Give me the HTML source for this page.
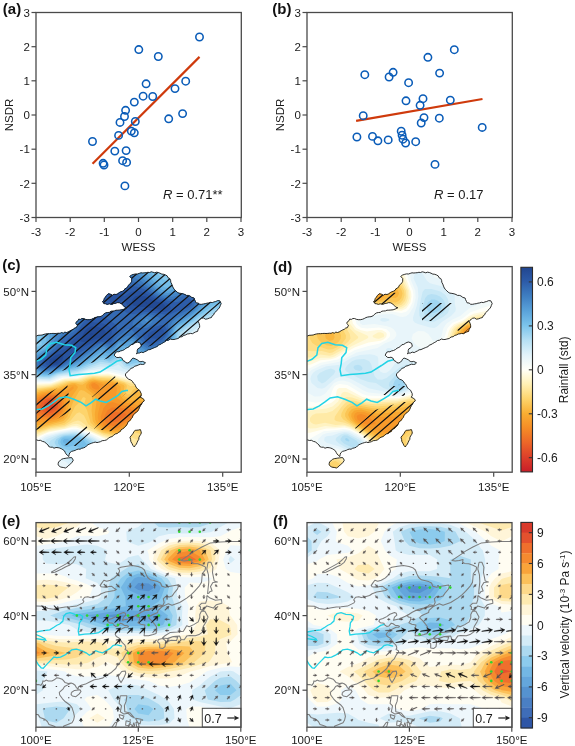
<!DOCTYPE html>
<html><head><meta charset="utf-8"><style>
html,body{margin:0;padding:0;background:#fff;overflow:hidden;width:575px;height:746px;}
svg{display:block;will-change:transform;}
.t{font-family:"Liberation Sans",sans-serif;font-size:11.5px;fill:#1a1a1a;}
.t2{font-family:"Liberation Sans",sans-serif;font-size:13px;fill:#1a1a1a;}
.lab{font-family:"Liberation Sans",sans-serif;font-size:15px;font-weight:bold;fill:#111;}
</style></head>
<body><svg width="575" height="746" viewBox="0 0 575 746">
<line x1="31.5" y1="217.5" x2="36.0" y2="217.5" stroke="#4a4a4a" stroke-width="1.2"/>
<text x="29.8" y="221.7" text-anchor="end" class="t">-3</text>
<line x1="36.0" y1="217.5" x2="36.0" y2="222.0" stroke="#4a4a4a" stroke-width="1.2"/>
<text x="36.0" y="236.0" text-anchor="middle" class="t">-3</text>
<line x1="31.5" y1="183.3" x2="36.0" y2="183.3" stroke="#4a4a4a" stroke-width="1.2"/>
<text x="29.8" y="187.5" text-anchor="end" class="t">-2</text>
<line x1="70.2" y1="217.5" x2="70.2" y2="222.0" stroke="#4a4a4a" stroke-width="1.2"/>
<text x="70.2" y="236.0" text-anchor="middle" class="t">-2</text>
<line x1="31.5" y1="149.2" x2="36.0" y2="149.2" stroke="#4a4a4a" stroke-width="1.2"/>
<text x="29.8" y="153.4" text-anchor="end" class="t">-1</text>
<line x1="104.3" y1="217.5" x2="104.3" y2="222.0" stroke="#4a4a4a" stroke-width="1.2"/>
<text x="104.3" y="236.0" text-anchor="middle" class="t">-1</text>
<line x1="31.5" y1="115.0" x2="36.0" y2="115.0" stroke="#4a4a4a" stroke-width="1.2"/>
<text x="29.8" y="119.2" text-anchor="end" class="t">0</text>
<line x1="138.5" y1="217.5" x2="138.5" y2="222.0" stroke="#4a4a4a" stroke-width="1.2"/>
<text x="138.5" y="236.0" text-anchor="middle" class="t">0</text>
<line x1="31.5" y1="80.8" x2="36.0" y2="80.8" stroke="#4a4a4a" stroke-width="1.2"/>
<text x="29.8" y="85.0" text-anchor="end" class="t">1</text>
<line x1="172.7" y1="217.5" x2="172.7" y2="222.0" stroke="#4a4a4a" stroke-width="1.2"/>
<text x="172.7" y="236.0" text-anchor="middle" class="t">1</text>
<line x1="31.5" y1="46.7" x2="36.0" y2="46.7" stroke="#4a4a4a" stroke-width="1.2"/>
<text x="29.8" y="50.9" text-anchor="end" class="t">2</text>
<line x1="206.8" y1="217.5" x2="206.8" y2="222.0" stroke="#4a4a4a" stroke-width="1.2"/>
<text x="206.8" y="236.0" text-anchor="middle" class="t">2</text>
<line x1="31.5" y1="12.5" x2="36.0" y2="12.5" stroke="#4a4a4a" stroke-width="1.2"/>
<text x="29.8" y="16.7" text-anchor="end" class="t">3</text>
<line x1="241.0" y1="217.5" x2="241.0" y2="222.0" stroke="#4a4a4a" stroke-width="1.2"/>
<text x="241.0" y="236.0" text-anchor="middle" class="t">3</text>
<rect x="36.0" y="12.5" width="205.3" height="205.0" fill="none" stroke="#4a4a4a" stroke-width="1.3"/>
<line x1="92.5" y1="163.8" x2="199.5" y2="56.9" stroke="#cf3a0c" stroke-width="2.2"/>
<circle cx="199.5" cy="37.0" r="3.7" fill="none" stroke="#0a5cb8" stroke-width="1.55"/>
<circle cx="138.8" cy="49.6" r="3.7" fill="none" stroke="#0a5cb8" stroke-width="1.55"/>
<circle cx="158.3" cy="56.5" r="3.7" fill="none" stroke="#0a5cb8" stroke-width="1.55"/>
<circle cx="146.1" cy="83.8" r="3.7" fill="none" stroke="#0a5cb8" stroke-width="1.55"/>
<circle cx="185.7" cy="81.2" r="3.7" fill="none" stroke="#0a5cb8" stroke-width="1.55"/>
<circle cx="175.0" cy="88.6" r="3.7" fill="none" stroke="#0a5cb8" stroke-width="1.55"/>
<circle cx="143.1" cy="96.2" r="3.7" fill="none" stroke="#0a5cb8" stroke-width="1.55"/>
<circle cx="152.7" cy="96.5" r="3.7" fill="none" stroke="#0a5cb8" stroke-width="1.55"/>
<circle cx="134.3" cy="102.1" r="3.7" fill="none" stroke="#0a5cb8" stroke-width="1.55"/>
<circle cx="125.6" cy="110.3" r="3.7" fill="none" stroke="#0a5cb8" stroke-width="1.55"/>
<circle cx="124.5" cy="116.5" r="3.7" fill="none" stroke="#0a5cb8" stroke-width="1.55"/>
<circle cx="182.6" cy="113.6" r="3.7" fill="none" stroke="#0a5cb8" stroke-width="1.55"/>
<circle cx="168.7" cy="118.8" r="3.7" fill="none" stroke="#0a5cb8" stroke-width="1.55"/>
<circle cx="120.0" cy="122.4" r="3.7" fill="none" stroke="#0a5cb8" stroke-width="1.55"/>
<circle cx="135.3" cy="121.5" r="3.7" fill="none" stroke="#0a5cb8" stroke-width="1.55"/>
<circle cx="118.6" cy="135.4" r="3.7" fill="none" stroke="#0a5cb8" stroke-width="1.55"/>
<circle cx="131.3" cy="131.1" r="3.7" fill="none" stroke="#0a5cb8" stroke-width="1.55"/>
<circle cx="134.3" cy="132.8" r="3.7" fill="none" stroke="#0a5cb8" stroke-width="1.55"/>
<circle cx="92.5" cy="141.5" r="3.7" fill="none" stroke="#0a5cb8" stroke-width="1.55"/>
<circle cx="114.8" cy="151.1" r="3.7" fill="none" stroke="#0a5cb8" stroke-width="1.55"/>
<circle cx="126.1" cy="150.6" r="3.7" fill="none" stroke="#0a5cb8" stroke-width="1.55"/>
<circle cx="103.1" cy="163.3" r="3.7" fill="none" stroke="#0a5cb8" stroke-width="1.55"/>
<circle cx="104.0" cy="165.0" r="3.7" fill="none" stroke="#0a5cb8" stroke-width="1.55"/>
<circle cx="122.6" cy="160.7" r="3.7" fill="none" stroke="#0a5cb8" stroke-width="1.55"/>
<circle cx="126.6" cy="162.4" r="3.7" fill="none" stroke="#0a5cb8" stroke-width="1.55"/>
<circle cx="124.9" cy="185.9" r="3.7" fill="none" stroke="#0a5cb8" stroke-width="1.55"/>
<text x="138.5" y="250.5" text-anchor="middle" class="t">WESS</text>
<text transform="translate(13.4,115) rotate(-90)" text-anchor="middle" class="t">NSDR</text>
<text x="2.8" y="14" class="lab">(a)</text>
<text x="163" y="199" class="t2"><tspan font-style="italic">R</tspan> = 0.71**</text>
<line x1="302.5" y1="217.5" x2="307.0" y2="217.5" stroke="#4a4a4a" stroke-width="1.2"/>
<text x="300.8" y="221.7" text-anchor="end" class="t">-3</text>
<line x1="307.0" y1="217.5" x2="307.0" y2="222.0" stroke="#4a4a4a" stroke-width="1.2"/>
<text x="307.0" y="236.0" text-anchor="middle" class="t">-3</text>
<line x1="302.5" y1="183.3" x2="307.0" y2="183.3" stroke="#4a4a4a" stroke-width="1.2"/>
<text x="300.8" y="187.5" text-anchor="end" class="t">-2</text>
<line x1="341.2" y1="217.5" x2="341.2" y2="222.0" stroke="#4a4a4a" stroke-width="1.2"/>
<text x="341.2" y="236.0" text-anchor="middle" class="t">-2</text>
<line x1="302.5" y1="149.2" x2="307.0" y2="149.2" stroke="#4a4a4a" stroke-width="1.2"/>
<text x="300.8" y="153.4" text-anchor="end" class="t">-1</text>
<line x1="375.3" y1="217.5" x2="375.3" y2="222.0" stroke="#4a4a4a" stroke-width="1.2"/>
<text x="375.3" y="236.0" text-anchor="middle" class="t">-1</text>
<line x1="302.5" y1="115.0" x2="307.0" y2="115.0" stroke="#4a4a4a" stroke-width="1.2"/>
<text x="300.8" y="119.2" text-anchor="end" class="t">0</text>
<line x1="409.5" y1="217.5" x2="409.5" y2="222.0" stroke="#4a4a4a" stroke-width="1.2"/>
<text x="409.5" y="236.0" text-anchor="middle" class="t">0</text>
<line x1="302.5" y1="80.8" x2="307.0" y2="80.8" stroke="#4a4a4a" stroke-width="1.2"/>
<text x="300.8" y="85.0" text-anchor="end" class="t">1</text>
<line x1="443.7" y1="217.5" x2="443.7" y2="222.0" stroke="#4a4a4a" stroke-width="1.2"/>
<text x="443.7" y="236.0" text-anchor="middle" class="t">1</text>
<line x1="302.5" y1="46.7" x2="307.0" y2="46.7" stroke="#4a4a4a" stroke-width="1.2"/>
<text x="300.8" y="50.9" text-anchor="end" class="t">2</text>
<line x1="477.8" y1="217.5" x2="477.8" y2="222.0" stroke="#4a4a4a" stroke-width="1.2"/>
<text x="477.8" y="236.0" text-anchor="middle" class="t">2</text>
<line x1="302.5" y1="12.5" x2="307.0" y2="12.5" stroke="#4a4a4a" stroke-width="1.2"/>
<text x="300.8" y="16.7" text-anchor="end" class="t">3</text>
<line x1="512.0" y1="217.5" x2="512.0" y2="222.0" stroke="#4a4a4a" stroke-width="1.2"/>
<text x="512.0" y="236.0" text-anchor="middle" class="t">3</text>
<rect x="307.0" y="12.5" width="205.3" height="205.0" fill="none" stroke="#4a4a4a" stroke-width="1.3"/>
<line x1="356.1" y1="120.8" x2="482.5" y2="99.0" stroke="#cf3a0c" stroke-width="2.2"/>
<circle cx="454.3" cy="49.7" r="3.7" fill="none" stroke="#0a5cb8" stroke-width="1.55"/>
<circle cx="427.9" cy="57.3" r="3.7" fill="none" stroke="#0a5cb8" stroke-width="1.55"/>
<circle cx="364.8" cy="74.7" r="3.7" fill="none" stroke="#0a5cb8" stroke-width="1.55"/>
<circle cx="393.1" cy="72.3" r="3.7" fill="none" stroke="#0a5cb8" stroke-width="1.55"/>
<circle cx="389.1" cy="77.0" r="3.7" fill="none" stroke="#0a5cb8" stroke-width="1.55"/>
<circle cx="439.6" cy="73.1" r="3.7" fill="none" stroke="#0a5cb8" stroke-width="1.55"/>
<circle cx="408.6" cy="82.7" r="3.7" fill="none" stroke="#0a5cb8" stroke-width="1.55"/>
<circle cx="406.0" cy="100.8" r="3.7" fill="none" stroke="#0a5cb8" stroke-width="1.55"/>
<circle cx="423.0" cy="98.7" r="3.7" fill="none" stroke="#0a5cb8" stroke-width="1.55"/>
<circle cx="420.1" cy="105.3" r="3.7" fill="none" stroke="#0a5cb8" stroke-width="1.55"/>
<circle cx="450.3" cy="100.1" r="3.7" fill="none" stroke="#0a5cb8" stroke-width="1.55"/>
<circle cx="363.2" cy="115.7" r="3.7" fill="none" stroke="#0a5cb8" stroke-width="1.55"/>
<circle cx="424.0" cy="117.6" r="3.7" fill="none" stroke="#0a5cb8" stroke-width="1.55"/>
<circle cx="421.2" cy="123.0" r="3.7" fill="none" stroke="#0a5cb8" stroke-width="1.55"/>
<circle cx="439.3" cy="118.2" r="3.7" fill="none" stroke="#0a5cb8" stroke-width="1.55"/>
<circle cx="482.2" cy="127.4" r="3.7" fill="none" stroke="#0a5cb8" stroke-width="1.55"/>
<circle cx="356.9" cy="137.0" r="3.7" fill="none" stroke="#0a5cb8" stroke-width="1.55"/>
<circle cx="372.5" cy="136.4" r="3.7" fill="none" stroke="#0a5cb8" stroke-width="1.55"/>
<circle cx="377.9" cy="140.8" r="3.7" fill="none" stroke="#0a5cb8" stroke-width="1.55"/>
<circle cx="388.2" cy="139.9" r="3.7" fill="none" stroke="#0a5cb8" stroke-width="1.55"/>
<circle cx="401.2" cy="131.2" r="3.7" fill="none" stroke="#0a5cb8" stroke-width="1.55"/>
<circle cx="402.1" cy="135.2" r="3.7" fill="none" stroke="#0a5cb8" stroke-width="1.55"/>
<circle cx="403.0" cy="139.2" r="3.7" fill="none" stroke="#0a5cb8" stroke-width="1.55"/>
<circle cx="405.6" cy="143.0" r="3.7" fill="none" stroke="#0a5cb8" stroke-width="1.55"/>
<circle cx="415.7" cy="141.7" r="3.7" fill="none" stroke="#0a5cb8" stroke-width="1.55"/>
<circle cx="435.0" cy="164.4" r="3.7" fill="none" stroke="#0a5cb8" stroke-width="1.55"/>
<text x="409.5" y="250.5" text-anchor="middle" class="t">WESS</text>
<text transform="translate(284.4,115) rotate(-90)" text-anchor="middle" class="t">NSDR</text>
<text x="272.3" y="14" class="lab">(b)</text>
<text x="434" y="199" class="t2"><tspan font-style="italic">R</tspan> = 0.17</text>
<clipPath id="landc"><path d="M30,336.3 32,336.2 34.1,336.5 36.1,336.2 38,335.3 40.1,335.2 42.2,335 44,334.3 45.8,333.9 47.6,333.7 49.5,333.7 51.3,333.5 53.1,333.4 55,333.5 56.8,333.4 58.4,333.2 60.1,333.3 61.6,332.6 63.3,333.2 64.8,332.1 66.5,332.5 68.4,331.8 70.2,330.7 71.7,329.9 73.3,329.3 74.6,328.1 76.3,327.7 77.5,325.2 75.7,323.4 76.4,321.8 78,320.7 78.7,319.1 80.4,319.4 81.9,318.5 83.6,318.5 85.3,319.3 87.2,319.7 89.3,319.7 91.4,319.3 93.3,318.5 94.9,317.6 96.5,317.1 98.2,316.8 100,316.7 102.2,315.7 103.9,314 105.5,312.9 107.4,312.5 109.3,312.4 110.9,311.2 112.6,311 114.4,310.9 116,310.2 117.8,310.2 119.9,310 122.1,309.8 124.1,309.1 126.9,307.7 124.9,307.2 123.4,305.7 121.8,304.1 119.9,302.9 117.7,302.6 115.7,303.3 114,303.4 112.5,304.2 110.9,304.3 109.2,303.8 107.4,304.4 105.6,303.8 103.9,303.6 102.5,301.5 103.8,300.3 104.2,298.6 105.3,297.3 106.5,295.4 108.1,293.8 110.3,294.1 112.3,295.2 114,294.2 116,294.5 117.8,293.8 119.2,292.6 120.8,291.8 122.5,291.2 124.1,290.3 124.9,288.8 126.5,288.1 127.6,286.9 128.3,285.3 129.7,284.2 130.9,282.8 131.7,281.3 131.7,278.5 129.7,276.4 131.6,275 133.8,274.3 135.6,273.9 137.5,274 139.2,273.4 141,272.8 142.9,273 144.6,272.8 146.2,272.7 147.9,272.3 149.6,272.5 151.2,271.8 152.9,272.2 154.7,272.8 156.5,272.2 158.3,272.5 160,273.2 161.8,274.1 163.8,274.3 165.6,275 167.2,275.9 168,277.7 169.7,278.5 170.6,280.3 170.8,282.3 171.8,284.1 172.5,286.1 173.3,288 174.6,289.7 175.9,290.9 177.2,292.2 178.8,293.1 180.9,293.4 183,293.8 185,294.5 186.5,295.4 188.3,295.4 189.9,295.9 191.8,297.4 194.1,298 194.6,299.7 195.4,301.3 196.2,302.9 198.1,303 199.7,304.3 201.7,304.3 203.4,303.9 205.2,303.7 206.9,303.2 208.7,302.9 210.4,302.3 212.3,302.6 214,301.9 215.7,301.5 217.7,300.6 219.8,300.8 221.2,303.6 220.4,305.3 219.8,307 218.6,308.8 217,310.2 215.7,311.9 214.3,313 213.7,314.8 212.2,315.8 211.5,317.5 209.4,318.1 207.3,318.9 205.4,319.2 203.6,318 201.7,318.2 200.4,319.2 199,320.2 198.3,321.7 199.1,323.4 199.6,325.3 199.7,327.2 198.2,329.1 197.6,331.4 195.7,331.9 194,332.8 192.5,333.7 190.6,333.4 189,333.8 187.2,334 185.7,334.9 183.8,335.4 182.1,336.7 180.1,337 178.2,338.5 175.9,339 174,339.5 172.2,339.5 170.3,339 168.6,340.2 166.5,340.5 164.8,341.8 163.2,342.7 161.6,343.6 160,344.6 158.4,345 157.3,346.5 155.8,347.1 154.3,347.7 152.1,348.6 150,349.6 148.1,349.8 146.5,350.9 144.8,351.7 143.2,352.6 141.2,352.1 139.6,353 137.8,353.1 136.4,353.8 137.2,352.3 137.2,350.5 137.8,348.9 139.8,347.8 141.3,346.1 140.6,343.3 137.8,342 136,342.4 134.3,343.3 132.8,344.4 130.9,344.7 129.5,346.3 127.9,347.4 126,348.2 124.4,349.6 122.5,350.5 120.4,351 118.9,351.8 117.1,351.7 115.6,352.4 114.2,355.2 116.3,357.3 118.1,357.6 120,357.2 121.8,358 123.2,360.7 124.9,361.4 126,362.8 127.9,363 129.5,362.1 130.7,360.8 131.6,359.2 133,358 135.7,359 137.6,360 139.2,361.4 140.9,361.7 142.7,361.4 145.5,362.8 144.1,364.2 142.3,364.5 140.6,364.2 138.8,364.8 137.1,365.6 134.8,366.2 133,367.7 131.1,368.4 129.5,369.8 128.5,371.2 127.2,372.1 126,373.3 125.3,375 126.1,376.6 127.1,378 128.8,379.3 130.8,380 132.4,381.3 133.4,383.1 134.7,384.2 135.5,385.7 136,387.3 137.2,388.3 138.4,389.5 139.7,390.4 140.4,392 141.2,393.6 141.2,395.7 140.2,397.2 142.1,398.1 143.8,399.3 144.3,400.9 142.6,402.1 141.7,404 140.6,405.5 139.7,407.1 138.8,409.3 137.6,411.3 136.3,412.3 135,413.2 133.9,414.4 132.9,415.7 132.4,417.3 131.3,418.6 130.1,420.5 128.2,421.7 127.3,423.9 126.1,425.9 124.8,426.8 123.8,428.2 122.4,429 121,429.9 120.3,431.5 118.8,432.2 117.2,433.5 115.2,434 113.6,435.3 112,436.6 110,437.2 108.3,438.4 106.3,440 104.3,440.5 102.2,440.7 100.4,441.7 98.7,442.2 97,442.6 95.2,442.1 93.5,442.6 91.6,443.2 89.8,443.9 88,444.7 86.4,446 85.1,447.3 83.4,447.9 81.6,448.3 80.1,449.2 78.4,449.1 76.8,449.5 75.4,450.3 73.8,450.8 71.5,451.4 69.7,452.9 69.1,454.7 68.8,456.5 67.3,455.3 66,453.9 65.2,452.4 64.4,450.8 62.9,449.7 61.3,448.7 59.8,448.1 58.2,447.7 56,447.5 54,448.2 52.4,447.2 50.5,447.2 48.8,446.6 48.1,445 46.7,444 44.6,441.9 42.4,441.4 40.4,440.3 38.3,440.5 36.3,439.8 34.2,440.2 32.1,439.8 30,439.8ZM58.7,461.7 60.2,460.6 61.6,459.3 63.4,458.6 65.1,458.4 66.7,458.1 68.4,457.9 70,457.7 71.7,457.6 73.3,460.2 72.2,462.1 70.7,463.8 69.3,464.8 68.2,466 66.9,467.1 65.5,468 63.8,467.6 62,467.3 60.3,467 58.2,464.9 58.2,463.3ZM135.2,430.4 136.9,430.2 138.7,430 140.4,429.6 141,431.3 141.3,433 140.6,434.6 139.6,436 138.9,437.6 138.8,439.4 137.8,440.9 137.1,442.5 136.4,444.1 135.2,445.5 134.3,447 132.9,445.4 132,443.5 130.9,441.7 130.6,439.5 130,437.4 130.9,435.9 132.2,434.7 133.2,433.2 133.9,431.6Z"/></clipPath>
<clipPath id="framec"><rect x="36" y="266.5" width="205.3" height="206"/></clipPath>
<g clip-path="url(#framec)"><g clip-path="url(#landc)">
<rect x="30" y="262" width="215" height="214" fill="#fffff8"/>
<path fill="#f3faf9" fill-rule="evenodd" d="M30,262 244.5,262 244.5,458.4 230.1,440.5 220.5,426.4 206.4,401.5 198.7,382 196.5,378.8 193.5,376.7 189,376 169.5,376.8 145.5,375.6 129,377.1 109.5,372.2 93,372.4 87,373.4 76.5,377.4 63,377.8 51,382.4 30,382.6 30,262ZM67.2,430 73.5,428.7 78,429.1 91.5,434 108,442.1 119.5,449.5 135,464.2 151.3,476.5 30,476.5 30,445.6 40.3,437.5 45,434.8 55.5,431.9 67.2,430Z"/>
<path fill="#e8f5fa" fill-rule="evenodd" d="M30,262 244.5,262 244.5,437 226.7,415 220.2,404.5 216.1,395.5 213.7,386.5 212.8,376 215.8,352 215.8,346 214.9,341.5 213.4,338.5 211.5,336.5 208.5,334.9 202.5,335.1 198.9,337 195.4,340 192.8,344.5 189.9,358 187.1,364 181.5,369.2 174,372.2 163.5,373.5 144,373.5 129,375.2 111,370.9 103.5,370.4 90,371.5 75,376.6 63,376.8 49.5,381.6 30,381.1 30,262ZM72.3,430 78,430.3 90,434.6 109,445 119.4,454 137.6,476.5 62.2,476.5 61.5,472.5 60,471.2 57,472.2 54.9,476.5 30,476.5 30,451.1 36.6,443.5 42.8,437.5 46.5,435.5 58.5,432.4 72.3,430Z"/>
<path fill="#d9eff9" fill-rule="evenodd" d="M30,262 244.5,262 244.5,419.5 233,404.5 226.2,391 224.1,383.5 222.9,374.5 224.1,349 223.2,340 221.5,335.5 219,331.9 216,329.4 211.5,327.7 205.5,327.8 201,329.3 190.5,337 187.7,341.5 185.2,353.5 181.9,361 177,366 169.5,369.4 162,370.8 144,371.3 130.5,373 112.5,369.3 102,368.6 88.5,370.6 75,375.4 61.5,376.1 49.5,380.7 30,379.6 30,262ZM69.4,431.5 76.5,431.1 86.8,434.5 94.5,438 107.3,446.5 112.1,451 117,457 127.4,476.5 74.1,476.5 71.2,469 67.5,463.3 64.5,461 60,460.3 49.5,461.8 40.5,466 33,471.3 31.5,471.6 30.3,470.5 37,449.5 40.1,443.5 43.5,439 45.3,437.5 49.6,436 60,433.1 69.4,431.5Z"/>
<path fill="#c8e8f6" fill-rule="evenodd" d="M30,262 244.5,262 244.5,402.3 236.6,389.5 231.9,376 230.5,364 230.8,344.5 229.1,335.5 227,331 223.2,326.5 219,323.8 214.5,322.5 208.5,322.6 201,324.9 186.1,335.5 184.3,338.5 182,350.5 178.9,358 174,363.3 166.5,367 159,368.5 144,369.1 130.5,370.7 122.8,368.5 118.5,364.5 112.5,367 100.5,366.5 88.5,369.3 76.5,373.8 58.5,375.8 49.5,379.6 30,378.2 30,262ZM65.7,433 75,432.1 81,433.2 93.8,439 101.8,445 108,451 112.9,458.5 116.4,467.5 117.9,476.5 82,476.5 74.1,464.5 69,459.5 64.5,457.4 48,453.4 44.1,451 43,448 43.2,445 44.3,442 46.5,439.3 58.8,434.5 65.7,433Z"/>
<path fill="#b6e0f4" fill-rule="evenodd" d="M30,262 244.5,262 244.5,383.4 240.5,374.5 238,365.5 237.3,359.5 237.5,343 235.1,332.5 231.7,326.5 227.4,322 222,318.9 216,317.7 208.5,318.8 201,321.6 183,333.6 181.5,336.1 179.7,347.5 176.9,355 171.7,361 165,364.6 157.5,366.2 142.5,366.9 130.5,368.6 124.5,366.7 121.1,362.5 118.5,361.1 111,365.1 100.5,364.1 76.5,372.3 58.5,374.8 49.5,378.6 42,378.5 30,376.6 30,262ZM62.5,434.5 73.5,433.2 79.5,433.7 90.9,439 97,443.5 103.9,451 108.3,460 108.9,469 106.4,475 104.9,476.5 93,476.3 87,472 73.4,458.5 69,456 58.5,452.2 50.5,446.5 48.9,443.5 50.6,440.5 58.1,436 62.5,434.5Z"/>
<path fill="#9fd5f1" fill-rule="evenodd" d="M30,262 244.5,262 244.5,341.5 241,329.5 238.4,325 234,319.9 229.5,316.4 225,314.2 220.5,313.2 214.5,313.5 208.5,315.3 201,318.9 180,332.5 177.6,346 174.6,353.5 169.5,359.1 163,362.5 156,364.1 141,364.6 130.5,366.6 126,365.4 121.5,360.2 118.5,359.1 111,363.2 100.5,361.8 78,370.4 57,374.2 49.5,377.5 39,377.1 30,375.1 30,262ZM71.3,434.5 78,434.5 82.5,435.9 90.3,440.5 95.4,445 99.7,451 101.9,457 101.7,461.5 99,465.8 94.5,467 90,465.8 73.5,454.5 62.3,451 57.9,448 54.8,443.5 54.6,442 56.4,439 63,435.4 71.3,434.5Z"/>
<path fill="#88caee" fill-rule="evenodd" d="M30,262 161.1,262 163.5,265.6 166.5,267.1 169.5,266.3 173.1,262 244.5,262 244.5,322.3 238.5,315.8 231,310.8 223.5,308.5 216,308.9 207,312.8 178.5,331 177.4,334 175.8,344.5 173.5,350.5 168.7,356.5 162,360.3 153,362.1 139.5,362.2 129,364.6 126,363.3 121.5,357.5 118.5,357 109.5,361.7 103.5,359.8 99,360.1 78,368.9 57,373.3 49.5,376.3 43.5,376.5 34.5,375 30,373.4 30,345.5 36,341.9 38,337 37.5,334.3 36,331.8 33.1,329.5 30,328.5 30,262ZM65,436 78,435.7 83,437.5 89,442 93,446.5 95.2,452.5 94.5,456.2 91.5,458.3 88.5,458.2 84,456.4 75,450.9 66,449.6 61.5,447.8 58,443.5 58.1,440.5 60.9,437.5 65,436Z"/>
<path fill="#75bee8" fill-rule="evenodd" d="M30,262 150.7,262 154.3,269.5 157.5,274.1 163.5,279.4 168,281.4 171,280.2 174.6,277 185.7,262 244.5,262 244.5,312.6 236.3,307 228,303.8 220.5,303.3 213,305.8 189,322.5 178.5,328.7 176.2,332.5 174.3,343 171,350.4 166.5,355.2 159,358.9 151.5,360 138,359.7 129,362.3 126.8,361 123,355 120,354.2 117,355.1 109.5,359.8 103.5,357.7 99,357.9 79.3,367 57,372.4 49.5,375.2 45,375.6 37.2,374.5 30,371.5 30,350.2 42,344.5 41.2,341.5 41.7,334 40.5,329.6 38.2,326.5 34.5,324.2 30,323 30,262ZM63.7,437.5 80.2,437.5 83.9,440.5 87.3,445 88,448 87.4,449.5 85.5,450.3 82.5,449.8 75,445.3 67.5,447 63,445.9 61.5,444.7 60.3,442 61.4,439 63.7,437.5Z"/>
<path fill="#68b1e1" fill-rule="evenodd" d="M30,262 144,262 153.8,277 162.6,286 165,287.4 168,287.8 171,286.9 174.3,284.5 196.3,262 244.5,262 244.5,304.4 235.5,299.9 228,297.7 220.5,298 214.5,300.5 195.5,316 180,325.4 177,328 175.3,331 173,341.5 170.4,347.5 165,353.5 159,356.5 150,357.8 132,356.5 130.5,355.9 126,350.9 121.5,350 111,356.2 108,356.6 102,355 99,355.6 82.9,364 66,369.5 48,374.4 39,373.7 34.5,372.3 30,369.2 30,354.2 34.5,351.4 44.6,347.5 46.1,346 46.6,343 45.3,329.5 43.5,324.5 38.7,320.5 30,318.3 30,262ZM64.2,439 67.8,439 70.2,440.5 70.2,442 67.5,443.9 64.5,443.6 63,442 63,440.5 64.2,439Z"/>
<path fill="#5aa3da" fill-rule="evenodd" d="M30,262 137.6,262 148.1,275.5 159.2,287.5 162,289.7 166.5,290.9 170.2,290.5 174,288.8 187.5,278.2 203.5,268 210.3,262 244.5,262 244.5,296.2 234,291.7 228,290.1 222,290.4 216,293.3 196.7,313 189,318.6 177,325.6 174.5,329.5 171.8,340 169.1,346 165,350.7 159,354.2 153,355.5 145.1,355 137.6,352 132,345 124.5,346.1 120,345.8 115.5,350.5 111,353.2 108,353.4 103.5,352.1 100.5,352.4 85.5,361 76.5,364.9 49.5,373.1 42,373.2 35.9,371.5 31.8,368.5 30,365.7 30,359 33.4,355 45,349.3 48.1,346 48.9,343 50.2,323.5 48.1,319 45,316.9 39,315 30,313.9 30,262Z"/>
<path fill="#4f95d0" fill-rule="evenodd" d="M30,262 130.3,262 158.8,290.5 162,292.5 168,293.1 172.5,292.3 189,282.4 199.5,279.2 205.5,279.6 208.5,281.2 210,283.8 210,287.5 206,298 198,309.5 190.5,315.7 178.6,322 175.2,325 173.5,328 171,337.9 168.8,343 165,347.9 160.5,351.1 153,353.3 145.5,352.6 139.5,349.1 133.5,341.5 130.5,341 124.5,343.5 118.5,343.4 114.2,349 111,350.7 108,350.6 103.5,349 100.5,349.7 81.7,361 63,368.5 49.5,372 42,372.1 36.1,370 33,367 31.9,364 32.7,359.5 36,355.9 48,348.7 50.6,344.5 52.5,335.4 55.8,328 60,323.9 68,322 68.8,319 66,313.7 60,310.7 30,309.5 30,262ZM230.8,262 244.5,262 244.5,285.1 237.1,280 231.4,274 230,269.5 230.8,262Z"/>
<path fill="#4486c7" fill-rule="evenodd" d="M30,262 121,262 144,279.6 160.5,294 166.5,295.1 172.5,294.6 187.5,287.3 195,285.7 199.5,286.9 201.7,289 202.8,292 202.6,296.5 199.8,304 195.2,310 187.5,315.5 177.3,320.5 174,323.5 172.4,326.5 170.3,335.5 168,341.2 164.1,346 159,349.4 153,351.1 146.7,350.5 141.7,347.5 135,339.9 132,338.5 129,338.6 123,341.3 118.5,341.5 114,346.9 111,348.6 108,348.4 103.5,346.7 100.1,347.5 81,359.4 63,367.5 49.5,370.9 42,371 38.8,370 35.2,367 34.2,362.5 35.4,359.5 49.7,349 52.7,344.5 56.3,335.5 60,330.7 63,329 69,328.1 72.4,326.5 74.3,322 74.7,314.5 73.5,309.2 71.2,305.5 67.5,302.5 63,301 55.5,301.1 39,304.3 30,305.1 30,262ZM147,318.8 145.5,319.3 144.9,320.5 145.5,321.3 147,321.7 148.5,320.5 147,318.8Z"/>
<path fill="#3b78bd" fill-rule="evenodd" d="M30,262 107.5,262 119.1,269.5 141,281 159,295.1 165,296.7 172.5,296.8 177,295.7 187.5,290.9 193.5,290.4 196.5,291.9 198,293.7 198.8,296.5 198.4,301 196.5,305.5 192,310.5 186,314.1 177,318 172.5,321.5 170.8,325 169.5,333.7 167.6,338.5 163.5,343.8 157.6,347.5 151.5,348.9 147,348.2 143.5,346 135,337.3 130.5,335.5 127.5,335.7 117,340.3 112.5,346.2 109.5,346.9 103.5,345.1 99.2,346 79.7,358 61.7,367 49.5,369.9 42,369.7 39,368.5 37.4,367 36.4,364 37.1,361 39.8,358 51.7,349 61.5,335 64.5,332.8 72,329.9 74.4,328 76.2,325 78.7,317.5 80.3,307 78.7,301 75.9,296.5 72,293.2 66,291.1 57,291.7 37.5,298.5 30,299.9 30,262ZM147,315.9 144,316.5 140.6,319 140,322 142.5,324.6 147,325 150,323.9 152.2,322 152.8,319 151.5,317.5 147,315.9Z"/>
<path fill="#346ab3" fill-rule="evenodd" d="M30,262 78.7,262 81,268.4 82.5,270.1 103.5,272.5 123,278.9 135,281.9 145.5,287 155.8,295 160.5,297.3 168,298.9 174,299.1 178.5,298 186,294.7 190.5,294.2 194.5,296.5 195.6,299.5 195.3,302.5 193.5,306.4 190.5,309.2 174,316.6 168.7,320.5 168.1,323.5 168.5,331 167.4,335.5 163.5,341.1 157.5,344.8 151.5,346.4 147,345.7 144,343.4 132,330 130.5,328.9 127.5,328.9 117,337.5 112.5,343.9 111,345 103.5,343.5 99,344.3 60,366.7 51,368.6 43.2,368.5 40.5,367.5 38.9,365.5 38.9,362.5 39.7,361 55.6,347.5 64.7,337 73.5,331.8 76,329.5 87.4,310 88.5,305.5 88.4,301 82.5,278.2 81,274.5 78,272.9 72,273.7 63,276.6 38.9,289 30,291.6 30,262ZM142.5,314.4 136.6,317.5 133.8,320.5 132.5,323.5 132.6,325 133.8,326.5 141,328.3 147,327.7 155.5,323.5 160.2,319 159,317.5 150.9,314.5 147,313.9 142.5,314.4Z"/>
<path fill="#2d5ca9" fill-rule="evenodd" d="M30,262 48.2,262 40.3,271 34.5,274.9 30,276.5 30,262ZM104.9,284.5 112.5,284.1 123,287.1 130.5,286 136.5,286.4 144,289.1 154.9,296.5 160.5,298.9 175.5,302.3 178.5,301.8 186,298.4 189,298.2 192,300.4 192.1,304 190.5,306.3 187.5,308.1 178.5,310.8 168,315.1 147,311.9 141,312.4 133.5,314.3 129,314.1 126,312.5 121.5,308.4 106.5,308.3 103.5,307.3 101.4,305.5 98.5,299.5 98.3,292 100.5,287.4 104.9,284.5ZM89.4,317.5 94.5,316.1 102,316.8 109.5,320.1 115.5,324.6 117.2,328 117.1,331 111,341.8 109.5,342.4 102,341.9 94.5,344.2 76.5,354.5 58.5,366.2 49.5,367.4 45,367 42,365.6 41.7,362.5 43.9,359.5 63,345 68.6,338.5 76.5,332.5 84,321.6 89.4,317.5ZM161,325 163.5,325.2 165,326.2 166.5,329 166.8,332.5 165,336.3 162,339.4 157.5,341.9 150,343.8 147,343 143,337 142.6,334 143.6,332.5 156,326.5 161,325Z"/>
<path fill="#28539f" fill-rule="evenodd" d="M130.6,292 136.5,290.6 144,292.3 154.5,298.4 165.9,302.5 170,305.5 170.7,308.5 168,310.9 163.5,312.1 147,310 133.5,310.3 129,308.4 124.5,299.9 123,299.8 118.5,303 115.5,303.7 111.1,302.5 108.4,299.5 108.5,295 111,292.7 115.5,292.3 124.5,296.2 130.6,292ZM91.5,322 103.3,323.5 109.3,326.5 111,328.5 111.8,331 111.5,334 109.5,337.8 108,338.9 94.5,342 75,351 70.5,354.3 62.5,362.5 57.8,365.5 51,366 48,365.5 45.5,364 45.8,361 51.8,355 57,351.8 65.3,349 67.5,347.6 71.7,341.5 79.5,333.1 84,326.3 87,323.6 91.5,322ZM156.8,329.5 160.5,328.9 163.5,330.1 164.2,332.5 162,335.8 159,337.9 156,338.8 148.5,337.9 147.6,335.5 148.5,333.6 151.5,331.4 156.8,329.5Z"/>
<path fill="#234a94" fill-rule="evenodd" d="M135,296.5 139.5,295.2 145.5,296.4 154.5,300.9 162,303 165,305.5 165.3,307 163.5,309.1 160.5,309.8 151.5,308 135,306.1 133.3,305.5 131.9,302.5 132.4,299.5 135,296.5ZM91.2,326.5 96,326.5 102,328.1 105.4,331 105.6,334 102,336.8 91.5,340.4 84,342 80.8,341.5 80.9,338.5 84.9,331 87.7,328 91.2,326.5ZM55.8,355 60,354.1 62.9,355 63.4,356.5 62.5,359.5 60.1,362.5 57,364.5 54,364.8 50.7,364 49.2,362.5 49.9,359.5 55.8,355Z"/>
<path fill="#21458f" fill-rule="evenodd" d="M144.5,302.5 147,302.2 147.2,304 144.5,302.5ZM90,334 91.5,333 93.5,334 91.5,335.6 90.1,335.5 90,334ZM53.8,359.5 57,358.1 58.6,359.5 57,362.4 55.5,362.9 53.9,362.5 53.1,361 53.8,359.5Z"/>
<path fill="#fff9dd" fill-rule="evenodd" d="M87.2,374.5 91.5,373.6 99,374.1 108,373.5 129,378.6 144,377.7 153,378.3 175,382 181.5,384.1 186,386.5 189.3,389.5 192.4,394 206.4,424 221.6,464.5 223.1,470.5 223.3,476.5 175,476.5 141,461.4 135,457.6 122.9,448 111.8,442 91.5,432.8 76.5,427.4 72,427.6 48,432.6 40.1,436 30,441.9 30,384.1 51,383.3 63,378.8 69,378 76.5,378.3 87.2,374.5Z"/>
<path fill="#fff3c2" fill-rule="evenodd" d="M86,376 91.5,374.7 99,375.3 108,374.8 129,380 150,380.3 166.5,384.2 177.8,389.5 182.8,394 186.8,400 191.5,410.5 195.2,422.5 196.8,431.5 197.1,440.5 196.1,446.5 193.5,452.5 187.5,458.1 180,460.8 168,461.3 154.5,459.2 141,455.1 124.4,445 102,436.6 91.5,431.6 76.5,425.8 72,426.3 64.5,428.7 49.5,431 30,439 30,385.6 51,384.3 64.5,379.5 77.4,379 86,376Z"/>
<path fill="#ffeaa6" fill-rule="evenodd" d="M89.7,376 109.5,376.1 130.5,381.7 148.5,382.5 160.5,386 170.3,391 175.6,395.5 179,400 182.7,407.5 184.9,415 186,422.5 185.8,430 184.4,436 181.5,441.7 175.5,447.2 168,450.3 157.5,451.4 147,450.4 138,447.9 129,442.5 117,440.1 102,435.4 84,427.4 79.5,424.5 76.5,423.8 72,424.6 64.5,427.6 49.5,429.8 30,436.5 30,387.2 51,385.3 64.6,380.5 78,379.8 89.7,376Z"/>
<path fill="#fedf89" fill-rule="evenodd" d="M88,377.5 93,376.6 111,377.4 132,383.8 141,383.7 148.3,385 156,387.8 162.1,391 170.6,398.5 173.6,403 176,409 177.4,416.5 177.4,422.5 176,428.5 173.8,433 169.5,437.8 163.5,441.3 156,443.1 147,443.1 141,441.7 132,437.4 118.5,438.5 103.5,434.7 87.8,427 81,421.6 78,420.6 73.5,421.7 64.5,426.3 51,428.2 40.5,431.8 30,434.2 30,388.9 51,386.3 66,381.2 79.5,380.5 88,377.5Z"/>
<path fill="#fdd46c" fill-rule="evenodd" d="M87,379 93,377.6 112.5,378.7 124.5,382.2 130.5,386.3 138,385.6 142.5,386.2 148.5,388 154.6,391 162.4,397 166,401.5 168.3,406 169.6,410.5 170,416.5 169.4,421 167.7,425.5 165,429.3 162,432 154.5,435.2 145.5,435.5 132,431.5 123,436.1 117,436.6 102,433 94.1,428.5 88,424 84,415.4 79.5,412.3 76.5,413.6 70.2,421 64.5,424.7 51,426.9 40.5,430.5 30,431.9 30,390.7 39,388.7 52.5,387.1 69,381.6 81,381.4 87,379Z"/>
<path fill="#fbc555" fill-rule="evenodd" d="M90.1,379 93,378.6 102,379.7 112.5,379.7 124.5,383.5 126.5,385 126.8,386.5 125.7,392.5 127.5,394.6 130.1,394 133.2,389.5 136.5,388 142.5,389 149.8,392.5 157.1,398.5 161.8,406 163,410.5 163,415 160.5,422.2 156,426.8 151.5,428.9 145.5,429.8 130.5,428.8 123,433.8 120,434.8 115.5,434.8 103.5,432.4 96.6,428.5 90.5,422.5 87,410.2 84,404.5 85.8,398.5 84,397.1 82.5,397.8 80.4,401.5 75,406.6 69.4,418 64.9,422.5 61.5,423.8 49.5,425.9 40.5,429 30,429.5 30,392.6 39,390.1 55.5,387.5 70.5,382.3 82.5,382.5 90.1,379Z"/>
<path fill="#fab63e" fill-rule="evenodd" d="M89.1,380.5 93,379.5 103.5,381.1 112.5,380.8 123.6,385 124.5,386.5 123.2,394 124.5,396.3 127.5,397.8 132.4,397 136.5,391.9 139.5,392 143.7,394 150,398.6 154.6,404.5 156.5,412 155,418 152.8,421 148.5,424 142.5,425.7 130.5,426.8 120,433 115.5,433.3 103.5,431.1 97.2,427 92.8,421 91.5,410.5 92.5,400 91.1,395.5 84,390.7 81,389.9 79.3,391 73.5,401.1 67.4,416.5 63.4,421 40.5,427.2 30,426.9 30,394.7 40.5,391.2 58.5,388.1 72,383.1 75,383 79.5,384.6 82.5,384.7 89.1,380.5Z"/>
<path fill="#f8a730" fill-rule="evenodd" d="M89,382 94.5,380.6 103.5,382.6 112.5,381.9 116.4,383.5 120.5,386.5 120.5,395.5 123,399 127.5,400.6 141,400.8 144,401.8 147,404.1 149.3,407.5 150.1,410.5 148.9,416.5 144,421.2 129,425.5 118.5,431.7 112.5,431.4 102,428.9 97.1,424 95.2,419.5 94.8,413.5 96.4,403 96.1,398.5 93.1,394 86.1,388 86.2,385 89,382ZM69.7,385 75,384.2 77.7,386.5 77.7,388 70.5,398.5 67,412 63.6,418 58.4,421 40.5,425 36,425 30,423.9 30,397.1 41.1,392.5 61.5,389 69.7,385Z"/>
<path fill="#f79a2b" fill-rule="evenodd" d="M91.7,382 96,382 105,385.1 112.5,383.4 114,384.3 117,388 116.2,395.5 117.6,398.5 123,402.3 135,404.3 141,406.5 144,410.5 144.2,413.5 143,416.5 139.5,419.7 127.5,424.3 118.5,430 112.5,429.9 103.5,427.8 99.7,424 97.8,418 98,413.5 100.7,403 101.1,398.5 99.4,395.5 89.2,388 88.7,385 91.7,382ZM72.6,386.5 73.6,386.5 73.5,388.7 66.7,394 65.7,409 63.1,415 60.1,418 54,420.3 40.5,422.4 34.5,421.8 30,420.1 30.1,400 37.4,395.5 45,393 54,391.8 64.5,391.7 72.6,386.5Z"/>
<path fill="#f58c26" fill-rule="evenodd" d="M92.1,383.5 94.5,383.1 98.1,385 99.9,388 99,389.3 96,389.7 92.4,388 91.1,385 92.1,383.5ZM46.6,394 55.5,393.3 58.9,394 61.3,395.5 63,398.6 64.1,403 63.9,407.5 62.4,412 58.5,416.5 52.5,418.9 43.5,419.7 34.3,418 30,414.5 30.1,404.5 36,398.5 41.7,395.5 46.6,394ZM107.8,403 112.5,402 121.5,404.9 134.8,407.5 138.6,410.5 139,415 135,419.1 126,422.9 118.5,427.8 114,428.2 106.5,426.8 104.1,425.5 101.8,422.5 100.8,416.5 103.5,408.1 107.8,403Z"/>
<path fill="#f17d27" fill-rule="evenodd" d="M46.4,395.5 52.5,394.8 56.8,395.5 59.2,397 61.1,400 62.1,404.5 60.9,410.5 58.5,413.8 54,416.5 48,417.6 40.4,416.5 36,414.6 33,410.5 33.2,406 36,401.5 40.5,398.1 46.4,395.5ZM112,407.5 117,407.4 130.5,409.3 134.7,412 134.8,415 132,417.7 126,420.3 117.3,425.5 114,425.9 109.5,425 105.6,422.5 104.4,419.5 104.4,416.5 107.3,410.5 112,407.5Z"/>
<path fill="#ee6e28" fill-rule="evenodd" d="M46.7,397 51,396.3 55.4,397 57.6,398.5 59.5,401.5 60.1,406 58.6,410.5 55.5,413.5 52.5,414.9 48,415.5 42,414.2 38.5,412 36.8,409 36.8,406 38.2,403 41.1,400 46.7,397ZM115.6,412 125.6,413.5 126.5,415 118.5,421.1 115.5,422.2 112.5,421.9 109.6,419.5 109.5,416.5 111.7,413.5 115.6,412Z"/>
<path fill="#e95e28" fill-rule="evenodd" d="M47.5,398.5 51,397.9 54,398.5 56.2,400 57.9,403 58.1,406 57.1,409 52.5,412.7 49.5,413.3 45,412.6 42,410.8 40.6,409 40.1,406 41.4,403 44.4,400 47.5,398.5Z"/>
<path fill="#e24f29" fill-rule="evenodd" d="M48.9,400 51,399.8 54,400.8 56,404.5 55.5,407.2 54.2,409 51,410.7 46.5,410.3 43.7,407.5 43.4,406 44.5,403 48.9,400Z"/>
<path fill="#dc3f2a" fill-rule="evenodd" d="M48.3,403 51,402.1 52.5,402.7 53.4,404.5 52.5,406.8 51,407.8 48,407.1 47.3,404.5 48.3,403Z"/>
<clipPath id="hatchc0"><path d="M28,330 28,380 76,367 113,357 135,351 150,346 165,341 180,337 190,334 200,322 224,310 226,290 180,266 120,266 90,295 60,318Z"/></clipPath>
<path clip-path="url(#hatchc0)" stroke="#111" stroke-width="1.25" d="M26,252.6L228,78.2M26,260.9L228,86.6M26,269.3L228,94.9M26,277.6L228,103.3M26,286L228,111.6M26,294.3L228,120M26,302.7L228,128.3M26,311L228,136.7M26,319.4L228,145M26,327.7L228,153.4M26,336.1L228,161.7M26,344.4L228,170.1M26,352.8L228,178.4M26,361.1L228,186.8M26,369.5L228,195.1M26,377.8L228,203.5M26,386.2L228,211.8M26,394.5L228,220.2M26,402.9L228,228.5M26,411.2L228,236.9M26,419.6L228,245.2M26,427.9L228,253.6M26,436.3L228,261.9M26,444.6L228,270.3M26,453L228,278.6M26,461.3L228,287M26,469.7L228,295.3M26,478L228,303.7M26,486.4L228,312M26,494.7L228,320.4M26,503.1L228,328.7M26,511.4L228,337.1M26,519.8L228,345.4M26,528.1L228,353.8M26,536.5L228,362.1M26,544.8L228,370.5M26,553.2L228,378.8M26,561.5L228,387.2"/>
<clipPath id="hatchc1"><path d="M28,404 67,383 71,411 28,435Z"/></clipPath>
<path clip-path="url(#hatchc1)" stroke="#111" stroke-width="1.25" d="M26,372L73,331.4M26,380.3L73,339.8M26,388.7L73,348.1M26,397L73,356.5M26,405.4L73,364.8M26,413.7L73,373.2M26,422.1L73,381.5M26,430.4L73,389.9M26,438.8L73,398.2M26,447.1L73,406.6M26,455.5L73,414.9M26,463.8L73,423.3M26,472.2L73,431.6M26,480.5L73,440M26,488.9L73,448.3"/>
<clipPath id="hatchc2"><path d="M92,397 115,376 119,386 100,402Z"/></clipPath>
<path clip-path="url(#hatchc2)" stroke="#111" stroke-width="1.25" d="M90,364.9L121,338.1M90,373.2L121,346.5M90,381.6L121,354.8M90,389.9L121,363.2M90,398.3L121,371.5M90,406.6L121,379.9M90,415L121,388.2M90,423.3L121,396.6M90,431.7L121,404.9M90,440L121,413.3"/>
<clipPath id="hatchc3"><path d="M94,429 125,394 142,388 144,406 116,432Z"/></clipPath>
<path clip-path="url(#hatchc3)" stroke="#111" stroke-width="1.25" d="M92,379.9L146,333.3M92,388.2L146,341.6M92,396.6L146,350M92,404.9L146,358.3M92,413.3L146,366.7M92,421.6L146,375M92,430L146,383.4M92,438.3L146,391.7M92,446.7L146,400.1M92,455L146,408.4M92,463.4L146,416.8M92,471.7L146,425.1M92,480.1L146,433.5M92,488.4L146,441.8"/>
<clipPath id="hatchc4"><path d="M62,445 86,425 90,433 76,446Z"/></clipPath>
<path clip-path="url(#hatchc4)" stroke="#111" stroke-width="1.25" d="M60,416.8L92,389.2M60,425.2L92,397.6M60,433.5L92,405.9M60,441.9L92,414.3M60,450.2L92,422.6M60,458.6L92,431M60,466.9L92,439.3M60,475.3L92,447.7M60,483.6L92,456"/>
</g>
<path d="M30,361.5 36.7,361.1 41,359.3 45.8,355 47,347.7 50.7,343.5 56.8,342.3 64.1,344.7 71.4,345.3 75.7,347.7 75,352.6 70.8,357.5 70.2,363.6 69,369.7 70.2,375.7 78.7,374.5 86,373.9 94.5,373.3 100,372.1 110.4,365.5 116.7,361.3 122.4,359.7M30,410 36.7,409.6 42.2,409 48.3,405.9 54.3,401.7 59.2,398 66.5,396.8 73.8,399.2 81.1,402.3 86,405.9 90.9,402.9 95.7,399.2 100,401 106.3,402.4 112.5,398.8 117.7,395.7 121.9,391.5 126.1,390.4 128,390.5" fill="none" stroke="#22d3e6" stroke-width="1.5"/>
<path d="M30,336.3 32,336.2 34.1,336.5 36.1,336.2 38,335.3 40.1,335.2 42.2,335 44,334.3 45.8,333.9 47.6,333.7 49.5,333.7 51.3,333.5 53.1,333.4 55,333.5 56.8,333.4 58.4,333.2 60.1,333.3 61.6,332.6 63.3,333.2 64.8,332.1 66.5,332.5 68.4,331.8 70.2,330.7 71.7,329.9 73.3,329.3 74.6,328.1 76.3,327.7 77.5,325.2 75.7,323.4 76.4,321.8 78,320.7 78.7,319.1 80.4,319.4 81.9,318.5 83.6,318.5 85.3,319.3 87.2,319.7 89.3,319.7 91.4,319.3 93.3,318.5 94.9,317.6 96.5,317.1 98.2,316.8 100,316.7 102.2,315.7 103.9,314 105.5,312.9 107.4,312.5 109.3,312.4 110.9,311.2 112.6,311 114.4,310.9 116,310.2 117.8,310.2 119.9,310 122.1,309.8 124.1,309.1 126.9,307.7 124.9,307.2 123.4,305.7 121.8,304.1 119.9,302.9 117.7,302.6 115.7,303.3 114,303.4 112.5,304.2 110.9,304.3 109.2,303.8 107.4,304.4 105.6,303.8 103.9,303.6 102.5,301.5 103.8,300.3 104.2,298.6 105.3,297.3 106.5,295.4 108.1,293.8 110.3,294.1 112.3,295.2 114,294.2 116,294.5 117.8,293.8 119.2,292.6 120.8,291.8 122.5,291.2 124.1,290.3 124.9,288.8 126.5,288.1 127.6,286.9 128.3,285.3 129.7,284.2 130.9,282.8 131.7,281.3 131.7,278.5 129.7,276.4 131.6,275 133.8,274.3 135.6,273.9 137.5,274 139.2,273.4 141,272.8 142.9,273 144.6,272.8 146.2,272.7 147.9,272.3 149.6,272.5 151.2,271.8 152.9,272.2 154.7,272.8 156.5,272.2 158.3,272.5 160,273.2 161.8,274.1 163.8,274.3 165.6,275 167.2,275.9 168,277.7 169.7,278.5 170.6,280.3 170.8,282.3 171.8,284.1 172.5,286.1 173.3,288 174.6,289.7 175.9,290.9 177.2,292.2 178.8,293.1 180.9,293.4 183,293.8 185,294.5 186.5,295.4 188.3,295.4 189.9,295.9 191.8,297.4 194.1,298 194.6,299.7 195.4,301.3 196.2,302.9 198.1,303 199.7,304.3 201.7,304.3 203.4,303.9 205.2,303.7 206.9,303.2 208.7,302.9 210.4,302.3 212.3,302.6 214,301.9 215.7,301.5 217.7,300.6 219.8,300.8 221.2,303.6 220.4,305.3 219.8,307 218.6,308.8 217,310.2 215.7,311.9 214.3,313 213.7,314.8 212.2,315.8 211.5,317.5 209.4,318.1 207.3,318.9 205.4,319.2 203.6,318 201.7,318.2 200.4,319.2 199,320.2 198.3,321.7 199.1,323.4 199.6,325.3 199.7,327.2 198.2,329.1 197.6,331.4 195.7,331.9 194,332.8 192.5,333.7 190.6,333.4 189,333.8 187.2,334 185.7,334.9 183.8,335.4 182.1,336.7 180.1,337 178.2,338.5 175.9,339 174,339.5 172.2,339.5 170.3,339 168.6,340.2 166.5,340.5 164.8,341.8 163.2,342.7 161.6,343.6 160,344.6 158.4,345 157.3,346.5 155.8,347.1 154.3,347.7 152.1,348.6 150,349.6 148.1,349.8 146.5,350.9 144.8,351.7 143.2,352.6 141.2,352.1 139.6,353 137.8,353.1 136.4,353.8 137.2,352.3 137.2,350.5 137.8,348.9 139.8,347.8 141.3,346.1 140.6,343.3 137.8,342 136,342.4 134.3,343.3 132.8,344.4 130.9,344.7 129.5,346.3 127.9,347.4 126,348.2 124.4,349.6 122.5,350.5 120.4,351 118.9,351.8 117.1,351.7 115.6,352.4 114.2,355.2 116.3,357.3 118.1,357.6 120,357.2 121.8,358 123.2,360.7 124.9,361.4 126,362.8 127.9,363 129.5,362.1 130.7,360.8 131.6,359.2 133,358 135.7,359 137.6,360 139.2,361.4 140.9,361.7 142.7,361.4 145.5,362.8 144.1,364.2 142.3,364.5 140.6,364.2 138.8,364.8 137.1,365.6 134.8,366.2 133,367.7 131.1,368.4 129.5,369.8 128.5,371.2 127.2,372.1 126,373.3 125.3,375 126.1,376.6 127.1,378 128.8,379.3 130.8,380 132.4,381.3 133.4,383.1 134.7,384.2 135.5,385.7 136,387.3 137.2,388.3 138.4,389.5 139.7,390.4 140.4,392 141.2,393.6 141.2,395.7 140.2,397.2 142.1,398.1 143.8,399.3 144.3,400.9 142.6,402.1 141.7,404 140.6,405.5 139.7,407.1 138.8,409.3 137.6,411.3 136.3,412.3 135,413.2 133.9,414.4 132.9,415.7 132.4,417.3 131.3,418.6 130.1,420.5 128.2,421.7 127.3,423.9 126.1,425.9 124.8,426.8 123.8,428.2 122.4,429 121,429.9 120.3,431.5 118.8,432.2 117.2,433.5 115.2,434 113.6,435.3 112,436.6 110,437.2 108.3,438.4 106.3,440 104.3,440.5 102.2,440.7 100.4,441.7 98.7,442.2 97,442.6 95.2,442.1 93.5,442.6 91.6,443.2 89.8,443.9 88,444.7 86.4,446 85.1,447.3 83.4,447.9 81.6,448.3 80.1,449.2 78.4,449.1 76.8,449.5 75.4,450.3 73.8,450.8 71.5,451.4 69.7,452.9 69.1,454.7 68.8,456.5 67.3,455.3 66,453.9 65.2,452.4 64.4,450.8 62.9,449.7 61.3,448.7 59.8,448.1 58.2,447.7 56,447.5 54,448.2 52.4,447.2 50.5,447.2 48.8,446.6 48.1,445 46.7,444 44.6,441.9 42.4,441.4 40.4,440.3 38.3,440.5 36.3,439.8 34.2,440.2 32.1,439.8 30,439.8ZM58.7,461.7 60.2,460.6 61.6,459.3 63.4,458.6 65.1,458.4 66.7,458.1 68.4,457.9 70,457.7 71.7,457.6 73.3,460.2 72.2,462.1 70.7,463.8 69.3,464.8 68.2,466 66.9,467.1 65.5,468 63.8,467.6 62,467.3 60.3,467 58.2,464.9 58.2,463.3ZM135.2,430.4 136.9,430.2 138.7,430 140.4,429.6 141,431.3 141.3,433 140.6,434.6 139.6,436 138.9,437.6 138.8,439.4 137.8,440.9 137.1,442.5 136.4,444.1 135.2,445.5 134.3,447 132.9,445.4 132,443.5 130.9,441.7 130.6,439.5 130,437.4 130.9,435.9 132.2,434.7 133.2,433.2 133.9,431.6Z" fill="none" stroke="#1a1a1a" stroke-width="0.9"/>
</g>
<rect x="36" y="266.6" width="205.2" height="205.6" fill="none" stroke="#4a4a4a" stroke-width="1.3"/>
<line x1="31.5" y1="291.4" x2="36" y2="291.4" stroke="#4a4a4a" stroke-width="1.2"/>
<text x="29" y="295.6" text-anchor="end" class="t">50°N</text>
<line x1="31.5" y1="374.6" x2="36" y2="374.6" stroke="#4a4a4a" stroke-width="1.2"/>
<text x="29" y="378.8" text-anchor="end" class="t">35°N</text>
<line x1="31.5" y1="459.0" x2="36" y2="459.0" stroke="#4a4a4a" stroke-width="1.2"/>
<text x="29" y="463.2" text-anchor="end" class="t">20°N</text>
<line x1="35.9" y1="472.2" x2="35.9" y2="476.7" stroke="#4a4a4a" stroke-width="1.2"/>
<text x="35.9" y="490.5" text-anchor="middle" class="t">105°E</text>
<line x1="129.3" y1="472.2" x2="129.3" y2="476.7" stroke="#4a4a4a" stroke-width="1.2"/>
<text x="129.3" y="490.5" text-anchor="middle" class="t">120°E</text>
<line x1="222.7" y1="472.2" x2="222.7" y2="476.7" stroke="#4a4a4a" stroke-width="1.2"/>
<text x="222.7" y="490.5" text-anchor="middle" class="t">135°E</text>
<text x="2.2" y="270" class="lab">(c)</text>
<clipPath id="landd"><path d="M301,336.3 303,336.2 305.1,336.5 307.1,336.2 309,335.3 311.1,335.2 313.2,335 315,334.3 316.8,333.9 318.6,333.7 320.5,333.7 322.3,333.5 324.1,333.4 326,333.5 327.8,333.4 329.4,333.2 331.1,333.3 332.6,332.6 334.3,333.2 335.8,332.1 337.5,332.5 339.4,331.8 341.2,330.7 342.7,329.9 344.3,329.3 345.6,328.1 347.3,327.7 348.5,325.2 346.7,323.4 347.4,321.8 349,320.7 349.7,319.1 351.4,319.4 352.9,318.5 354.6,318.5 356.3,319.3 358.2,319.7 360.3,319.7 362.4,319.3 364.3,318.5 365.9,317.6 367.5,317.1 369.2,316.8 371,316.7 373.2,315.7 374.9,314 376.5,312.9 378.4,312.5 380.3,312.4 381.9,311.2 383.6,311 385.4,310.9 387,310.2 388.8,310.2 390.9,310 393.1,309.8 395.1,309.1 397.9,307.7 395.9,307.2 394.4,305.7 392.8,304.1 390.9,302.9 388.7,302.6 386.7,303.3 385,303.4 383.5,304.2 381.9,304.3 380.2,303.8 378.4,304.4 376.6,303.8 374.9,303.6 373.5,301.5 374.8,300.3 375.2,298.6 376.3,297.3 377.5,295.4 379.1,293.8 381.3,294.1 383.3,295.2 385,294.2 387,294.5 388.8,293.8 390.2,292.6 391.8,291.8 393.5,291.2 395.1,290.3 395.9,288.8 397.5,288.1 398.6,286.9 399.3,285.3 400.7,284.2 401.9,282.8 402.7,281.3 402.7,278.5 400.7,276.4 402.6,275 404.8,274.3 406.6,273.9 408.5,274 410.2,273.4 412,272.8 413.9,273 415.6,272.8 417.2,272.7 418.9,272.3 420.6,272.5 422.2,271.8 423.9,272.2 425.7,272.8 427.5,272.2 429.3,272.5 431,273.2 432.8,274.1 434.8,274.3 436.6,275 438.2,275.9 439,277.7 440.7,278.5 441.6,280.3 441.8,282.3 442.8,284.1 443.5,286.1 444.3,288 445.6,289.7 446.9,290.9 448.2,292.2 449.8,293.1 451.9,293.4 454,293.8 456,294.5 457.5,295.4 459.3,295.4 460.9,295.9 462.8,297.4 465.1,298 465.6,299.7 466.4,301.3 467.2,302.9 469.1,303 470.7,304.3 472.7,304.3 474.4,303.9 476.2,303.7 477.9,303.2 479.7,302.9 481.4,302.3 483.3,302.6 485,301.9 486.7,301.5 488.7,300.6 490.8,300.8 492.2,303.6 491.4,305.3 490.8,307 489.6,308.8 488,310.2 486.7,311.9 485.3,313 484.7,314.8 483.2,315.8 482.5,317.5 480.4,318.1 478.3,318.9 476.4,319.2 474.6,318 472.7,318.2 471.4,319.2 470,320.2 469.3,321.7 470.1,323.4 470.6,325.3 470.7,327.2 469.2,329.1 468.6,331.4 466.7,331.9 465,332.8 463.5,333.7 461.6,333.4 460,333.8 458.2,334 456.7,334.9 454.8,335.4 453.1,336.7 451.1,337 449.2,338.5 446.9,339 445,339.5 443.2,339.5 441.3,339 439.6,340.2 437.5,340.5 435.8,341.8 434.2,342.7 432.6,343.6 431,344.6 429.4,345 428.3,346.5 426.8,347.1 425.3,347.7 423.1,348.6 421,349.6 419.1,349.8 417.5,350.9 415.8,351.7 414.2,352.6 412.2,352.1 410.6,353 408.8,353.1 407.4,353.8 408.2,352.3 408.2,350.5 408.8,348.9 410.8,347.8 412.3,346.1 411.6,343.3 408.8,342 407,342.4 405.3,343.3 403.8,344.4 401.9,344.7 400.5,346.3 398.9,347.4 397,348.2 395.4,349.6 393.5,350.5 391.4,351 389.9,351.8 388.1,351.7 386.6,352.4 385.2,355.2 387.3,357.3 389.1,357.6 391,357.2 392.8,358 394.2,360.7 395.9,361.4 397,362.8 398.9,363 400.5,362.1 401.7,360.8 402.6,359.2 404,358 406.7,359 408.6,360 410.2,361.4 411.9,361.7 413.7,361.4 416.5,362.8 415.1,364.2 413.4,364.5 411.6,364.2 409.8,364.8 408.1,365.6 405.8,366.2 404,367.7 402.1,368.4 400.5,369.8 399.5,371.2 398.2,372.1 397,373.3 396.3,375 397.1,376.6 398.1,378 399.8,379.3 401.8,380 403.4,381.3 404.4,383.1 405.7,384.2 406.5,385.7 407,387.3 408.2,388.3 409.4,389.5 410.7,390.4 411.4,392 412.2,393.6 412.2,395.7 411.2,397.2 413.1,398.1 414.8,399.3 415.3,400.9 413.6,402.1 412.7,404 411.6,405.5 410.7,407.1 409.8,409.3 408.6,411.3 407.3,412.3 406,413.2 404.9,414.4 403.9,415.7 403.4,417.3 402.3,418.6 401.1,420.5 399.2,421.7 398.3,423.9 397.1,425.9 395.8,426.8 394.8,428.2 393.4,429 392,429.9 391.3,431.5 389.8,432.2 388.2,433.5 386.2,434 384.6,435.3 383,436.6 381,437.2 379.3,438.4 377.3,440 375.3,440.5 373.2,440.7 371.4,441.7 369.7,442.2 368,442.6 366.2,442.1 364.5,442.6 362.6,443.2 360.8,443.9 359,444.7 357.4,446 356.1,447.3 354.4,447.9 352.6,448.3 351.1,449.2 349.4,449.1 347.8,449.5 346.4,450.3 344.8,450.8 342.5,451.4 340.7,452.9 340.1,454.7 339.8,456.5 338.3,455.3 337,453.9 336.2,452.4 335.4,450.8 333.9,449.7 332.3,448.7 330.8,448.1 329.2,447.7 327,447.5 325,448.2 323.4,447.2 321.5,447.2 319.8,446.6 319.1,445 317.7,444 315.6,441.9 313.4,441.4 311.4,440.3 309.3,440.5 307.3,439.8 305.2,440.2 303.1,439.8 301,439.8ZM329.7,461.7 331.2,460.6 332.6,459.3 334.4,458.6 336.1,458.4 337.7,458.1 339.4,457.9 341,457.7 342.7,457.6 344.3,460.2 343.2,462.1 341.7,463.8 340.3,464.8 339.2,466 337.9,467.1 336.5,468 334.8,467.6 333,467.3 331.3,467 329.2,464.9 329.2,463.3ZM406.2,430.4 407.9,430.2 409.7,430 411.4,429.6 412,431.3 412.3,433 411.6,434.6 410.6,436 409.9,437.6 409.8,439.4 408.8,440.9 408.1,442.5 407.4,444.1 406.2,445.5 405.3,447 403.9,445.4 403,443.5 401.9,441.7 401.6,439.5 401,437.4 401.9,435.9 403.2,434.7 404.2,433.2 404.9,431.6Z"/></clipPath>
<clipPath id="framed"><rect x="307" y="266.5" width="205.3" height="206"/></clipPath>
<g clip-path="url(#framed)"><g clip-path="url(#landd)">
<rect x="301" y="262" width="215" height="214" fill="#fffff8"/>
<path fill="#f3faf9" fill-rule="evenodd" d="M408,262 508.8,262 507.3,274 504.1,287.5 501.3,295 498.2,299.5 490,305.5 470.5,312.3 461.8,319 452.5,322.7 447.5,328 439.9,352 440.2,359.5 443.5,376 443,379 440.5,382.3 433,385.8 403,395.9 397,397.1 367,395.5 362.5,393.9 347.5,384.9 340,384 337,384.8 334.4,386.5 332.7,389.5 330.2,397 325,400.7 316,402.7 301,399.7 301,372.3 320.5,362.8 337.7,359.5 355,350 368.5,345.9 379,343.7 386.3,340 389.5,337 390.1,335.5 389.8,332.5 386.5,329.2 379,327.5 367,328.4 361,327.7 356.5,324.1 355.4,319 356.5,316.2 358,314.6 362.5,312.9 391,311.6 401.5,313.1 406,311.8 409,309.3 412.5,302.5 413.5,295 412.8,290.5 408.4,280 407.3,275.5 406.9,269.5 408,262ZM515.1,362.5 515.5,361.8 515.5,450.5 496.5,445 490,440.7 487.7,437.5 485.5,432 483.4,418 483.9,412 485.6,407.5 503.5,384.9 515.1,362.5ZM336.8,430 343,428.9 349,429.7 358.6,434.5 364.9,439 368.1,443.5 370.3,449.5 370.4,455.5 368.5,459.5 364,461.9 358,461.6 352,459.1 341.5,452.6 335.5,450.5 326.5,450.3 314.5,451.8 310.2,454 307.8,457 301,476.5 301,440.7 304,440.8 308.5,439.5 323.5,431.2 336.8,430ZM454.5,466 463,465.9 468.4,467.5 472,470.7 474.7,476.5 425.7,476.5 429.1,473.5 435.4,470.5 445,467.7 454.5,466Z"/>
<path fill="#e8f5fa" fill-rule="evenodd" d="M414.5,263.5 416,262 428.4,262 430.9,266.5 433,275.6 434.5,277.5 437.5,278.3 452.5,277.4 470.5,272.2 478,272.4 482.5,274.4 485.5,277 488.3,281.5 489.6,286 489.3,293.5 486,299.5 482.2,302.5 469,308.6 460.2,316 452.5,319.4 446.6,323.5 443.4,328 441.2,337 437.5,340.7 434.5,341.4 433,340.8 428.3,334 424,331.3 418,331.1 412.9,334 411.6,338.5 414,343 418,346.4 427,350.5 429.7,353.5 431.1,356.5 433.3,364 433.9,370 433.2,374.5 430.4,379 425,383.5 417.2,388 404.5,394 398.5,395.5 368.5,392.4 362.5,390 349.3,382 343,380.4 338.5,380.9 334,383 325,393.8 320.5,396.3 314.5,396.5 307.2,392.5 303.6,388 302.7,382 305.2,376 311.4,370 322,365 338.5,361.9 356.5,352.5 377.5,347.9 385,343.2 391,340.9 394.6,338.5 396.4,335.5 396.1,332.5 393.9,329.5 391,327.5 386.5,325.9 374.5,324 362.5,325 360.2,323.5 359.5,320.5 361,318.1 364,316.7 371.5,316.2 380.5,314.5 392.5,314.1 400,316.7 403,316.9 406,316.2 409,314.1 413.5,307 415.7,298 415.2,290.5 410.8,280 410.2,275.5 411.2,269.5 414.5,263.5ZM338.1,431.5 344.5,430.4 349,431.1 356.2,434.5 363,439 366.1,443.5 367.4,448 367.2,452.5 365.5,455.7 361,458 356.5,457.8 352,456.2 338.5,448.8 322.9,446.5 319.3,445 318,443.5 317.6,442 318.3,439 322.8,434.5 326.5,433.2 338.1,431.5Z"/>
<path fill="#d9eff9" fill-rule="evenodd" d="M416.4,272.5 419.5,271.5 421.7,272.5 427,280.7 430,283.3 443.5,286.8 448.5,289 452.3,292 454.7,296.5 454.8,304 455.9,308.5 455.3,311.5 451,316 441.8,322 437.5,326.2 434.5,327.9 430,327.5 418,324.1 415,322.7 413.1,320.5 413,317.5 416.8,305.5 418.4,296.5 417.7,287.5 413.6,278.5 414.2,275.5 416.4,272.5ZM380.3,319 382,318.1 385,317.9 389.1,319 389.3,320.5 385,321.7 382,321.5 380.2,320.5 380.3,319ZM386.3,349 388,347.9 391,348.3 393.5,350.5 393.2,352 389.5,353.1 386.5,352.6 385.6,350.5 386.3,349ZM359.9,355 370,354.3 374.5,355 377.5,356.5 378.2,358 378.6,368.5 380.5,371.7 383.5,373.1 386.5,372.7 390.2,370 396.9,361 400.3,355 404.5,353.9 410.5,354.6 418,357.9 422.9,362.5 425.3,368.5 424.7,374.5 421.2,380.5 414.5,386.5 404.5,392.4 398.5,394.1 394,393.8 368.5,388.3 350.5,378.8 344.5,376.7 340,376.8 335.5,378.5 325,387.4 322,388.8 317.5,388.1 311.5,383 310.4,379 311.1,376 312.9,373 316,370.5 326.5,366.3 340,364.7 352,357.6 359.9,355ZM339.3,433 344.5,431.9 349,432.5 361,439.1 363.4,442 364.5,445 364.6,449.5 363.1,452.5 359.5,454.5 353.5,454 340,446.7 326.5,442.7 324.1,440.5 324.6,437.5 326.5,436.3 332.5,435.4 339.3,433Z"/>
<path fill="#c8e8f6" fill-rule="evenodd" d="M424.9,289 431.5,289.1 440.5,291.6 445.5,295 448.1,299.5 449.5,308.5 447.9,313 443.5,316.8 434.5,321.4 430,322 425.5,321.1 421.6,319 419.4,316 419,310 421,298.9 422.6,292 424.9,289ZM356.3,359.5 364,359.1 369,361 371.1,364 374.5,375.9 377.5,379.6 382,379.7 386.5,377.9 400,367.3 407.5,364 412,364.8 415.2,367 417.6,371.5 417.6,376 413.5,383.5 406.6,389.5 400,392.4 394,392.1 383.5,388 376,383.1 368.5,382.1 361,379.3 346.3,371.5 345.2,370 345.2,368.5 347,365.5 352,361.3 356.3,359.5ZM325.6,370 331,368.6 334.5,370 335.4,371.5 333.6,374.5 325.2,382 322,383.4 317.9,380.5 317.1,376 319.7,373 325.6,370ZM340.8,434.5 344.5,433.4 347.5,433.7 359.5,439.9 361.4,442 362.2,445 361,449.3 358,451.2 353.5,451.1 349,449.3 339.1,443.5 335.8,440.5 335.7,439 336.5,437.5 340.8,434.5Z"/>
<path fill="#b6e0f4" fill-rule="evenodd" d="M427.9,295 431.5,294.1 436,294.7 440.5,296.8 443.2,299.5 445,303 445.7,307 445.1,310 442.9,313 437.8,316 433,317.4 428.5,317.1 424.5,314.5 422.8,310 422.9,305.5 425.2,298 427.9,295ZM354.6,365.5 358,364.8 360.5,365.5 362,367 362.5,368.5 361.9,370 359.5,371 355.5,370 353.9,368.5 353.5,367 354.6,365.5ZM402.7,371.5 407.5,371.4 410.5,373.7 411.6,377.5 410.3,382 407.1,386.5 401.5,390.4 397,391 392.7,389.5 389.4,386.5 388.8,385 389.6,382 395.5,375.2 402.7,371.5ZM342.6,436 344.5,435.3 347.5,435.4 356.5,440.5 358.8,443.5 358.1,446.5 355,447.8 352,447.5 343.8,443.5 340.7,440.5 340.4,439 342.6,436Z"/>
<path fill="#9fd5f1" fill-rule="evenodd" d="M431.5,299.5 434.5,299.4 437.5,300.5 439.9,302.5 441.4,305.5 441.3,308.5 440.2,310 434.5,313 430,312.6 428.4,311.5 426.8,308.5 426.8,305.5 427.9,302.5 431.5,299.5ZM398.8,377.5 401.5,376.8 404.5,377.4 406.2,380.5 405.7,383.5 403.8,386.5 401.5,388.4 398.5,389.3 394.9,388 393.1,385 394.8,380.5 398.8,377.5ZM345,439 346,438.1 347.5,438.6 349.5,440.5 349,441.4 347.5,441.3 345.8,440.5 345,439Z"/>
<path fill="#88caee" fill-rule="evenodd" d="M398.1,385 398.5,383.9 400,384 400,385.1 398.5,385.7 398.1,385Z"/>
<path fill="#fff9dd" fill-rule="evenodd" d="M308.4,262 403.3,262 404.8,275.5 411.1,292 411.5,296.5 410.4,302.5 406.3,308.5 401.5,310.7 388,309.9 362.5,309.9 356,311.5 352.8,314.5 351.7,319 352.9,323.5 356.4,328 361,330.3 367,331.4 377.5,329.9 382,330.1 386.1,332.5 386.8,334 386.2,337 383.5,339.4 380.5,340.7 368.5,342.6 355,347.2 335.5,358.1 331,359.3 320.5,360.2 311.5,364.2 301,367 301,305 305.5,299.1 308.2,290.5 308.9,281.5 308.4,262ZM512.1,304 515.5,303.3 515.5,350.7 500.7,374.5 496,380 491.5,383.8 484,387.9 476.5,389.8 469,389.9 463,388 458.5,383.5 451,372.1 447.6,365.5 445.3,358 444.7,352 445.4,346 448.4,332.5 450.4,328 454,324.3 463,320.6 469,316 473.5,313.7 497.1,308.5 512.1,304ZM339.1,388 346,388 362.5,396.9 370,398.4 398.5,398.3 415,393.6 428.5,391.6 439,391.9 449.5,394.5 454,396.9 456.8,400 460.4,409 461.7,421 461.1,427 459.4,433 455.1,440.5 449.5,446.4 420.3,466 415.5,470.5 410.7,476.5 306.6,476.5 310.6,464.5 313.2,460 317.5,456.2 325,453.4 332.5,452.4 338.5,453.4 355,463.7 362.5,466.4 367,466.6 370,465.7 371.8,464.5 373.8,461.5 374.5,457 373.9,452.5 369,442 363,436 350.5,429 344.5,427.5 334,428.6 326.5,428.4 310,432.8 305.5,433 301,431.9 301,407.7 322,405.7 331,403.1 335.5,399.4 336.6,391 337.1,389.5 339.1,388Z"/>
<path fill="#fff3c2" fill-rule="evenodd" d="M316.6,262 399.5,262 402.5,275.5 409.1,290.5 409.7,298 408.4,302.5 406.5,305.5 403,308.2 400,309.1 374.5,308.6 361,307.5 356.5,307.8 352,309.6 349,313 348.3,316 349.8,323.5 355,330 367.3,335.5 368.5,337 367.4,338.5 352,346 334,356.7 329.5,357.7 320.5,357.7 310,361.8 301,362.4 301,313.1 309.8,304 314.6,295 316.4,284.5 316.6,262ZM478.3,314.5 499,313.4 505,314.2 509.6,316 513.2,319 515.5,323 515.5,338.3 510,350.5 500.8,365.5 496,371.6 491.5,375.6 485.5,379 479.5,380.7 475,381 469,379.8 464.5,377.7 455.5,369.4 451.9,364 449.5,358.6 448.3,353.5 448,347.5 450.1,334 451.8,329.5 454,326.6 457,324.4 463.2,322 470.5,317.1 478.3,314.5ZM377.9,332.5 380.5,332.2 383.5,333.4 384.3,335.5 383.7,337 379,338.8 376.2,338.5 372.7,337 372.8,335.5 377.9,332.5ZM342.6,392.5 344.5,391.8 347.5,392.3 362.5,399.1 371.5,400.4 397,399.8 410.5,396.2 419.5,395 427,395.1 434.5,396.7 443.1,401.5 447.8,407.5 450.4,416.5 450.2,422.5 449.2,427 445.5,434.5 438.8,442 413.5,463.9 395.7,476.5 310.8,476.5 313.6,467.5 317.5,461.1 322.9,457 331,454.5 335.5,454.6 340,456 356.5,467.9 365.5,472 371.5,473.1 376,472.8 379,471 380.1,469 380.4,464.5 379.2,458.5 373.8,446.5 366.6,437.5 358,431.8 350.5,427.8 344.5,426.1 335.5,427 325,426.1 316,428.3 310,428.4 305.5,426.8 301.6,422.5 301.3,418 304.3,413.5 310.7,410.5 326.5,408.6 332.5,406.5 338.2,401.5 341.3,394 342.6,392.5Z"/>
<path fill="#ffeaa6" fill-rule="evenodd" d="M324.4,262 395.7,262 400.1,275.5 407.5,290.5 407.9,298 406.3,302.5 404.5,304.8 401.5,306.8 398.5,307.7 374.5,307 356.5,304.7 352,305.1 347.5,306.8 345.6,308.5 344.1,311.5 344.7,319 349.4,328 358.4,337 357.7,338.5 341,350.5 332.5,355.1 329.5,355.7 320.5,354.6 310,357.6 304,357.4 301,356.6 301,321.5 318.1,304 322.5,296.5 323.8,289 324.4,262ZM473.8,317.5 479.5,316.4 487,316.3 494.5,317.1 500.5,318.8 506.9,323.5 509.4,328 510.3,332.5 509.9,338.5 507.5,346 502.8,355 497.5,362.8 493,367.8 488.5,371.2 484,373.4 478,374.7 469,373.4 464.5,371.2 460,367.7 453.8,359.5 451.9,355 450.7,349 451.6,335.5 453,331 454.9,328 458.5,325.2 473.8,317.5ZM346.7,397 352,397.4 364,401.4 373,402.4 397,401.2 413.5,397.3 421,397.4 426.7,398.5 435.3,403 440,409 442,416.5 441,424 439.1,428.5 436,433 424,444.7 416.5,454 412,458.3 407.5,461.3 401.5,463.9 397,464.6 392.5,464 386.5,459.9 375.1,445 368.3,437.5 352,427.3 343,424.4 335.5,425 325,422.7 316,424.5 313.4,424 311,422.5 310,421 310,418 312.5,415 316,413.4 326.5,413.1 332.5,411.1 338.5,405.8 344.5,398.2 346.7,397ZM329.6,457 335.5,456.5 340,458.2 362,476.5 314.8,476.5 317,469 320.4,463 325,459 329.6,457Z"/>
<path fill="#fedf89" fill-rule="evenodd" d="M332.2,262 391.7,262 397.6,275.5 405.8,290.5 406.3,296.5 404.9,301 401.5,304.7 395.5,306.5 388,305.4 374.5,305.4 355,301.2 338.2,299.5 336.2,298 334.4,295 332.1,286 331.1,274 332.2,262ZM326.2,308.5 329.5,307.5 332.5,307.7 335.5,310.5 349.8,334 350.5,338.5 348.5,341.5 343.3,346 332.5,352.5 329.5,353 322,351.1 311.5,351.3 307,350.4 303.1,347.5 301,343.3 301,335.5 302.5,331 305.9,325 311.5,318.6 319,312.4 326.2,308.5ZM474.6,319 485.5,318.7 491.5,319.9 496.8,322 500.9,325 503.1,328 505.2,335.5 504.8,340 503.1,346 496,358.4 491.5,363.3 487,366.6 482.5,368.6 478,369.5 473.5,369.4 469,368.2 464.5,365.9 460.4,362.5 455.2,355 453.7,350.5 452.8,344.5 453.8,334 457,328 469,320.9 474.6,319ZM406.4,400 412,399 418,399.4 422.5,400.6 427.5,403 433.1,409 434.8,413.5 435,418 433.3,424 430.5,428.5 427,432.1 416.3,440.5 412.7,449.5 410.5,452.5 407.5,454.9 403,456.9 395.5,457.3 389.5,455 383.5,450.4 370.1,437.5 366.1,434.5 349,424.5 344.5,422.8 336,421 334.4,419.5 334.9,416.5 341,407.5 346,402.1 349,400.6 353.5,400.6 365.5,403.4 376,404.3 397,402.8 406.4,400ZM328.8,460 334,458.5 339.1,460 344.2,464.5 354.6,476.5 318.9,476.5 320.4,470.5 322.5,466 325,462.8 328.8,460Z"/>
<path fill="#fdd46c" fill-rule="evenodd" d="M339.9,263.5 340.3,262 387.1,262 404,290.5 404.6,295 403,300.1 400,303.2 395.5,304.8 388,303.7 376,303.9 365,301 347.5,293.8 342.3,289 339.2,281.5 338.5,272.5 339.9,263.5ZM324.8,317.5 331,317.9 335.5,320.8 342.8,329.5 346,335.5 345.8,338.5 342.4,343 337,347.2 332.5,349.3 328,349.4 316,345.5 312.3,343 309.7,338.5 309.7,332.5 312.5,326.5 318.4,320.5 324.8,317.5ZM475.4,320.5 484,320.8 493,324.1 498.6,329.5 500.7,337 499,346 496,352 492.8,356.5 485.5,362.5 481,364.4 476.5,365.1 469,363.7 461.5,358.6 456.5,350.5 454.8,341.5 455.6,334 459.1,328 467.5,322.8 475.4,320.5ZM406.7,401.5 410.5,400.8 415,401.2 422.9,404.5 426.1,407.5 427.9,410.5 428.9,416.5 427.1,422.5 423.6,427 419.5,430.2 409,435.6 406.6,437.5 405.9,440.5 406.9,446.5 404.5,449.4 401.5,450.6 394,450.8 386.5,448.1 368.2,434.5 343.2,419.5 341.1,416.5 341.4,413.5 343.7,409 347.5,405 350.5,403.5 356.5,403.4 370,405.8 377.5,406.4 397,404.5 406.7,401.5ZM332.4,461.5 335.5,461.1 338.9,463 342.9,467.5 348.7,476.5 323.4,476.5 326,467.5 328.1,464.5 332.4,461.5Z"/>
<path fill="#fbc555" fill-rule="evenodd" d="M348.7,263.5 349.5,262 381.1,262 386.5,268.4 401.5,290 402.5,293.5 401.4,298 398.8,301 395.5,302.5 388,301.5 377.5,302.5 367.5,299.5 356.4,293.5 349.8,287.5 346.4,280 346.2,271 348.7,263.5ZM468.6,323.5 476.5,322.1 485.5,323.7 492.4,328 496.1,334 496.4,341.5 493.6,349 488.5,355.5 481,360 473.5,360.7 467.5,358.7 461.5,353.6 458.2,347.5 456.8,340 457.9,332.5 461.1,328 468.6,323.5ZM323.7,325 328,324.2 332.5,325.4 337,328.7 339.9,332.5 341,335.5 340.7,338.5 338.9,341.5 335.5,344.3 331,345.9 326.5,345.2 320.5,341.8 317.8,338.5 316.9,335.5 317.7,331 320.5,327.1 323.7,325ZM408.9,403 415,404 420.3,407.5 422.9,412 422.8,418 419.1,424 406,433.3 403.3,436 398.5,443.3 395.2,445 388,444.6 380.5,441.2 350.9,422.5 347.3,419.5 345.2,416.5 345.1,413.5 347.4,409 350.5,406.6 353.5,405.6 359.5,405.7 373,408.2 379,408.5 397,406.6 408.9,403ZM332.2,467.5 334,466.4 337,467.3 340,471.6 341.9,476.5 329.5,476.5 329.9,472 332.2,467.5Z"/>
<path fill="#fab63e" fill-rule="evenodd" d="M361.5,263.5 365.5,262.4 370,262.6 374.5,264.2 380.5,268.3 386.5,274.8 398,290.5 399,293.5 397.8,296.5 395.5,298.1 389.5,297.6 382,300.4 377.5,300.7 369.8,298 361.1,292 355.1,284.5 353.4,277 355.2,269.5 358,265.8 361.5,263.5ZM467.5,325 473.5,323.8 481,324.7 487.5,328 491.3,332.5 492.8,338.5 491.7,344.5 488.1,350.5 482.5,355.1 476.5,356.8 470.5,356 464.5,352.3 461,347.5 458.8,340 459.2,334 461.5,329.5 467.5,325ZM327,332.5 331,332.1 333.7,334 334.7,337 333.2,340 329.5,341 325.9,338.5 325.1,335.5 327,332.5ZM357.7,407.5 379,411 394,409.6 407.5,406.2 410.5,406.2 415.5,409 417.2,412 417.6,415 416.5,418.7 413.8,422.5 397,438.5 392.5,440.7 388,440.8 380.5,438.2 364,429.7 355.3,424 350.1,419.5 348.2,415 349,411.9 352,408.9 357.7,407.5Z"/>
<path fill="#f8a730" fill-rule="evenodd" d="M368.3,271 373,271.1 379,273.9 384.1,278.5 388.4,284.5 389.6,287.5 389.4,290.5 385.6,295 381.9,298 377.5,298.7 372.4,296.5 366.8,292 362.5,286 361.2,281.5 361.6,277 364,273.2 368.3,271ZM466.7,326.5 472,325.4 478,326.1 482.5,328 487.1,332.5 488.7,337 488.5,341.5 486.7,346 482.4,350.5 478,352.5 472,352.5 467.5,350.4 463.4,346 461.1,340 461.1,334 463.3,329.5 466.7,326.5ZM354.4,410.5 361,409.6 374.5,413.3 379,413.7 406,411 409.3,412 410.5,413.5 410.7,416.5 407.7,422.5 398.5,432.9 392.5,436.5 386.5,436.9 380.5,435.1 365.5,428.9 355.5,422.5 352.6,419.5 351.2,416.5 351.5,413.5 354.4,410.5Z"/>
<path fill="#f79a2b" fill-rule="evenodd" d="M370.9,281.5 373,280.3 376,280.4 379,281.8 381.6,284.5 383,289 382.2,292 380.5,294.3 379,295.2 377.1,295 374.4,293.5 371.7,290.5 369.8,286 370,283 370.9,281.5ZM466.9,328 470.5,327.1 476.5,328 479.6,329.5 482.8,332.5 484.3,335.5 484.6,340 482.6,344.5 479.5,347.3 476.5,348.5 472,348.4 467.5,346 465,343 463.6,340 463,335.5 464.3,331 466.9,328ZM357.4,412 364,412.1 377.5,417 398.5,416.5 401.5,418 402.2,419.5 402,422.5 398.7,428.5 395.5,431 389.5,432.9 383.5,432.2 365.6,427 358,422.5 354.9,419.5 353.8,416.5 354.9,413.5 357.4,412Z"/>
<path fill="#f58c26" fill-rule="evenodd" d="M469,329.5 472,329.4 475,330.4 479.1,334 480.1,337 479.6,340 476.5,343.3 472,343.7 469,342.2 467.1,340 465.9,337 465.8,334 467,331 469,329.5ZM357.7,415 361,414.1 365.5,415.3 374,421 375.6,422.5 375.7,424 368.5,424.9 362.5,423 357.5,419.5 356.7,416.5 357.7,415Z"/>
<clipPath id="hatchd0"><path d="M371,304 383,290 396,293 385,308Z"/></clipPath>
<path clip-path="url(#hatchd0)" stroke="#111" stroke-width="1.25" d="M369,281.8L398,256.8M369,290.2L398,265.1M369,298.5L398,273.5M369,306.9L398,281.8M369,315.2L398,290.2M369,323.6L398,298.5M369,331.9L398,306.9M369,340.3L398,315.2"/>
<clipPath id="hatchd1"><path d="M422,303 452.5,303 435,321 422,321Z"/></clipPath>
<path clip-path="url(#hatchd1)" stroke="#111" stroke-width="1.25" d="M420,296.2L454.5,266.5M420,304.6L454.5,274.8M420,312.9L454.5,283.2M420,321.3L454.5,291.5M420,329.6L454.5,299.9M420,338L454.5,308.2M420,346.3L454.5,316.6M420,354.7L454.5,324.9M420,363L454.5,333.3"/>
<clipPath id="hatchd2"><path d="M457,330 467,318 473,325 463,334Z"/></clipPath>
<path clip-path="url(#hatchd2)" stroke="#111" stroke-width="1.25" d="M455,307.8L475,290.5M455,316.1L475,298.9M455,324.5L475,307.2M455,332.8L475,315.6M455,341.2L475,323.9M455,349.5L475,332.3M455,357.9L475,340.6"/>
<clipPath id="hatchd3"><path d="M383,395 393,386 405,386 405,396Z"/></clipPath>
<path clip-path="url(#hatchd3)" stroke="#111" stroke-width="1.25" d="M381,372.6L407,350.2M381,380.9L407,358.5M381,389.3L407,366.9M381,397.6L407,375.2M381,406L407,383.6M381,414.3L407,391.9M381,422.7L407,400.3M381,431L407,408.6"/>
<clipPath id="hatchd4"><path d="M355,428 375,410 402,402 414,402 414,412 379,443 367,441Z"/></clipPath>
<path clip-path="url(#hatchd4)" stroke="#111" stroke-width="1.25" d="M353,388.4L416,334M353,396.8L416,342.4M353,405.1L416,350.7M353,413.5L416,359.1M353,421.8L416,367.4M353,430.2L416,375.8M353,438.5L416,384.1M353,446.9L416,392.5M353,455.2L416,400.8M353,463.6L416,409.2M353,471.9L416,417.5M353,480.3L416,425.9M353,488.6L416,434.2M353,497L416,442.6M353,505.3L416,450.9"/>
</g>
<path d="M301,361.5 307.7,361.1 312,359.3 316.8,355 318,347.7 321.7,343.5 327.8,342.3 335.1,344.7 342.4,345.3 346.7,347.7 346,352.6 341.8,357.5 341.2,363.6 340,369.7 341.2,375.7 349.7,374.5 357,373.9 365.5,373.3 371,372.1 381.4,365.5 387.7,361.3 393.4,359.7M301,410 307.7,409.6 313.2,409 319.3,405.9 325.3,401.7 330.2,398 337.5,396.8 344.8,399.2 352.1,402.3 357,405.9 361.9,402.9 366.7,399.2 371,401 377.3,402.4 383.5,398.8 388.7,395.7 392.9,391.5 397.1,390.4 399,390.5" fill="none" stroke="#22d3e6" stroke-width="1.5"/>
<path d="M301,336.3 303,336.2 305.1,336.5 307.1,336.2 309,335.3 311.1,335.2 313.2,335 315,334.3 316.8,333.9 318.6,333.7 320.5,333.7 322.3,333.5 324.1,333.4 326,333.5 327.8,333.4 329.4,333.2 331.1,333.3 332.6,332.6 334.3,333.2 335.8,332.1 337.5,332.5 339.4,331.8 341.2,330.7 342.7,329.9 344.3,329.3 345.6,328.1 347.3,327.7 348.5,325.2 346.7,323.4 347.4,321.8 349,320.7 349.7,319.1 351.4,319.4 352.9,318.5 354.6,318.5 356.3,319.3 358.2,319.7 360.3,319.7 362.4,319.3 364.3,318.5 365.9,317.6 367.5,317.1 369.2,316.8 371,316.7 373.2,315.7 374.9,314 376.5,312.9 378.4,312.5 380.3,312.4 381.9,311.2 383.6,311 385.4,310.9 387,310.2 388.8,310.2 390.9,310 393.1,309.8 395.1,309.1 397.9,307.7 395.9,307.2 394.4,305.7 392.8,304.1 390.9,302.9 388.7,302.6 386.7,303.3 385,303.4 383.5,304.2 381.9,304.3 380.2,303.8 378.4,304.4 376.6,303.8 374.9,303.6 373.5,301.5 374.8,300.3 375.2,298.6 376.3,297.3 377.5,295.4 379.1,293.8 381.3,294.1 383.3,295.2 385,294.2 387,294.5 388.8,293.8 390.2,292.6 391.8,291.8 393.5,291.2 395.1,290.3 395.9,288.8 397.5,288.1 398.6,286.9 399.3,285.3 400.7,284.2 401.9,282.8 402.7,281.3 402.7,278.5 400.7,276.4 402.6,275 404.8,274.3 406.6,273.9 408.5,274 410.2,273.4 412,272.8 413.9,273 415.6,272.8 417.2,272.7 418.9,272.3 420.6,272.5 422.2,271.8 423.9,272.2 425.7,272.8 427.5,272.2 429.3,272.5 431,273.2 432.8,274.1 434.8,274.3 436.6,275 438.2,275.9 439,277.7 440.7,278.5 441.6,280.3 441.8,282.3 442.8,284.1 443.5,286.1 444.3,288 445.6,289.7 446.9,290.9 448.2,292.2 449.8,293.1 451.9,293.4 454,293.8 456,294.5 457.5,295.4 459.3,295.4 460.9,295.9 462.8,297.4 465.1,298 465.6,299.7 466.4,301.3 467.2,302.9 469.1,303 470.7,304.3 472.7,304.3 474.4,303.9 476.2,303.7 477.9,303.2 479.7,302.9 481.4,302.3 483.3,302.6 485,301.9 486.7,301.5 488.7,300.6 490.8,300.8 492.2,303.6 491.4,305.3 490.8,307 489.6,308.8 488,310.2 486.7,311.9 485.3,313 484.7,314.8 483.2,315.8 482.5,317.5 480.4,318.1 478.3,318.9 476.4,319.2 474.6,318 472.7,318.2 471.4,319.2 470,320.2 469.3,321.7 470.1,323.4 470.6,325.3 470.7,327.2 469.2,329.1 468.6,331.4 466.7,331.9 465,332.8 463.5,333.7 461.6,333.4 460,333.8 458.2,334 456.7,334.9 454.8,335.4 453.1,336.7 451.1,337 449.2,338.5 446.9,339 445,339.5 443.2,339.5 441.3,339 439.6,340.2 437.5,340.5 435.8,341.8 434.2,342.7 432.6,343.6 431,344.6 429.4,345 428.3,346.5 426.8,347.1 425.3,347.7 423.1,348.6 421,349.6 419.1,349.8 417.5,350.9 415.8,351.7 414.2,352.6 412.2,352.1 410.6,353 408.8,353.1 407.4,353.8 408.2,352.3 408.2,350.5 408.8,348.9 410.8,347.8 412.3,346.1 411.6,343.3 408.8,342 407,342.4 405.3,343.3 403.8,344.4 401.9,344.7 400.5,346.3 398.9,347.4 397,348.2 395.4,349.6 393.5,350.5 391.4,351 389.9,351.8 388.1,351.7 386.6,352.4 385.2,355.2 387.3,357.3 389.1,357.6 391,357.2 392.8,358 394.2,360.7 395.9,361.4 397,362.8 398.9,363 400.5,362.1 401.7,360.8 402.6,359.2 404,358 406.7,359 408.6,360 410.2,361.4 411.9,361.7 413.7,361.4 416.5,362.8 415.1,364.2 413.4,364.5 411.6,364.2 409.8,364.8 408.1,365.6 405.8,366.2 404,367.7 402.1,368.4 400.5,369.8 399.5,371.2 398.2,372.1 397,373.3 396.3,375 397.1,376.6 398.1,378 399.8,379.3 401.8,380 403.4,381.3 404.4,383.1 405.7,384.2 406.5,385.7 407,387.3 408.2,388.3 409.4,389.5 410.7,390.4 411.4,392 412.2,393.6 412.2,395.7 411.2,397.2 413.1,398.1 414.8,399.3 415.3,400.9 413.6,402.1 412.7,404 411.6,405.5 410.7,407.1 409.8,409.3 408.6,411.3 407.3,412.3 406,413.2 404.9,414.4 403.9,415.7 403.4,417.3 402.3,418.6 401.1,420.5 399.2,421.7 398.3,423.9 397.1,425.9 395.8,426.8 394.8,428.2 393.4,429 392,429.9 391.3,431.5 389.8,432.2 388.2,433.5 386.2,434 384.6,435.3 383,436.6 381,437.2 379.3,438.4 377.3,440 375.3,440.5 373.2,440.7 371.4,441.7 369.7,442.2 368,442.6 366.2,442.1 364.5,442.6 362.6,443.2 360.8,443.9 359,444.7 357.4,446 356.1,447.3 354.4,447.9 352.6,448.3 351.1,449.2 349.4,449.1 347.8,449.5 346.4,450.3 344.8,450.8 342.5,451.4 340.7,452.9 340.1,454.7 339.8,456.5 338.3,455.3 337,453.9 336.2,452.4 335.4,450.8 333.9,449.7 332.3,448.7 330.8,448.1 329.2,447.7 327,447.5 325,448.2 323.4,447.2 321.5,447.2 319.8,446.6 319.1,445 317.7,444 315.6,441.9 313.4,441.4 311.4,440.3 309.3,440.5 307.3,439.8 305.2,440.2 303.1,439.8 301,439.8ZM329.7,461.7 331.2,460.6 332.6,459.3 334.4,458.6 336.1,458.4 337.7,458.1 339.4,457.9 341,457.7 342.7,457.6 344.3,460.2 343.2,462.1 341.7,463.8 340.3,464.8 339.2,466 337.9,467.1 336.5,468 334.8,467.6 333,467.3 331.3,467 329.2,464.9 329.2,463.3ZM406.2,430.4 407.9,430.2 409.7,430 411.4,429.6 412,431.3 412.3,433 411.6,434.6 410.6,436 409.9,437.6 409.8,439.4 408.8,440.9 408.1,442.5 407.4,444.1 406.2,445.5 405.3,447 403.9,445.4 403,443.5 401.9,441.7 401.6,439.5 401,437.4 401.9,435.9 403.2,434.7 404.2,433.2 404.9,431.6Z" fill="none" stroke="#1a1a1a" stroke-width="0.9"/>
</g>
<rect x="307" y="266.6" width="205.2" height="205.6" fill="none" stroke="#4a4a4a" stroke-width="1.3"/>
<line x1="302.5" y1="291.4" x2="307" y2="291.4" stroke="#4a4a4a" stroke-width="1.2"/>
<text x="300" y="295.6" text-anchor="end" class="t">50°N</text>
<line x1="302.5" y1="374.6" x2="307" y2="374.6" stroke="#4a4a4a" stroke-width="1.2"/>
<text x="300" y="378.8" text-anchor="end" class="t">35°N</text>
<line x1="302.5" y1="459.0" x2="307" y2="459.0" stroke="#4a4a4a" stroke-width="1.2"/>
<text x="300" y="463.2" text-anchor="end" class="t">20°N</text>
<line x1="306.9" y1="472.2" x2="306.9" y2="476.7" stroke="#4a4a4a" stroke-width="1.2"/>
<text x="306.9" y="490.5" text-anchor="middle" class="t">105°E</text>
<line x1="400.3" y1="472.2" x2="400.3" y2="476.7" stroke="#4a4a4a" stroke-width="1.2"/>
<text x="400.3" y="490.5" text-anchor="middle" class="t">120°E</text>
<line x1="493.7" y1="472.2" x2="493.7" y2="476.7" stroke="#4a4a4a" stroke-width="1.2"/>
<text x="493.7" y="490.5" text-anchor="middle" class="t">135°E</text>
<text x="273.0" y="272" class="lab">(d)</text>
<clipPath id="fre"><rect x="36" y="522.5" width="205" height="204.6"/></clipPath>
<g clip-path="url(#fre)">
<rect x="30" y="515" width="215" height="215" fill="#eef7fc"/>
<path fill="#fffdf2" fill-rule="evenodd" d="M35.9,522.4 91.8,522.4 97.4,527 107.6,530.3 109.6,531.7 107.6,534 97.4,536.3 87.1,535.8 76.9,536.3 65.8,541 56.4,543.3 35.9,545.7 35.9,522.4ZM228.9,531.7 230.6,530.7 240.8,527 240.8,545.7 230.6,545.2 227.2,550.3 223.1,559.6 225.9,569 230.6,572 240.8,573.6 240.8,666.9 230.6,666.6 220.3,667.8 210.1,670.3 206.3,671.5 199.8,676.2 189.6,682.4 179.3,685.5 169.1,686.9 158.8,685.5 148.9,680.9 128.1,678.2 117.9,676.2 107.6,675.1 97.4,676.2 87.1,676.6 76.9,676.2 66.6,673 65.2,671.5 56.4,670 46.1,668.7 35.9,668.1 35.9,629.6 43.2,634.2 46.1,634.8 56.4,635.8 66.6,636 97.4,635.8 117.9,636.6 138.3,635.8 158.8,635.8 170.3,634.2 179.3,631.9 188.5,624.9 187.5,615.6 188.7,606.3 185,597 184.7,587.6 189.6,582.4 199.8,583 210.1,580.3 212.2,578.3 210.1,577.7 199.8,577 189.6,577.5 179.3,577.1 169.1,574.4 158.8,570.1 156.2,569 149.1,559.6 148.6,554.1 147.2,550.3 148.6,549.8 158.8,543.3 169.1,539.1 179.3,537.3 189.6,537 210.1,537.3 220.3,536.3 228.9,531.7ZM35.9,578.3 35.9,573.6 56.4,573.6 66.6,576.8 67.9,578.3 76.9,580.6 87.1,584.2 92.8,587.6 89.6,597 87.1,597.6 76.9,599.3 66.6,602.1 56.4,604.4 46.1,605.3 35.9,604.7 35.9,578.3ZM84.4,699.5 87.1,696.7 97.4,694.9 103.9,699.5 107.6,703 112.7,708.9 114,718.2 108.9,727.5 84.1,727.5 80.6,718.2 87.1,711.7 91.5,708.9 87.1,702.6 84.4,699.5ZM186.3,708.9 189.6,706.8 199.8,706.5 212.2,708.9 220.3,713.5 230.6,715.1 240.8,713.5 240.8,727.5 189.7,727.5 186.8,718.2 186.3,708.9Z"/>
<path fill="#fff5d8" fill-rule="evenodd" d="M35.9,522.4 81.6,522.4 76.9,527 65.2,531.7 56.4,536.3 46.1,539.1 35.9,536.3 35.9,522.4ZM179.3,541 189.6,540.4 199.8,541 210.1,542 220.3,550.3 218.7,559.6 216.4,569 210.1,572.8 199.8,574.3 189.6,575.2 179.3,574.8 169.1,572 161.6,569 158.8,566.6 153,559.6 155.2,550.3 158.8,548 169.1,542.8 179.3,541ZM35.9,587.6 35.9,580.6 46.1,579.8 56.4,580.6 66.6,582.5 76.9,585.3 82.7,587.6 76.9,592.3 69.3,597 56.4,600.7 46.1,602.1 35.9,601.6 35.9,587.6ZM196.1,606.3 199.8,601.6 210.1,600.4 220.3,601.6 228.6,606.3 229.8,615.6 230.6,616 237.2,624.9 237.6,634.2 230.6,641.3 226.2,643.6 227.6,652.9 232.2,662.2 210.1,666.1 199.8,669.2 190.6,671.5 179.3,676.2 169.1,678.5 158.8,678.5 148.6,677.5 138.3,676.2 128.1,673.7 123.1,671.5 117.9,666.9 107.6,662 97.4,666.9 87.1,669.2 76.9,669.2 46.1,666 35.9,665.7 35.9,635.4 46.1,637.6 56.4,638.9 66.6,639.2 87.1,638.7 97.4,638.9 117.9,641.2 138.3,638.9 158.8,638.9 169.1,637.6 189.9,634.2 196,624.9 195.2,615.6 196.1,606.3ZM89.3,718.2 97.4,713.5 105,718.2 97.4,722.8 89.3,718.2Z"/>
<path fill="#feeab0" fill-rule="evenodd" d="M35.9,522.4 69.5,522.4 66.6,523.8 56.4,527 46.1,529.5 35.9,527 35.9,522.4ZM161.2,550.3 169.1,545.6 179.3,543.1 189.6,542.6 199.8,543.3 210.1,546 215.4,550.3 215.4,559.6 210.1,567.9 208.3,569 199.8,571.6 189.6,572.8 179.3,572.5 169.1,569.7 167.3,569 158.8,562 156.9,559.6 161.2,550.3ZM35.9,587.6 35.9,585.3 46.1,584.6 56.4,585.3 68.7,587.6 66.6,588.8 56.4,597 46.1,598.8 35.9,598.5 35.9,587.6ZM206.1,624.9 210.1,619.3 220.3,620.3 229.4,624.9 230.6,628.2 231.3,634.2 230.6,635 220.3,638.9 215.7,643.6 214.9,652.9 210.1,660.6 208.5,662.2 199.8,664.6 189.6,667.8 179.3,670 169.3,671.5 158.8,673.9 148.6,674.2 138.3,673.1 133.3,671.5 128.1,669.4 120.2,662.2 117.9,657.6 107.6,653.7 97.4,657.6 89,662.2 87.1,662.9 76.9,664.6 66.6,664.4 46.1,663.3 35.9,663.4 35.9,637.7 46.1,640.4 56.4,642 66.6,642.4 87.1,641.6 97.4,642 105.7,643.6 107.6,648.5 117.9,648.2 128.1,643.9 138.3,642 158.8,642 169.1,640.7 179.3,638.9 199.8,636.6 208,634.2 206.1,624.9Z"/>
<path fill="#fdd98a" fill-rule="evenodd" d="M165.9,550.3 169.1,548.4 179.3,545.1 189.6,544.6 199.8,545.7 210.6,550.3 212.1,559.6 210.1,562.8 199.8,569 189.6,570.5 179.3,570.1 169.1,566.9 160.6,559.6 165.9,550.3ZM35.9,643.6 35.9,640.1 56.4,645.9 66.6,647.3 76.9,648.2 87.1,652.4 87.5,652.9 76.9,657.6 66.6,659.4 35.9,661.1 35.9,643.6ZM170.5,643.6 179.3,642 189.6,641 199.8,641.2 205.6,643.6 204.7,652.9 199.8,657.6 194.1,662.2 189.6,663.8 179.3,666.9 169.1,669 158.8,670.4 148.6,671.1 138.3,670.2 128.1,665.1 124.9,662.2 121,652.9 128.1,648.1 138.3,644.9 148.6,644.6 158.8,644.6 170.5,643.6Z"/>
<path fill="#fcc15a" fill-rule="evenodd" d="M170.9,550.3 179.3,547.2 189.6,546.5 199.8,548 205.2,550.3 208.7,559.6 199.8,566.3 189.6,568.3 179.3,567.8 169.1,563.9 164.1,559.6 169.1,552.1 170.9,550.3ZM35.9,643.6 35.9,642.4 39.7,643.6 46.1,647.3 56.4,650.6 65.7,652.9 56.4,655.2 35.9,658.7 35.9,643.6ZM127.2,652.9 138.3,647.6 148.6,646.7 169.1,646.5 179.3,645.9 189.6,646.4 194.8,652.9 184,662.2 179.3,663.8 169.1,666.4 158.8,668.1 148.6,668.8 138.3,667.6 129.5,662.2 127.2,652.9Z"/>
<path fill="#f9a43a" fill-rule="evenodd" d="M176.5,550.3 179.3,549.3 189.6,548.5 199.8,550.3 205.1,559.7 199.8,563.6 189.6,566 179.3,565.5 169.1,560.9 167.7,559.6 169.1,557.5 176.5,550.3ZM35.9,652.9 35.9,645.9 46.1,651.6 50,652.9 35.9,656.4 35.9,652.9ZM132.8,652.9 138.3,650.2 148.6,648.8 158.8,648.8 169.1,649.1 179.3,650.6 184.5,652.9 179.3,657.6 174.7,662.2 169.1,663.8 158.8,665.7 148.6,666.5 138.3,664.9 133.9,662.2 132.8,652.9Z"/>
<path fill="#f58a2f" fill-rule="evenodd" d="M172,559.6 179.3,552.7 189.6,550.7 199.8,556.5 201.6,559.6 199.8,561 189.6,563.8 179.3,563.1 172,559.6ZM35.9,652.9 35.9,650.6 40.2,652.9 35.9,654.1 35.9,652.9ZM138.4,652.9 148.6,650.9 158.8,650.8 169.1,651.8 173.7,652.9 164.6,662.2 158.8,663.4 148.6,664.2 138.3,662.2 138.4,652.9Z"/>
<path fill="#ef6f2d" fill-rule="evenodd" d="M176.9,559.6 179.3,557.3 189.6,555.4 196.2,559.6 189.6,561.6 179.3,560.8 176.9,559.6Z"/>
<path fill="#d3ebf7" fill-rule="evenodd" d="M126.3,531.7 128.1,530.5 138.3,527 143.4,522.4 228.6,522.4 211.8,531.7 210.1,532.2 199.8,533.5 179.3,533.5 169.1,534 158.8,536.3 152,541 148.6,542.7 138.3,545.7 128.1,542.1 126.9,541 126.3,531.7ZM42.8,550.3 46.1,549.2 87.1,544.6 97.4,545.7 107.2,550.3 105,559.6 107.6,562.3 117.9,564.3 125.5,559.6 128.1,557.3 138.3,555 142.1,559.6 148.6,566 150.8,569 169.1,576.7 175.1,578.3 177.2,587.6 176.9,597 179.3,601.6 182.5,606.3 182,615.6 182.4,624.9 179.3,627.3 169.1,631.5 158.8,633.1 148.6,633.3 97.4,632.7 87.1,631.9 76.9,629.6 69.2,624.9 66.6,624.4 46.1,620.6 35.9,620.3 35.9,610.9 46.1,611 76.9,603.9 87.1,601.9 97.4,599.3 100.8,597 101.1,587.6 97.4,583 85.7,578.3 86.2,569 76.9,564.3 66.6,563.7 56.4,564.3 46.1,563.5 42.7,559.6 42.8,550.3ZM228.5,559.6 230.6,555.8 234.9,559.6 230.6,563.3 228.5,559.6ZM35.9,671.5 35.9,670.4 47.6,671.5 43.2,680.9 42.9,690.2 35.9,694.9 35.9,671.5ZM220.3,671.5 230.6,670.7 233.6,671.5 240.8,676.2 240.8,704.2 230.6,708.1 220.3,706.5 199.8,701.9 192.3,699.5 192.1,690.2 199.8,685.5 204.7,680.9 210.1,676.8 220.3,671.5ZM108.2,690.2 117.9,685.5 128.1,684.3 138.3,685.5 158.8,694.9 166.3,699.5 169.1,702.2 173.9,708.9 174.5,718.2 169.1,723.7 158.8,725.2 138.3,725.2 128.1,724.2 122.2,718.2 120.9,708.9 117.9,704.2 113.6,699.5 108.2,690.2ZM35.9,708.9 35.9,704.2 56.4,701.9 66.6,701.4 76.9,704.2 81.4,708.9 76.9,713.5 72.9,718.2 69,727.5 41.9,727.5 38.9,718.2 35.9,713.5 35.9,708.9Z"/>
<path fill="#acd9f0" fill-rule="evenodd" d="M153.6,522.4 212,522.4 210.1,523.4 199.8,527 189.6,527.5 179.3,527 169.1,527.5 158.8,527 153.6,522.4ZM125.2,569 128.1,567.2 138.3,564.3 143,569 148.6,570.5 167.4,578.3 169.1,580.5 173,587.6 172,597 175,606.3 177.1,615.6 176.4,624.9 169.1,628.6 158.8,630.8 148.6,631.1 107.6,630.5 97.4,629.6 87.1,627.2 82,624.9 76.9,623.4 66.6,621 56.4,617.9 50.2,615.6 56.4,613.3 66.6,610 76.9,607.8 86.7,606.3 97.4,603.9 107.7,597 108.4,587.6 111.1,578.3 125.2,569ZM214.9,680.9 220.3,677.8 230.6,676.5 236.5,680.9 240.8,685.5 240.8,694.9 234.8,699.5 230.6,701.8 220.3,701.9 207.8,699.5 204.7,690.2 214.9,680.9ZM124.3,699.5 128.1,694.9 138.3,694.9 148.6,698.3 158.8,704.2 163.7,708.9 164.3,718.2 158.8,720.5 148.6,721.4 138.3,720.5 132,718.2 128.1,712.5 124.3,699.5ZM42.7,708.9 46.1,707.7 56.4,706.5 66.6,707.4 70.1,708.9 63.6,718.2 56.4,722.8 46.1,720.5 44.9,718.2 42.7,708.9Z"/>
<path fill="#8ccbed" fill-rule="evenodd" d="M120.9,578.3 128.1,572.7 138.3,570.5 148.6,573 161.7,578.3 168.8,587.6 165,606.3 169.1,608.9 172.7,615.6 170.7,624.9 169.1,625.7 158.8,628.4 148.6,628.8 138.3,628.4 117.9,628.4 107.6,627.9 97.4,626.5 87.1,623.1 66.6,617.6 61.2,615.6 66.6,613.6 76.9,610.9 108.4,606.3 114.5,597 114.7,587.6 120.9,578.3ZM214.9,690.2 220.3,685.5 230.6,683.7 236.5,690.2 230.6,695 220.3,694.9 214.9,690.2ZM134.4,708.9 138.3,704.2 148.6,705.7 153.3,708.9 148.6,715.3 138.3,713.5 134.4,708.9Z"/>
<path fill="#73b7e4" fill-rule="evenodd" d="M126.9,578.3 128.1,577.4 138.3,573.6 148.6,575.5 155.6,578.3 158.8,580.6 164.8,587.6 161.5,597 158.8,601.6 151.5,606.3 158.8,608.6 168,615.6 163,624.9 158.8,626.1 148.6,626.5 138.3,626.1 117.9,626.1 107.6,625.4 104.8,624.9 87.1,619.4 76.9,617.2 71.4,615.6 76.9,614 117.9,607.8 125.8,606.3 125.4,597 120.8,587.6 126.9,578.3Z"/>
<path fill="#64a6dc" fill-rule="evenodd" d="M134.4,578.3 138.3,576.7 149.2,578.3 158.8,585.3 160.8,587.6 158.8,592.3 148.6,596.4 138.3,594.6 128.1,589.7 126.8,587.6 128.1,585.6 134.4,578.3ZM86.5,615.6 107.6,612.2 117.9,610.9 128.1,610.6 148.6,611.2 158.8,613.3 161.9,615.6 158.8,620.3 148.6,622.2 138.3,620.3 128.1,621.8 117.9,622.6 107.6,621.1 97.4,617.9 86.5,615.6Z"/>
<path fill="#5592d0" fill-rule="evenodd" d="M134.3,587.6 138.3,583 148.6,583.5 154.6,587.6 148.6,591.3 138.3,590 134.3,587.6ZM104.9,615.6 117.9,614 128.1,615.6 117.9,617.9 107.6,616.4 104.9,615.6Z"/>
<path d="M35.9,605.9 43.3,606.3 48.2,608.5 53.5,609.3 56.5,608.6 60.5,607.8 65.3,606.9 70.1,606.7 76.5,606.1 79,604.9 83,602.9 83.8,601.2 82.6,600 84.6,597.2 87.8,596.7 90.2,597.6 94.2,596.7 98.6,595.5 101.1,593.7 105.7,591.9 110.3,591.2 114.4,590.5 116.3,589.5 114,588.2 111.7,586.3 108.9,586.6 105.7,587.3 101.1,586.8 100.2,585.4 102.1,582.6 103.9,580.2 106.7,581.2 110.3,580.2 114.4,577.9 116.7,575.6 119.4,571.9 119.4,570 118.1,568.6 120.8,567.2 126.8,566.3 132.3,565.5 138.1,566.5 141.7,567.7 144.4,570 145.8,573.8 147.7,577.5 150.4,579.8 154.5,580.7 157.7,581.6 160.5,583 161.9,586.3 165.5,587.3 170.1,586.3 174.7,585.4 177.4,584.9 178.3,586.8 177.4,589.1 174.7,592.3 172,596.1 169.2,597 165.5,596.5 163.3,598.9 164.2,602.6 162.8,605.4M162.8,605.4 160.4,606.3 155,607.7 151.3,609.1 148.5,610.5 144.8,610.5 141.2,612.3 138.1,614.2 134.3,616.3 131.5,617.5 128.1,618.9 123.5,619.9 122.5,620.3 123.5,617.1 125.8,615.2 125.3,613.3 123.5,612.5 118.9,614.3 115.7,616.6 112,618.5 108.8,619.4 107.9,621.3 109.3,622.7 112.9,623.2 113.8,625 115.7,626.4 118,625.9 120.3,623.2 122.1,623.8 124.4,625.4 126.7,625.4 128.5,626.4 127.6,627.3 125.3,627.3 123,628.2 120.3,629.6 118,631 115.7,633.4 115.2,634.5 116.4,636.5 118.8,637.9 120.6,639.9 122.3,642.7 124.7,644.8 125.7,647 125.7,648.4 125,649.4 127.4,650.8 127.7,651.8 126,653.9 124.7,656 123.3,658.8 120.9,660.9 119.2,663.7 117.1,665.7 115.8,668.5 113.3,670.6 110.9,672.8 107.5,674.8 104,676.9 102.7,678 98.8,679.1 94.3,679.7 89.6,682 85.5,684.1 81.3,685.2 78.6,686.6 78,689 76.2,687.3 75.1,685.2 73.1,683.8 71.1,683.1 68.3,683.4 64.9,682.4 63.5,680.6 62.1,679.2 59.4,678.2 56.7,677.8M68.3,683.4 64.9,682.4 63.5,680.6 62.1,679.2 59.4,678.2 56.7,677.8 54.3,679.8 51.9,680.9 48.2,680.9 46.1,680.1 44.5,681.2 42.9,680.9 42.5,683.1 40.8,685.4 39.2,684.6 36.7,684.6 35.9,684.2M162.8,605.4 158.4,604.8 156.4,606.6 152.7,608.1 150.6,608.5 147,609.6 144.5,610.4 140.8,612.6 136.3,615.6M136.3,615.6 137.5,617.1 140,617.5 139.2,620.8 137.9,622.7 140.8,624.2 144.9,624.9 144.5,628.3 144.5,632.4 144.1,635.7 148.6,635.7 153.1,634.6 156,633.5 156.8,630.5 156.4,626.8 154.3,623.8 151.9,620.8 148.6,617.8 150.2,616 153.1,614.5 157.6,612.6 158,610.4 161.7,607 163.8,605.9 168.3,603.7 172,605.2 179.7,602.5 186.7,598.1 191.2,594.7 194.5,591.4 199.4,585.8 201.5,582.4 201.9,578.3 202.3,573.8 205.1,570.1 205.6,567.1 201.9,565.2 197.8,563.8 193.7,563.4 191.6,562.3 192,559.6 188.3,560.4 184.2,561.1 181,560.4 185.5,557.4 190.4,554.1 194.5,551.1 201.9,547 210.5,542.9 220.3,542.1 230.6,541.4 242.8,541.4M71.1,683.1 68.3,684.6 64.6,686.5 62.9,689.1 59.3,692.4 59.7,695 62.5,698.8 65.4,701.8 69.5,704.7 72,707.7 73.6,712.6 74.4,716.3 73.6,720 72,722.7 66.6,724.9 63.8,726 62.9,729.4M33.9,714.4 37.9,714.4 40,717.4 44.9,719.3 47.4,721.5 49,724.5 52.3,725.6 54.8,726.4 56.4,729.4M71.4,692.5 74.5,690.4 80,689.7 81,691.5 79.3,693.9 75.9,696.7 72.4,696 71.1,694.6 71.4,692.5M121.7,671.5 125.2,671 125.8,673.3 123.5,678.6 121.1,682.6 118.9,679.1 118.3,676.2 121.7,671.5M208,562.3 210.9,562.3 212.9,567.1 212.5,572.7 214.2,580.9 217.4,582 212.9,582.4 210.5,586.5 212.1,591 210.1,591.4 208.8,593.2 207.6,593.6 208,589.5 208.8,582 208.4,574.6 206.8,569 208,562.3M206.8,595.5 210.1,598.1 215.4,600.3 221.5,599.6 221.9,603.3 216.2,604.8 213.3,608.1 206.8,605.9 203.5,610 200.2,609.6 200.6,607 199,605.9 201.5,603.3 205.6,603.3 206.8,599.6 206.8,595.5M204.7,611.1 206.4,614.1 208,617.1 206,621.9 203.5,626 202.3,629.4 203.1,631.6 199,634.6 195.3,635.7 189.6,635.4 186.7,636.1 184.2,639.8 181,639.5 179.7,636.1 173.2,636.5 167.4,638.4 162.5,638 165,635.7 170.3,632.4 177.3,632 183.4,631.3 186.7,625.7 189.2,626.8 193.7,624.6 198.2,621.9 199.8,617.5 199.8,614.5 201.5,611.1 204.7,611.1M162.5,638.4 165.8,641 165,646.6 162.9,648.4 159.7,648.1 159.7,643.9 157.6,641.7 158.4,639.5 162.5,638.4M167,641.7 171.1,640.2 176.5,640.6 177.7,637.2 173.2,636.5 168.3,638.4 167,641.7M120.3,695.8 126.9,695.8 126.1,701.4 124.4,705.5 124.8,711.8 130.2,713 134.3,717.8 131.4,716.3 128.1,713.3 124,714.1 120.3,711.8 121.5,705.9 119.1,703.3 120.3,695.8M119.1,714.4 124,715.9 122.8,719.3 119.9,717.8 119.1,714.4M135.5,718.2 141.2,719.3 140,723.8 137.9,722.7 135.5,718.2M135.9,721.9 138.3,723 139.2,727.1 136.7,726.8 135.9,721.9M126.1,720.8 130.6,721.9 128.5,725.6 125.6,725.3 126.1,720.8M130.2,723.8 132.2,725.6 131,729.4 128.1,727.5 130.2,723.8M133.8,722.7 134.7,725.6 131.8,729.4 133.8,722.7M117,721.9 115.8,726.4 109.7,731.2 106.8,733.1 111.7,727.5 115,722.7 117,721.9M51.5,572.7 54.8,572.3 58,570.8 61.7,569 65.8,566.7 69.9,564.9 73.2,562.3 75.2,558.9 75.7,556.7 74,557 71.1,560 67,563.4 62.9,565.6 58.8,567.9 54.3,570.5 51.5,572 51.5,572.7" fill="none" stroke="#7c7c7c" stroke-width="1.05" stroke-linejoin="round"/>
<path d="M35.9,632 42,630.9 49.8,629.8 53.9,627.2 56.9,625.2 59.7,624 62.9,621.1 63.7,616.3 66.1,613.5 70.1,612.7 74.9,614.3 79.8,614.7 82.6,616.3 82.1,619.5 79.4,622.8 79,626.9 78.2,631 79,635 84.6,634.2 89.4,633.8 95,633.4 98.6,632.6 105.4,628.2 109.6,625.4 113.3,624.3M35.9,634.6 40.8,636.5 44.9,638.7 45.7,640.2 42,639.5 35.9,638.7M35.9,660.7 38.4,664.8 41.2,667.8 43.3,668.2 47,664.1 50.7,660.4 53.9,657 56.9,657.6 60.5,657.2 64.6,655.2 68.5,652.4 71.7,649.9 76.5,649.1 81.3,650.7 86.1,652.8 89.4,655.2 92.6,653.2 95.7,650.7 98.6,651.9 102.7,652.8 106.8,650.4 110.2,648.4 113,645.5 115.8,644.8 117,644.9 122,646.2" fill="none" stroke="#22d3e6" stroke-width="1.3"/>
<path d="M166.3,529.8h1.4M43.4,563.4h1.4M55.7,563.4h1.4M190.9,563.4h1.4M227.8,563.4h1.4M240.1,563.4h1.4M43.4,574.6h1.4M68,574.6h1.4M240.1,574.6h1.4M240.1,585.8h1.4M80.3,597h1.4M80.3,619.3h1.4M43.4,630.5h1.4M55.7,630.5h1.4M43.4,641.7h1.4M43.4,664.1h1.4M55.7,664.1h1.4M203.2,675.3h1.4M215.5,675.3h1.4M227.8,675.3h1.4M240.1,675.3h1.4M55.7,686.5h1.4M68,686.5h1.4M43.4,697.7h1.4M55.7,697.7h1.4M68,697.7h1.4M80.3,697.7h1.4M129.5,697.7h1.4M240.1,697.7h1.4M43.4,708.9h1.4M55.7,708.9h1.4M104.9,708.9h1.4M129.5,708.9h1.4M141.7,708.9h1.4M154,708.9h1.4M203.2,708.9h1.4M215.5,708.9h1.4M227.8,708.9h1.4M240.1,708.9h1.4M43.4,720h1.4M55.7,720h1.4M68,720h1.4M92.6,720h1.4M104.9,720h1.4M129.5,720h1.4M141.7,720h1.4M154,720h1.4M203.2,720h1.4M215.5,720h1.4M227.8,720h1.4M240.1,720h1.4" stroke="#555050" stroke-width="1.1" fill="none"/>
<path d="M107.9,527.2L104.1,530.4L104.2,528.6L103.1,532.3L106.7,531.1L105,531.3L108.2,527.5ZM119.8,527.5L116.6,530.2L116.8,528.6L115.7,531.9L119.1,530.9L117.5,531L120.2,527.9ZM131.7,527.9L129.1,530L129.3,528.6L128.4,531.6L131.4,530.6L130,530.8L132.1,528.2ZM144,527.9L141.4,530L141.6,528.6L140.7,531.6L143.7,530.6L142.3,530.8L144.4,528.2ZM156,528.2L154,529.7L154.2,528.5L153.3,531.2L156,530.4L154.8,530.6L156.3,528.6ZM180.6,528.2L178.6,529.7L178.8,528.5L177.9,531.2L180.6,530.4L179.4,530.6L180.9,528.6ZM192.9,528.2L190.8,529.7L191.1,528.5L190.2,531.2L192.9,530.4L191.7,530.6L193.2,528.6ZM205.2,528.2L203.1,529.7L203.4,528.5L202.5,531.2L205.2,530.4L204,530.6L205.5,528.6ZM217.4,528.2L215.4,529.7L215.6,528.5L214.8,531.2L217.5,530.4L216.3,530.6L217.8,528.6ZM230.5,529.6L228,529.2L229,528.5L226.5,529.8L229,531.1L228,530.4L230.5,530.1ZM242.3,529.6L240.6,529.2L241.5,528.7L239.3,529.8L241.5,531L240.6,530.4L242.3,530.1ZM108.6,540.8L104.4,540.4L105.7,539.4L102.6,541L105.7,542.6L104.4,541.6L108.6,541.2ZM119.9,540.8L117.4,540.4L118.4,539.7L115.9,541L118.4,542.3L117.4,541.6L119.9,541.2ZM131.7,540.8L130,540.4L130.9,539.9L128.7,541L130.9,542.1L130,541.6L131.7,541.2ZM140.9,541.2L142.6,541.6L141.7,542.1L143.9,541L141.7,539.9L142.6,540.4L140.9,540.8ZM153.5,540.1L154.4,541.6L153.4,541.3L155.8,542.1L155.1,539.7L155.3,540.7L153.9,539.8ZM165.8,542.6L167.8,541.1L167.6,542.3L168.5,539.6L165.8,540.4L167,540.2L165.4,542.2ZM178.1,542.6L180.1,541.1L179.9,542.3L180.7,539.6L178.1,540.4L179.3,540.2L177.7,542.2ZM190.4,542.6L192.4,541.1L192.2,542.3L193,539.6L190.4,540.4L191.6,540.2L190,542.2ZM202.3,542.9L204.9,540.8L204.7,542.2L205.7,539.2L202.7,540.2L204.1,540L202,542.6ZM107.2,553.4L105.6,551.4L106.8,551.6L104.2,550.8L105,553.5L104.8,552.3L106.8,553.8ZM116.3,551L117.8,553L116.6,552.8L119.3,553.6L118.4,550.9L118.6,552.1L116.6,550.6ZM129.9,550.7L129.6,552.4L129,551.5L130.2,553.7L131.3,551.5L130.8,552.4L130.4,550.7ZM141.2,553.8L143.2,552.3L143,553.5L143.9,550.8L141.2,551.6L142.4,551.4L140.9,553.4ZM153.5,553.8L155.5,552.3L155.3,553.5L156.2,550.8L153.5,551.6L154.7,551.4L153.2,553.4ZM165.4,554.1L168,552L167.9,553.4L168.8,550.4L165.8,551.4L167.2,551.2L165.1,553.8ZM177.7,554.1L180.3,552L180.1,553.4L181.1,550.4L178.1,551.4L179.5,551.2L177.4,553.8ZM190,554.1L192.6,552L192.4,553.4L193.4,550.4L190.4,551.4L191.8,551.2L189.7,553.8ZM67.4,562.5L68.4,563.9L67.4,563.7L69.7,564.4L69,562.1L69.2,563.1L67.8,562.1ZM79.4,562.1L80.9,564.2L79.7,563.9L82.4,564.8L81.5,562.1L81.8,563.3L79.7,561.8ZM91.7,562.1L93.2,564.2L92,563.9L94.7,564.8L93.8,562.1L94,563.3L92,561.8ZM103.6,561.8L105.7,564.4L104.3,564.2L107.3,565.1L106.4,562.1L106.6,563.5L104,561.4ZM115.9,561.8L118,564.4L116.6,564.2L119.6,565.1L118.7,562.1L118.9,563.5L116.3,561.4ZM127.9,561.4L130.5,564.6L128.9,564.4L132.3,565.5L131.2,562.2L131.4,563.8L128.2,561.1ZM140.5,561.8L142.6,564.4L141.2,564.2L144.2,565.1L143.3,562.1L143.5,563.5L140.9,561.4ZM153.2,562.1L154.7,564.2L153.5,563.9L156.2,564.8L155.3,562.1L155.5,563.3L153.5,561.8ZM165.5,563.6L167.2,564L166.3,564.5L168.5,563.4L166.3,562.2L167.2,562.8L165.5,563.1ZM177.7,562.1L179.3,564.2L178.1,563.9L180.7,564.8L179.9,562.1L180.1,563.3L178.1,561.8ZM203,564.6L204.5,563.7L204.2,564.7L205,562.3L202.6,563.1L203.6,562.8L202.7,564.3ZM215.3,564.6L216.8,563.7L216.5,564.7L217.3,562.3L214.9,563.1L215.9,562.8L215,564.3ZM54.9,574.8L56.6,575.2L55.7,575.7L57.9,574.6L55.7,573.4L56.6,574L54.9,574.3ZM79.5,574.8L81.2,575.2L80.3,575.7L82.5,574.6L80.3,573.4L81.2,574L79.5,574.3ZM91.7,573.3L93.2,575.3L92,575.1L94.7,576L93.8,573.3L94,574.5L92,573ZM103.6,573L105.7,575.6L104.3,575.4L107.3,576.3L106.4,573.3L106.6,574.7L104,572.6ZM115.9,573L118,575.6L116.6,575.4L119.6,576.3L118.7,573.3L118.9,574.7L116.3,572.6ZM128.2,573L130.3,575.6L128.9,575.4L131.9,576.3L131,573.3L131.2,574.7L128.6,572.6ZM144.7,576.5L142.1,573.3L143.7,573.5L140.3,572.4L141.4,575.8L141.2,574.2L144.4,576.9ZM156.7,576.2L154.6,573.6L156,573.8L153,572.8L153.9,575.8L153.7,574.4L156.3,576.5ZM165.4,576.5L168,574.4L167.9,575.8L168.8,572.8L165.8,573.8L167.2,573.6L165.1,576.2ZM180.9,575.8L179.4,573.8L180.6,574L177.9,573.2L178.8,575.8L178.6,574.6L180.6,576.2ZM191.4,572.6L191,575.1L190.3,574.1L191.6,576.6L192.9,574.1L192.2,575.1L191.9,572.6ZM202.3,573.3L203.8,575.3L202.6,575.1L205.3,576L204.5,573.3L204.7,574.5L202.7,573ZM216,573.1L215.6,574.8L215.1,573.9L216.2,576.1L217.4,573.9L216.8,574.8L216.5,573.1ZM227.3,573.7L228.2,575.1L227.2,574.9L229.6,575.6L228.8,573.3L229.1,574.3L227.6,573.3ZM42.6,586L44.3,586.4L43.4,586.9L45.6,585.8L43.4,584.6L44.3,585.2L42.6,585.5ZM54.9,586L56.6,586.4L55.7,586.9L57.9,585.8L55.7,584.6L56.6,585.2L54.9,585.5ZM66.7,586L69.2,586.4L68.2,587.1L70.7,585.8L68.2,584.5L69.2,585.2L66.7,585.5ZM79,586L81.5,586.4L80.5,587.1L83,585.8L80.5,584.5L81.5,585.2L79,585.5ZM90.8,586L94.1,586.4L93,587.2L95.8,585.8L93,584.3L94.1,585.2L90.8,585.5ZM103.6,584.2L105.7,586.8L104.3,586.6L107.3,587.5L106.4,584.5L106.6,585.9L104,583.8ZM115.9,584.2L118,586.8L116.6,586.6L119.6,587.5L118.7,584.5L118.9,585.9L116.3,583.8ZM129.9,583.3L129.6,586.6L128.7,585.5L130.2,588.3L131.6,585.5L130.8,586.6L130.4,583.3ZM142.7,588.8L143,584.6L144.1,585.9L142.4,582.8L140.8,585.9L141.8,584.6L142.2,588.8ZM155,588.3L155.3,584.9L156.2,586.1L154.7,583.3L153.3,586.1L154.1,584.9L154.5,588.3ZM168.6,587L167.1,585L168.3,585.2L165.6,584.3L166.5,587L166.3,585.8L168.3,587.4ZM177.7,584.5L179.3,586.5L178.1,586.3L180.7,587.2L179.9,584.5L180.1,585.7L178.1,584.2ZM190,584.5L191.6,586.5L190.4,586.3L193,587.2L192.2,584.5L192.4,585.7L190.4,584.2ZM203.7,583.8L203.3,586.3L202.6,585.3L203.9,587.8L205.2,585.3L204.5,586.3L204.2,583.8ZM215,584.9L215.9,586.3L214.9,586.1L217.3,586.8L216.5,584.5L216.8,585.5L215.3,584.5ZM227.3,584.9L228.2,586.3L227.2,586.1L229.6,586.8L228.8,584.5L229.1,585.5L227.6,584.5ZM42.5,595.7L44,597.7L42.8,597.5L45.5,598.4L44.7,595.7L44.9,596.9L42.9,595.4ZM54.8,595.7L56.3,597.7L55.1,597.5L57.8,598.4L57,595.7L57.2,596.9L55.2,595.4ZM67.4,596.1L68.4,597.5L67.4,597.3L69.7,598L69,595.6L69.2,596.7L67.8,595.7ZM92.4,598.2L93.8,597.2L93.6,598.3L94.3,595.9L92,596.6L93,596.4L92,597.8ZM104.3,598.5L106.3,597L106.1,598.2L107,595.5L104.3,596.4L105.5,596.2L104,598.2ZM116.6,598.5L118.6,597L118.4,598.2L119.3,595.5L116.6,596.4L117.8,596.2L116.3,598.2ZM167.3,599.5L167.6,596.1L168.5,597.2L167,594.5L165.6,597.2L166.4,596.1L166.8,599.5ZM179.1,595L178.7,597.5L178,596.5L179.3,599L180.6,596.5L179.9,597.5L179.6,595ZM191.4,595L191,597.5L190.3,596.5L191.6,599L192.9,596.5L192.2,597.5L191.9,595ZM203.7,595L203.3,597.5L202.6,596.5L203.9,599L205.2,596.5L204.5,597.5L204.2,595ZM214.6,595.7L216.1,597.7L214.9,597.5L217.6,598.4L216.8,595.7L217,596.9L215,595.4ZM226.9,595.7L228.4,597.7L227.2,597.5L229.9,598.4L229.1,595.7L229.3,596.9L227.3,595.4ZM239.6,596.1L240.5,597.5L239.5,597.3L241.9,598L241.1,595.6L241.4,596.7L239.9,595.7ZM67.1,606.9L68.6,608.9L67.4,608.7L70.1,609.6L69.2,606.9L69.5,608.1L67.4,606.5ZM79.7,607.3L80.7,608.7L79.7,608.5L82,609.2L81.3,606.8L81.5,607.8L80.1,606.9ZM92,609.7L94,608.2L93.8,609.4L94.7,606.7L92,607.6L93.2,607.4L91.7,609.4ZM104,610.1L106.6,608L106.4,609.4L107.3,606.4L104.3,607.3L105.7,607.1L103.6,609.7ZM165.1,610.4L168.3,607.8L168.1,609.4L169.2,606L165.8,607.1L167.4,606.9L164.7,610.1ZM180.9,606.2L178.3,608.3L178.5,606.9L177.6,609.9L180.6,609L179.2,609.1L181.3,606.5ZM193.2,606.2L190.6,608.3L190.8,606.9L189.9,609.9L192.9,609L191.5,609.1L193.6,606.5ZM205.2,606.5L203.1,608.1L203.4,606.9L202.5,609.6L205.2,608.7L204,608.9L205.5,606.9ZM217.8,606.2L215.2,608.3L215.4,606.9L214.4,609.9L217.5,609L216.1,609.1L218.2,606.5ZM231,607.9L227.7,607.5L228.8,606.7L226,608.1L228.8,609.6L227.7,608.7L231,608.4ZM240.6,606.6L240.2,608.3L239.7,607.4L240.8,609.6L241.9,607.4L241.4,608.3L241.1,606.6ZM42.9,618.4L43.8,619.9L42.8,619.6L45.2,620.4L44.4,618L44.6,619L43.2,618.1ZM55.2,618.4L56.1,619.9L55.1,619.6L57.5,620.4L56.7,618L56.9,619L55.5,618.1ZM67.4,618.4L68.4,619.9L67.4,619.6L69.7,620.4L69,618L69.2,619L67.8,618.1ZM169.5,619.1L166.2,618.7L167.3,617.9L164.5,619.3L167.3,620.8L166.2,619.9L169.5,619.6ZM179.1,616.8L178.7,620.2L177.9,619L179.3,621.8L180.8,619L179.9,620.2L179.6,616.8ZM228.3,616.8L227.9,620.2L227.1,619L228.5,621.8L230,619L229.1,620.2L228.8,616.8ZM240.6,617.3L240.2,619.8L239.5,618.8L240.8,621.3L242.1,618.8L241.4,619.8L241.1,617.3ZM67.2,630.8L68.9,631.1L68,631.7L70.2,630.5L68,629.4L68.9,629.9L67.2,630.3ZM79.7,632.1L81.8,630.6L81.5,631.8L82.4,629.1L79.7,630L80.9,629.7L79.4,631.8ZM152.8,632.8L156,630.1L155.8,631.7L156.9,628.4L153.5,629.5L155.1,629.3L152.4,632.5ZM169,630.3L166.5,629.9L167.5,629.2L165,630.5L167.5,631.8L166.5,631.1L169,630.8ZM179.1,628L178.7,631.3L177.9,630.2L179.3,633L180.8,630.2L179.9,631.3L179.6,628ZM228.3,628L227.9,631.3L227.1,630.2L228.5,633L230,630.2L229.1,631.3L228.8,628ZM240.6,628.5L240.2,631L239.5,630L240.8,632.5L242.1,630L241.4,631L241.1,628.5ZM54.9,642L56.6,642.3L55.7,642.9L57.9,641.7L55.7,640.6L56.6,641.1L54.9,641.5ZM67.2,642L68.9,642.3L68,642.9L70.2,641.7L68,640.6L68.9,641.1L67.2,641.5ZM156.3,639.8L153.7,641.9L153.9,640.5L153,643.5L156,642.5L154.6,642.7L156.7,640.1ZM169,639.4L165.8,642.1L166,640.5L164.9,643.8L168.2,642.8L166.7,642.9L169.3,639.8ZM180.9,639.8L178.3,641.9L178.5,640.5L177.6,643.5L180.6,642.5L179.2,642.7L181.3,640.1ZM228.3,639.2L227.9,642.5L227.1,641.4L228.5,644.2L230,641.4L229.1,642.5L228.8,639.2ZM240.6,640.2L240.2,641.9L239.7,641L240.8,643.2L241.9,641L241.4,641.9L241.1,640.2ZM66.7,653.1L69.2,653.5L68.2,654.2L70.7,652.9L68.2,651.6L69.2,652.3L66.7,652.6ZM79.4,654.8L82,652.7L81.8,654.1L82.7,651.1L79.7,652.1L81.1,651.9L79,654.5ZM91.7,654.8L94.3,652.7L94.1,654.1L95,651.1L92,652.1L93.4,651.9L91.3,654.5ZM104,654.8L106.6,652.7L106.4,654.1L107.3,651.1L104.3,652.1L105.7,651.9L103.6,654.5ZM131.7,651L129.1,653.1L129.3,651.7L128.4,654.7L131.4,653.7L130,653.9L132.1,651.3ZM144.4,650.6L141.2,653.3L141.4,651.7L140.3,655L143.7,654L142.1,654.1L144.7,651ZM158.2,652.6L153.3,652.3L154.6,651.1L151.2,652.9L154.6,654.7L153.3,653.5L158.2,653.1ZM169.3,650.2L165.6,653.5L165.7,651.7L164.6,655.4L168.2,654.2L166.4,654.4L169.7,650.6ZM181.6,650.2L177.9,653.5L178,651.7L176.9,655.4L180.5,654.2L178.7,654.4L182,650.6ZM193.6,650.6L190.4,653.3L190.6,651.7L189.5,655L192.8,654L191.2,654.1L193.9,651ZM205.5,651L202.9,653.1L203.1,651.7L202.2,654.7L205.2,653.7L203.8,653.9L205.9,651.3ZM216,650.9L215.6,653.4L214.9,652.4L216.2,654.9L217.5,652.4L216.8,653.4L216.5,650.9ZM228.3,650.9L227.9,653.4L227.2,652.4L228.5,654.9L229.8,652.4L229.1,653.4L228.8,650.9ZM240.6,651.4L240.2,653.1L239.7,652.2L240.8,654.4L241.9,652.2L241.4,653.1L241.1,651.4ZM68.9,666.1L69.3,663.6L70,664.6L68.7,662.1L67.4,664.6L68.1,663.6L68.4,666.1ZM81.2,666.6L81.6,663.3L82.4,664.4L81,661.6L79.5,664.4L80.4,663.3L80.7,666.6ZM93.5,666.6L93.9,663.3L94.7,664.4L93.3,661.6L91.8,664.4L92.7,663.3L93,666.6ZM105.8,666.1L106.2,663.6L106.9,664.6L105.6,662.1L104.3,664.6L105,663.6L105.3,666.1ZM119.9,663.8L117.4,663.5L118.4,662.8L115.9,664.1L118.4,665.4L117.4,664.7L119.9,664.3ZM131.7,662.1L129.1,664.2L129.3,662.8L128.4,665.9L131.4,664.9L130,665.1L132.1,662.5ZM145.9,663.8L141,663.5L142.3,662.3L138.9,664.1L142.3,665.9L141,664.7L145.9,664.3ZM182.8,663.8L177.9,663.5L179.2,662.3L175.8,664.1L179.2,665.9L177.9,664.7L182.8,664.3ZM194.6,663.8L190.5,663.5L191.7,662.5L188.6,664.1L191.7,665.7L190.5,664.7L194.6,664.3ZM205.5,662.1L202.9,664.2L203.1,662.8L202.2,665.9L205.2,664.9L203.8,665.1L205.9,662.5ZM217.4,662.5L215.4,664L215.6,662.8L214.8,665.5L217.5,664.7L216.3,664.9L217.8,662.9ZM229.7,662.5L227.7,664L227.9,662.8L227.1,665.5L229.8,664.7L228.6,664.9L230.1,662.9ZM241.7,662.9L240.2,663.8L240.5,662.8L239.7,665.2L242.1,664.4L241.1,664.6L242,663.2ZM58.9,675L55.6,674.7L56.7,673.8L53.9,675.3L56.7,676.7L55.6,675.9L58.9,675.5ZM71.2,675L67.9,674.7L69,673.8L66.2,675.3L69,676.7L67.9,675.9L71.2,675.5ZM83.8,676.2L80.2,674.3L81.7,673.8L78.2,674.1L80.5,676.8L79.7,675.4L83.7,676.7ZM119.1,673.7L117.1,675.2L117.3,674L116.4,676.7L119.1,675.8L117.9,676.1L119.5,674ZM144.4,673L141.2,675.7L141.4,674.1L140.3,677.4L143.7,676.3L142.1,676.5L144.7,673.3ZM157.2,675L153.9,674.7L155,673.8L152.2,675.3L155,676.7L153.9,675.9L157.2,675.5ZM170,675L165.9,674.7L167.1,673.7L164,675.3L167.1,676.9L165.9,675.9L170,675.5ZM181.8,675L178.5,674.7L179.6,673.8L176.8,675.3L179.6,676.7L178.5,675.9L181.8,675.5ZM193.6,675L191.1,674.7L192.1,674L189.6,675.3L192.1,676.6L191.1,675.9L193.6,675.5ZM83,686.2L80.5,685.9L81.5,685.2L79,686.5L81.5,687.8L80.5,687.1L83,686.7ZM144,684.5L141.4,686.6L141.6,685.2L140.7,688.2L143.7,687.3L142.3,687.5L144.4,684.9ZM156.7,686.2L154.2,685.9L155.2,685.2L152.7,686.5L155.2,687.8L154.2,687.1L156.7,686.7ZM168.6,687.7L167.1,685.7L168.3,685.9L165.6,685.1L166.5,687.7L166.3,686.5L168.3,688.1ZM179.1,684.5L178.7,687L178,686L179.3,688.5L180.6,686L179.9,687L179.6,684.5ZM191.9,688.5L192.2,686L192.9,687L191.6,684.5L190.3,687L191,686L191.4,688.5ZM202.7,688.1L204.7,686.5L204.5,687.7L205.3,685.1L202.6,685.9L203.8,685.7L202.3,687.7ZM215,688.1L217,686.5L216.8,687.7L217.6,685.1L214.9,685.9L216.1,685.7L214.6,687.7ZM227.3,688.1L229.3,686.5L229.1,687.7L229.9,685.1L227.2,685.9L228.4,685.7L226.9,687.7ZM239.6,688.1L241.6,686.5L241.4,687.7L242.2,685.1L239.5,685.9L240.7,685.7L239.2,687.7ZM91.8,697.9L93.5,698.3L92.6,698.8L94.8,697.7L92.6,696.5L93.5,697.1L91.8,697.4ZM104.1,697.9L105.7,698.3L104.9,698.8L107.1,697.7L104.9,696.5L105.7,697.1L104.1,697.4ZM141.2,699.3L143.2,697.7L143,698.9L143.9,696.2L141.2,697.1L142.4,696.9L140.9,698.9ZM153.9,698.9L155.3,698L155.1,699L155.8,696.6L153.4,697.3L154.4,697.1L153.5,698.5ZM202.3,699.6L204.9,697.5L204.7,698.9L205.7,695.9L202.7,696.8L204.1,696.7L202,699.3ZM214.6,699.6L217.2,697.5L217,698.9L218,695.9L215,696.8L216.4,696.7L214.3,699.3ZM227.3,699.3L229.3,697.7L229.1,698.9L229.9,696.2L227.2,697.1L228.4,696.9L226.9,698.9ZM79.5,709.1L81.2,709.5L80.3,710L82.5,708.9L80.3,707.7L81.2,708.2L79.5,708.6ZM92,710.4L94,708.9L93.8,710.1L94.7,707.4L92,708.3L93.2,708.1L91.7,710.1Z" fill="#555050" stroke="#555050" stroke-width="0.25" stroke-linejoin="round"/>
<path d="M49.1,527.5L41.2,530.2L42.1,527.7L39,531.9L44.2,532.7L41.8,531.5L49.3,527.9ZM61.4,527.5L53.5,530.2L54.4,527.7L51.3,531.9L56.5,532.7L54.1,531.5L61.5,527.9ZM73.7,527.5L65.8,530.2L66.7,527.7L63.6,531.9L68.8,532.7L66.4,531.5L73.8,527.9ZM86,527.5L78.1,530.2L79,527.7L75.9,531.9L81.1,532.7L78.7,531.5L86.1,527.9ZM98.3,527.5L90.4,530.2L91.3,527.7L88.2,531.9L93.4,532.7L91,531.5L98.4,527.9ZM50.1,540.8L40.8,540.3L42.6,538.3L38.1,541L42.6,543.7L40.8,541.7L50.1,541.2ZM62.4,540.8L53.1,540.3L54.9,538.3L50.4,541L54.9,543.7L53.1,541.7L62.4,541.2ZM74.7,540.8L65.4,540.3L67.2,538.3L62.7,541L67.2,543.7L65.4,541.7L74.7,541.2ZM87,540.8L77.7,540.3L79.5,538.3L75,541L79.5,543.7L77.7,541.7L87,541.2ZM99.3,540.8L90,540.3L91.8,538.3L87.3,541L91.8,543.7L90,541.7L99.3,541.2ZM213.2,541.2L217,541.7L215.5,543.2L219.2,541L215.5,538.8L217,540.3L213.2,540.8ZM225.5,541.2L229.3,541.7L227.8,543.2L231.5,541L227.8,538.8L229.3,540.3L225.5,540.8ZM238.3,541.2L241.3,541.7L239.9,543L243.3,541L239.9,539L241.3,540.3L238.3,540.8ZM49.1,552L41.8,551.5L43.6,549.5L39.1,552.2L43.6,554.9L41.8,552.9L49.1,552.4ZM61.4,552L54.1,551.5L55.9,549.5L51.4,552.2L55.9,554.9L54.1,552.9L61.4,552.4ZM73.7,552L66.4,551.5L68.2,549.5L63.7,552.2L68.2,554.9L66.4,552.9L73.7,552.4ZM85,552L79.6,551.5L81.3,549.6L77,552.2L81.3,554.8L79.6,552.9L85,552.4ZM96.3,552L92.5,551.5L94,550L90.3,552.2L94,554.4L92.5,552.9L96.3,552.4ZM201.9,554.5L205,552.1L205,554.3L206,550.1L201.9,551.1L204,551.1L201.7,554.2ZM213.9,554.8L217.5,551.9L217.6,554.2L218.7,549.7L214.2,550.8L216.5,550.9L213.6,554.5ZM225.5,552.4L229.3,552.9L227.8,554.4L231.5,552.2L227.8,550L229.3,551.5L225.5,552ZM238.3,552.4L241.3,552.9L239.9,554.2L243.3,552.2L239.9,550.2L241.3,551.5L238.3,552ZM127.8,599.6L131.4,596.7L131.5,599L132.6,594.5L128.1,595.6L130.4,595.7L127.5,599.3ZM140.1,599.6L143.7,596.7L143.8,599L144.9,594.5L140.4,595.6L142.7,595.7L139.8,599.3ZM152.4,599.6L156,596.7L156.1,599L157.2,594.5L152.7,595.6L155,595.7L152.1,599.3ZM41.5,605.8L44.4,609.4L42,609.5L46.6,610.6L45.4,606.1L45.4,608.4L41.8,605.5ZM53.8,605.8L56.7,609.4L54.3,609.5L58.9,610.6L57.7,606.1L57.7,608.4L54.1,605.5ZM115.5,610.8L119.1,607.9L119.2,610.2L120.3,605.7L115.8,606.8L118.1,606.9L115.2,610.5ZM127.5,611.1L131.7,607.6L131.8,610.2L133,605.3L128.1,606.5L130.7,606.6L127.2,610.8ZM139.8,611.1L143.9,607.6L144.1,610.2L145.3,605.3L140.4,606.5L143,606.6L139.5,610.8ZM152.1,611.1L156.2,607.6L156.4,610.2L157.6,605.3L152.7,606.5L155.3,606.6L151.8,610.8ZM90.6,622.3L94.8,618.8L94.9,621.4L96.1,616.5L91.2,617.7L93.8,617.8L90.3,622ZM102.9,622.3L107.1,618.8L107.2,621.4L108.4,616.5L103.5,617.7L106.1,617.8L102.6,622ZM114.8,622.7L119.6,618.6L119.8,621.2L121,616.1L116,617.4L118.6,617.6L114.5,622.4ZM127.1,622.7L131.9,618.6L132.1,621.2L133.3,616.1L128.2,617.4L130.9,617.6L126.8,622.4ZM139.1,623L144.6,618.2L144.7,620.9L146,615.8L140.9,617.1L143.6,617.2L138.8,622.7ZM151.3,623L156.9,618.2L157,620.9L158.3,615.8L153.2,617.1L155.9,617.2L151.1,622.7ZM189.4,617.4L191.7,620.4L189.6,620.4L193.7,621.5L192.7,617.3L192.7,619.4L189.6,617.1ZM203.7,615.8L203.2,620.4L201.5,618.8L203.9,622.8L206.3,618.8L204.6,620.4L204.1,615.8ZM216,615.8L215.5,620.4L213.8,618.8L216.2,622.8L218.6,618.8L216.9,620.4L216.4,615.8ZM90.6,633.5L94.8,630L94.9,632.6L96.1,627.7L91.2,628.9L93.8,629L90.3,633.2ZM102.5,633.8L107.3,629.7L107.5,632.4L108.7,627.3L103.7,628.6L106.3,628.8L102.2,633.6ZM115.2,633.5L119.4,630L119.5,632.6L120.7,627.7L115.8,628.9L118.4,629L114.9,633.2ZM127.5,633.5L131.7,630L131.8,632.6L133,627.7L128.1,628.9L130.7,629L127.2,633.2ZM139.8,633.5L143.9,630L144.1,632.6L145.3,627.7L140.4,628.9L143,629L139.5,633.2ZM191.4,627L190.9,631.6L189.2,630L191.6,634L194,630L192.3,631.6L191.8,627ZM203.7,627L203.2,631.6L201.5,630L203.9,634L206.3,630L204.6,631.6L204.1,627ZM216,627L215.5,631.6L213.8,630L216.2,634L218.6,630L216.9,631.6L216.4,627ZM78.6,644.3L82.3,641.4L82.3,643.8L83.5,639.2L78.9,640.4L81.3,640.4L78.4,644ZM90.6,644.7L94.8,641.2L94.9,643.7L96.1,638.9L91.2,640.1L93.8,640.2L90.3,644.4ZM102.5,645L107.3,640.9L107.5,643.6L108.7,638.5L103.7,639.8L106.3,639.9L102.2,644.8ZM115.2,644.7L119.4,641.2L119.5,643.7L120.7,638.9L115.8,640.1L118.4,640.2L114.9,644.4ZM127.8,644.3L131.4,641.4L131.5,643.8L132.6,639.2L128.1,640.4L130.4,640.4L127.5,644ZM140.5,644L143.5,641.7L143.5,643.8L144.6,639.6L140.4,640.6L142.5,640.7L140.2,643.7ZM192.8,638.4L190.6,642.5L189.6,640.3L190.3,644.9L194,642.2L191.8,643L193.1,638.6ZM203.7,637.7L203.2,643.1L201.3,641.4L203.9,645.7L206.5,641.4L204.6,643.1L204.1,637.7ZM216,637.7L215.5,643.1L213.6,641.4L216.2,645.7L218.8,641.4L216.9,643.1L216.4,637.7ZM41.6,653.1L44.6,653.6L43.2,654.9L46.6,652.9L43.2,650.9L44.6,652.2L41.6,652.7ZM53.9,653.1L56.9,653.6L55.5,654.9L58.9,652.9L55.5,650.9L56.9,652.2L53.9,652.7ZM118.1,655.4L118.6,652.4L119.9,653.8L117.9,650.4L115.8,653.8L117.2,652.4L117.7,655.4ZM160.7,663.9L151.4,663.4L153.2,661.4L148.7,664.1L153.2,666.8L151.4,664.8L160.7,664.3ZM173,663.9L163.7,663.4L165.5,661.4L161,664.1L165.5,666.8L163.7,664.8L173,664.3ZM46.6,675.1L43.6,674.6L45,673.2L41.6,675.3L45,677.3L43.6,676L46.6,675.5ZM95.9,677.6L93,674L95.3,673.9L90.8,672.8L91.9,677.3L92,675L95.6,677.9ZM108.1,675.1L105.1,674.6L106.5,673.2L103.1,675.3L106.5,677.3L105.1,676L108.1,675.5ZM132.5,672.7L128.9,675.6L128.8,673.2L127.7,677.8L132.2,676.6L129.9,676.6L132.8,672.9ZM45.7,684.6L43.3,686.3L43.3,684.4L42.3,688.2L46.2,687.3L44.3,687.3L46,684.8ZM96.8,686.3L92.2,685.8L93.8,684.1L89.8,686.5L93.8,688.9L92.2,687.2L96.8,686.7ZM109.1,686.3L104.5,685.8L106.1,684.1L102.1,686.5L106.1,688.9L104.5,687.2L109.1,686.7ZM121.9,686.3L116.4,685.8L118.2,683.9L113.9,686.5L118.2,689.1L116.4,687.2L121.9,686.7ZM133.2,686.3L129.4,685.8L130.9,684.2L127.2,686.5L130.9,688.7L129.4,687.2L133.2,686.7ZM118.1,699.7L118.6,697.5L119.7,698.8L117.9,695.7L116,698.8L117.2,697.5L117.7,699.7ZM167.2,700.2L167.7,697.2L169.1,698.6L167,695.2L165,698.6L166.3,697.2L166.8,700.2ZM178.4,700.5L180.3,697.2L181.1,699.2L180.5,694.9L177,697.5L179,696.7L178,700.4ZM190.7,700.5L192.6,697.2L193.4,699.2L192.8,694.9L189.3,697.5L191.3,696.7L190.3,700.4ZM67.7,707.1L68.1,709.2L66.5,708.5L69.4,710.7L70,707.1L69.4,708.7L68.1,706.9ZM118.1,711.4L118.6,708.4L119.9,709.8L117.9,706.4L115.8,709.8L117.2,708.4L117.7,711.4ZM166.1,711.7L168,708.4L168.8,710.3L168.2,706.1L164.7,708.6L166.7,707.9L165.7,711.5ZM178.4,711.7L180.3,708.4L181.1,710.3L180.5,706.1L177,708.6L179,707.9L178,711.5ZM190.9,711.2L192.4,708.7L193.2,710.5L192.6,706.5L189.4,708.9L191.2,708.2L190.5,711.1ZM81.2,722L81.7,719.9L82.8,721.1L81,718L79.1,721.1L80.3,719.9L80.8,722ZM118.1,722L118.6,719.9L119.7,721.1L117.9,718L116,721.1L117.2,719.9L117.7,722ZM167.2,722.5L167.7,719.6L169.1,720.9L167,717.5L165,720.9L166.3,719.6L166.8,722.5ZM178.2,717.8L178.9,720.7L177.1,720L180.3,722.3L180.9,718.4L180.2,720.2L178.6,717.7ZM189.7,718.4L191.5,720.9L189.5,720.8L193.4,721.8L192.4,718L192.4,719.9L190,718.1Z" fill="#111" stroke="#111" stroke-width="0.3" stroke-linejoin="round"/>
<g fill="#2fd62f"><circle cx="179.3" cy="522.4" r="1.3"/><circle cx="189.6" cy="522.4" r="1.3"/><circle cx="199.8" cy="522.4" r="1.3"/><circle cx="210.1" cy="522.4" r="1.3"/><circle cx="179.3" cy="531.7" r="1.3"/><circle cx="189.6" cy="531.7" r="1.3"/><circle cx="199.8" cy="531.7" r="1.3"/><circle cx="179.3" cy="550.3" r="1.3"/><circle cx="189.6" cy="550.3" r="1.3"/><circle cx="179.3" cy="559.6" r="1.3"/><circle cx="189.6" cy="559.6" r="1.3"/><circle cx="199.8" cy="559.6" r="1.3"/><circle cx="138.3" cy="597" r="1.3"/><circle cx="148.6" cy="597" r="1.3"/><circle cx="138.3" cy="606.3" r="1.3"/><circle cx="148.6" cy="606.3" r="1.3"/><circle cx="76.9" cy="615.6" r="1.3"/><circle cx="87.1" cy="615.6" r="1.3"/><circle cx="97.4" cy="615.6" r="1.3"/><circle cx="107.6" cy="615.6" r="1.3"/><circle cx="117.9" cy="615.6" r="1.3"/><circle cx="128.1" cy="615.6" r="1.3"/><circle cx="138.3" cy="615.6" r="1.3"/><circle cx="148.6" cy="615.6" r="1.3"/><circle cx="158.8" cy="615.6" r="1.3"/><circle cx="107.6" cy="624.9" r="1.3"/><circle cx="117.9" cy="624.9" r="1.3"/><circle cx="148.6" cy="624.9" r="1.3"/><circle cx="158.8" cy="624.9" r="1.3"/><circle cx="169.1" cy="624.9" r="1.3"/><circle cx="128.1" cy="652.9" r="1.3"/><circle cx="138.3" cy="652.9" r="1.3"/><circle cx="128.1" cy="662.2" r="1.3"/><circle cx="138.3" cy="662.2" r="1.3"/><circle cx="148.6" cy="662.2" r="1.3"/><circle cx="35.9" cy="680.9" r="1.3"/></g>
</g>
<rect x="202.3" y="708.3" width="38.6" height="18.8" fill="#fff" stroke="#4a4a4a" stroke-width="1"/>
<text x="204.3" y="722.6" class="t" style="font-size:12.5px">0.7</text>
<path d="M227.3,718L236,718" stroke="#222" stroke-width="1.2"/><path d="M239.3,718L234,715.6L235.2,718L234,720.4Z" fill="#222"/>
<rect x="36" y="522.6" width="205" height="204.6" fill="none" stroke="#4a4a4a" stroke-width="1.3"/>
<line x1="31.5" y1="541.0" x2="36" y2="541.0" stroke="#4a4a4a" stroke-width="1.2"/>
<text x="29" y="545.2" text-anchor="end" class="t">60°N</text>
<line x1="31.5" y1="615.6" x2="36" y2="615.6" stroke="#4a4a4a" stroke-width="1.2"/>
<text x="29" y="619.8" text-anchor="end" class="t">40°N</text>
<line x1="31.5" y1="690.2" x2="36" y2="690.2" stroke="#4a4a4a" stroke-width="1.2"/>
<text x="29" y="694.4" text-anchor="end" class="t">20°N</text>
<line x1="35.9" y1="727.2" x2="35.9" y2="731.7" stroke="#4a4a4a" stroke-width="1.2"/>
<text x="35.9" y="743.6" text-anchor="middle" class="t">100°E</text>
<line x1="138.3" y1="727.2" x2="138.3" y2="731.7" stroke="#4a4a4a" stroke-width="1.2"/>
<text x="138.3" y="743.6" text-anchor="middle" class="t">125°E</text>
<line x1="240.8" y1="727.2" x2="240.8" y2="731.7" stroke="#4a4a4a" stroke-width="1.2"/>
<text x="240.8" y="743.6" text-anchor="middle" class="t">150°E</text>
<text x="2.0" y="526" class="lab">(e)</text>
<clipPath id="frf"><rect x="307" y="522.5" width="205" height="204.6"/></clipPath>
<g clip-path="url(#frf)">
<rect x="301" y="515" width="215" height="215" fill="#eef7fc"/>
<path fill="#fffdf2" fill-rule="evenodd" d="M332.1,522.4 397.4,522.4 388.9,527 384.4,531.7 380.8,541 384.9,550.3 388.9,555 396.9,559.6 395.6,569 388.9,573.6 384.8,578.3 378.6,581.2 368.4,585.3 358.1,586.4 347.9,583 337.6,576.8 327.4,573.6 317.1,574 313.1,578.3 306.9,580.6 306.9,564.3 317.1,561.2 318.5,559.7 327.4,555 347.9,552.7 352.3,550.3 347.9,545.7 337.6,542.4 335.6,541 336.9,531.7 332.1,522.4ZM456.1,522.4 511.8,522.4 511.8,610.9 501.6,612.5 498.7,606.3 491.3,603.9 484.8,597 485,587.6 487.9,578.3 491.3,573.6 498.6,569 498.6,559.6 499.9,550.3 491.3,545.7 486.4,541 475.5,531.7 460.6,524.3 456.1,522.4ZM306.9,606.3 306.9,603.9 314,606.3 317.1,609.6 327.4,609.4 337.6,608.5 347.9,608.1 358.1,608.8 368.4,610.9 376.1,615.6 373.7,624.9 358.1,628.4 351,634.2 351.8,643.6 358.1,649.4 368.4,651.3 378.6,651.6 388.9,651.3 399.1,650.5 409.4,648.2 419.6,647.3 429.8,648.2 450.3,648.2 460.6,649.2 470.8,648.2 483.4,643.6 491.3,638.9 501.6,635.6 504.9,634.2 511.8,629.6 511.8,727.5 479.9,727.5 480.5,718.2 482.3,708.9 481.1,707.5 470.8,704.2 450.3,704.2 440.1,703.7 429.8,704.2 421.2,708.9 409.4,711.2 399.1,709.4 397.4,708.9 388.9,704.2 368.4,704.2 360.9,699.5 355.5,690.2 347.9,685.5 340.9,690.2 341.9,699.5 337.6,703.3 327.4,706.5 317.1,706.7 309.3,699.5 306.9,694.9 306.9,657.6 314.2,652.9 327.4,650.6 337.5,643.6 337,634.2 327.4,627.3 313.6,624.9 306.9,620.3 306.9,606.3Z"/>
<path fill="#fff5d8" fill-rule="evenodd" d="M342.3,522.4 379.7,522.4 378.6,523.7 374.4,531.7 368.4,536.3 358.1,538.3 347.9,536.3 344.2,531.7 342.3,522.4ZM466.2,522.4 511.8,522.4 511.8,536.3 501.6,541.4 491.3,536.3 485.7,531.7 466.2,522.4ZM362.3,550.3 368.4,545.7 375.7,550.3 384.5,569 378.6,575.9 375.4,578.3 368.4,580.6 358.1,580 354.7,578.3 347.9,573.6 339.8,569 336.3,559.6 347.9,557.3 358.1,553.5 362.3,550.3ZM495.1,578.3 501.6,573.4 511.8,571.3 511.8,604.7 501.6,603.9 491.3,599.3 489.1,597 489.2,587.6 491.3,583 495.1,578.3ZM327.4,615.6 337.6,612.6 347.9,611.9 358.1,613.6 362.8,615.6 358.1,620.9 347.9,621.8 337.6,621.1 327.4,615.6ZM497,643.6 511.8,636.6 511.8,706.5 501.6,702.6 500,699.5 491.3,698 481.1,695.4 470.8,687.1 460.6,686.4 450.3,687.9 440.1,687.7 429.8,685.5 419.6,685.6 409.4,687.9 404.4,690.2 399.1,694.9 388.9,697.2 378.6,697.7 368.4,694.9 364.5,690.2 358.1,683.9 353.6,680.9 347.9,676.2 339.6,671.5 347.9,666.9 361.2,662.2 368.4,657.6 378.6,655.1 388.9,654.5 399.1,654.5 409.4,655.2 419.6,658.5 423.7,662.2 429.8,666.9 450.3,664.6 460.6,665 470.8,662.2 477.6,652.9 491.3,645.9 497,643.6ZM310.3,690.2 317.1,682.9 327.4,685.5 331.4,690.2 331.9,699.5 327.4,701.9 317.1,702.3 314.1,699.5 310.3,690.2Z"/>
<path fill="#feeab0" fill-rule="evenodd" d="M478.1,522.4 511.8,522.4 511.8,527 501.6,530.4 478.1,522.4ZM354.6,569 358.1,565 368.4,564.3 374.7,569 368.4,573.6 358.1,571.4 354.6,569ZM503.7,578.3 511.8,576 511.8,601.6 501.6,601 494.1,597 494,587.6 501.6,579.1 503.7,578.3ZM507.1,643.6 511.8,641.2 511.8,701.9 508.2,699.5 501.6,697.4 491.3,694.9 482.5,690.2 481.1,688.8 470.8,680.9 460.6,681.4 450.3,683.2 439.1,680.9 441,671.5 450.3,669.2 460.6,670 470.8,668.4 476,662.2 481.1,657 487.2,652.9 491.3,650.6 501.6,645.7 507.1,643.6ZM372.8,662.2 378.6,659.4 388.9,657.6 399.1,657.8 409.4,659.9 413.8,662.2 419.6,670 421.8,671.5 416.2,680.9 409.4,683.2 399.1,687.6 394.2,690.2 388.9,692.5 378.6,692.5 373.8,690.2 368.4,685.5 358.1,675 353.9,671.5 372.8,662.2ZM317,690.2 317.5,690.2 317.1,690.6 317,690.2Z"/>
<path fill="#fdd98a" fill-rule="evenodd" d="M499.3,587.6 501.6,585.1 511.8,583 511.8,598.5 501.6,598 499.6,597 499.3,587.6ZM494.7,652.9 501.6,649.3 511.8,645.1 511.8,698 491.3,691.8 488.4,690.2 481.1,683 478.3,680.9 473.9,671.5 481.2,662.2 491.3,654.5 494.7,652.9ZM382.9,662.2 388.9,660.7 399.1,661 403.5,662.2 409.4,666.9 413.1,671.5 409.4,676.2 401.9,680.9 399.1,681.9 388.9,685.5 378.6,683.9 375.1,680.9 368.4,676.2 363.9,671.5 378.6,663.8 382.9,662.2Z"/>
<path fill="#fcc15a" fill-rule="evenodd" d="M501.6,652.9 511.8,648.2 511.8,694.9 501.6,692.6 494.7,690.2 491.3,687.9 484.1,680.9 480,671.5 481.1,670.3 485.3,662.2 491.3,657.6 501.6,652.9ZM372.3,671.5 378.6,668.1 388.9,664.6 399.1,666.1 405.7,671.5 399.1,676.4 388.9,678.5 378.6,676.4 372.3,671.5Z"/>
<path fill="#f9a43a" fill-rule="evenodd" d="M508.4,652.9 511.8,651.3 511.8,691.8 501.6,690.2 491.3,683.2 488.9,680.9 484.7,671.5 489.3,662.2 491.3,660.7 501.6,655.6 508.4,652.9ZM381.4,671.5 388.9,669.2 397.2,671.5 388.9,673.9 381.4,671.5Z"/>
<path fill="#f58a2f" fill-rule="evenodd" d="M494,662.2 501.6,658.4 511.8,655.2 511.8,687.9 501.6,686.1 494.2,680.9 491.3,676.2 489.1,671.5 491.3,666.9 494,662.2Z"/>
<path fill="#ef6f2d" fill-rule="evenodd" d="M499.3,662.2 501.6,661.1 511.8,659.9 511.8,683.2 501.6,682 500,680.9 494.3,671.5 499.3,662.2Z"/>
<path fill="#e4512e" fill-rule="evenodd" d="M500.3,671.5 501.6,669.1 511.8,671.5 501.6,673.6 500.3,671.5Z"/>
<path fill="#d3ebf7" fill-rule="evenodd" d="M315.7,522.4 318.6,522.4 327.4,527 330.6,531.7 327.4,536.3 321.5,541 317.1,548.8 316.8,550.3 306.9,557.8 306.9,527 315.7,522.4ZM392.8,531.7 399.1,527.3 409.4,524.2 419.6,523.7 440.1,523.5 450.3,524.7 460.6,529.1 465.8,531.7 476.2,541 481.1,548.7 482.8,550.3 485.1,559.6 485.1,569 481,578.3 480.2,597 481.1,599.8 485,606.3 484.8,615.6 481.1,621.7 478.7,624.9 470.8,629.6 460.6,632.7 456.8,634.2 450.3,638.9 440.1,641.7 429.8,642 409.4,638.9 403.7,643.6 399.1,645.6 388.9,648.2 378.6,648.9 368.4,648.2 359.3,643.6 357.1,634.2 358.1,633.4 368.4,628.4 384,624.9 388.9,620.3 409.4,615.6 399.1,609.7 396.2,606.3 388.9,603.9 378.6,598.4 376.7,597 372.5,587.6 388.9,579.9 393.1,578.3 399.1,573.8 409.4,571.3 429.8,571.3 437.1,569 437.2,559.6 429.8,555 409.4,555 399.1,552.4 395.7,550.3 394.5,541 392.8,531.7ZM306.9,587.6 306.9,585.3 317.1,582.8 327.4,583 337.6,587.4 347.9,592.3 354.9,597 347.9,601.6 337.6,603.6 327.4,603.9 317.1,602.8 306.9,599.3 306.9,587.6ZM306.9,634.2 306.9,627.3 317.1,628.7 327.4,631.9 330.6,634.2 330.8,643.6 327.4,645.9 317.1,649.1 306.9,650.6 306.9,634.2ZM306.9,718.2 306.9,713.5 317.1,714.5 337.6,712.8 347.9,713.5 356.2,718.2 358.1,719.8 368.4,722.8 378.6,724.7 379.2,727.5 313.9,727.5 306.9,722.8 306.9,718.2ZM379.8,718.2 388.9,713.5 399.1,715.2 409.4,715.8 429.8,711.2 440.1,711.2 450.3,713.5 459.8,718.2 461.8,727.5 419.5,727.5 409.4,722.8 399.1,722.1 388.9,722.8 379.8,718.2Z"/>
<path fill="#acd9f0" fill-rule="evenodd" d="M312.8,531.7 317.1,529 321.5,531.7 317.1,535.1 312.8,531.7ZM400.8,531.7 409.4,527.9 419.6,526.5 429.8,526.3 440.1,526.8 450.3,529.3 455.6,531.7 460.5,541 450.3,545.7 440.1,547.8 429.8,548.5 419.6,548.2 409.4,545.7 404.7,541 400.8,531.7ZM306.9,541 306.9,536.3 311.5,541 311.8,550.3 306.9,554.1 306.9,541ZM450.3,559.6 460.6,556 470.8,559.6 470.8,578.3 474.1,587.6 474,597 470.8,606.3 470.8,615.6 465.4,624.9 450.3,631.9 440.1,637.8 429.8,638.9 419.6,636 415.2,634.2 409.4,629.6 405.2,634.2 399.1,639.4 393.6,643.6 388.9,645.1 378.6,646.3 368.4,645.1 365.3,643.6 361.8,634.2 368.4,630.8 378.6,628.2 399.1,625.1 409.4,621.8 419.6,616.7 422.7,615.6 419.6,612.3 409.3,606.3 399.1,603.8 388.9,599.3 385.2,597 380.1,587.6 388.9,583 399.1,579.1 402.9,578.3 409.4,576 419.6,575.4 429.8,576 440.1,576.7 450.3,578.3 450.3,559.6ZM313,597 317.1,591.8 327.4,592.3 337.6,595.7 340.1,597 337.6,597.9 327.4,599.3 317.1,598.4 313,597ZM306.9,634.2 306.9,631.9 317.1,631.7 323.6,634.2 323.4,643.6 317.1,646 306.9,645.9 306.9,634.2ZM418.7,718.2 429.8,715.8 440.1,717.1 442.9,718.2 440.1,721.5 429.8,722.8 418.7,718.2Z"/>
<path fill="#8ccbed" fill-rule="evenodd" d="M409.4,531.7 419.6,529.4 429.8,529 440.1,530.2 444.9,531.7 444.7,541 440.1,543 429.8,544.7 419.6,543.6 414.2,541 409.4,531.7ZM386,587.6 388.9,586.1 399.1,581.7 409.4,579.5 419.6,579 429.8,579.6 440.1,582.4 447,587.6 443.5,597 440.1,600.2 429.8,603.9 419.6,604.4 409.4,603.6 399.1,600.8 391.8,597 386,587.6ZM414,624.9 419.6,621.8 429.8,617.9 440.1,617.5 450.3,620.3 455.2,624.9 450.3,627.3 440.1,633.5 438.2,634.2 429.8,635.8 425.3,634.2 414,624.9ZM366.2,634.2 368.4,633.1 378.6,630.4 388.9,629.6 397.6,634.2 388.9,641.2 378.6,643.7 377.9,643.6 368.4,638.9 366.2,634.2Z"/>
<path fill="#73b7e4" fill-rule="evenodd" d="M429.8,531.7 429.8,541 429.8,531.7ZM391.8,587.6 399.1,584.3 409.4,581.8 419.6,581.2 429.8,582.3 440.5,587.6 433.9,597 429.8,599.3 419.6,601.4 409.4,600.9 399.1,597.7 397.6,597 391.8,587.6ZM424.1,624.9 429.8,622.6 440.1,622.9 444.4,624.9 440.1,627.2 429.8,629.6 424.1,624.9ZM372.3,634.2 378.6,632.5 388.9,632.7 391.8,634.2 388.9,636.6 378.6,638.5 372.3,634.2Z"/>
<path fill="#64a6dc" fill-rule="evenodd" d="M397.7,587.6 399.1,587 409.4,584.1 419.6,583.5 429.8,585 435.1,587.6 429.8,593.8 424.5,597 419.6,598.4 409.4,598.3 405.2,597 399.1,589.9 397.7,587.6Z"/>
<path fill="#5592d0" fill-rule="evenodd" d="M405.3,587.6 409.4,586.5 419.6,585.7 429.8,587.6 419.6,593.3 409.4,592.3 405.3,587.6Z"/>
<path d="M306.9,605.9 314.3,606.3 319.2,608.5 324.5,609.3 327.5,608.6 331.5,607.8 336.3,606.9 341.1,606.7 347.5,606.1 350,604.9 354,602.9 354.8,601.2 353.6,600 355.6,597.2 358.8,596.7 361.2,597.6 365.2,596.7 369.6,595.5 372.1,593.7 376.7,591.9 381.3,591.2 385.4,590.5 387.3,589.5 385,588.2 382.7,586.3 379.9,586.6 376.7,587.3 372.1,586.8 371.2,585.4 373.1,582.6 374.9,580.2 377.7,581.2 381.3,580.2 385.4,577.9 387.7,575.6 390.4,571.9 390.4,570 389.1,568.6 391.8,567.2 397.8,566.3 403.3,565.5 409.1,566.5 412.7,567.7 415.4,570 416.8,573.8 418.7,577.5 421.4,579.8 425.5,580.7 428.7,581.6 431.5,583 432.9,586.3 436.5,587.3 441.1,586.3 445.7,585.4 448.4,584.9 449.3,586.8 448.4,589.1 445.7,592.3 443,596.1 440.2,597 436.5,596.5 434.3,598.9 435.2,602.6 433.8,605.4M433.8,605.4 431.4,606.3 426,607.7 422.3,609.1 419.5,610.5 415.8,610.5 412.2,612.3 409.1,614.2 405.3,616.3 402.5,617.5 399.1,618.9 394.5,619.9 393.5,620.3 394.5,617.1 396.8,615.2 396.3,613.3 394.5,612.5 389.9,614.3 386.7,616.6 383,618.5 379.8,619.4 378.9,621.3 380.3,622.7 383.9,623.2 384.8,625 386.7,626.4 389,625.9 391.3,623.2 393.1,623.8 395.4,625.4 397.7,625.4 399.5,626.4 398.6,627.3 396.3,627.3 394,628.2 391.3,629.6 389,631 386.7,633.4 386.2,634.5 387.4,636.5 389.8,637.9 391.6,639.9 393.3,642.7 395.7,644.8 396.7,647 396.7,648.4 396,649.4 398.4,650.8 398.7,651.8 397,653.9 395.7,656 394.3,658.8 391.9,660.9 390.2,663.7 388.1,665.7 386.8,668.5 384.3,670.6 381.9,672.8 378.5,674.8 375,676.9 373.7,678 369.8,679.1 365.3,679.7 360.6,682 356.5,684.1 352.3,685.2 349.6,686.6 349,689 347.2,687.3 346.1,685.2 344.1,683.8 342.1,683.1 339.3,683.4 335.9,682.4 334.5,680.6 333.1,679.2 330.4,678.2 327.7,677.8M339.3,683.4 335.9,682.4 334.5,680.6 333.1,679.2 330.4,678.2 327.7,677.8 325.3,679.8 322.9,680.9 319.2,680.9 317.1,680.1 315.5,681.2 313.9,680.9 313.5,683.1 311.8,685.4 310.2,684.6 307.7,684.6 306.9,684.2M433.8,605.4 429.4,604.8 427.4,606.6 423.7,608.1 421.6,608.5 418,609.6 415.5,610.4 411.8,612.6 407.3,615.6M407.3,615.6 408.5,617.1 411,617.5 410.2,620.8 408.9,622.7 411.8,624.2 415.9,624.9 415.5,628.3 415.5,632.4 415.1,635.7 419.6,635.7 424.1,634.6 427,633.5 427.8,630.5 427.4,626.8 425.3,623.8 422.9,620.8 419.6,617.8 421.2,616 424.1,614.5 428.6,612.6 429,610.4 432.7,607 434.8,605.9 439.3,603.7 443,605.2 450.7,602.5 457.7,598.1 462.2,594.7 465.5,591.4 470.4,585.8 472.5,582.4 472.9,578.3 473.3,573.8 476.1,570.1 476.6,567.1 472.9,565.2 468.8,563.8 464.7,563.4 462.6,562.3 463,559.6 459.3,560.4 455.2,561.1 452,560.4 456.5,557.4 461.4,554.1 465.5,551.1 472.9,547 481.5,542.9 491.3,542.1 501.6,541.4 513.8,541.4M342.1,683.1 339.3,684.6 335.6,686.5 333.9,689.1 330.3,692.4 330.7,695 333.5,698.8 336.4,701.8 340.5,704.7 343,707.7 344.6,712.6 345.4,716.3 344.6,720 343,722.7 337.6,724.9 334.8,726 333.9,729.4M304.9,714.4 308.9,714.4 311,717.4 315.9,719.3 318.4,721.5 320,724.5 323.3,725.6 325.8,726.4 327.4,729.4M342.4,692.5 345.5,690.4 351,689.7 352,691.5 350.3,693.9 346.9,696.7 343.4,696 342.1,694.6 342.4,692.5M392.7,671.5 396.2,671 396.8,673.3 394.5,678.6 392.1,682.6 389.9,679.1 389.3,676.2 392.7,671.5M479,562.3 481.9,562.3 483.9,567.1 483.5,572.7 485.2,580.9 488.4,582 483.9,582.4 481.5,586.5 483.1,591 481.1,591.4 479.8,593.2 478.6,593.6 479,589.5 479.8,582 479.4,574.6 477.8,569 479,562.3M477.8,595.5 481.1,598.1 486.4,600.3 492.5,599.6 492.9,603.3 487.2,604.8 484.3,608.1 477.8,605.9 474.5,610 471.2,609.6 471.6,607 470,605.9 472.5,603.3 476.6,603.3 477.8,599.6 477.8,595.5M475.7,611.1 477.4,614.1 479,617.1 477,621.9 474.5,626 473.3,629.4 474.1,631.6 470,634.6 466.3,635.7 460.6,635.4 457.7,636.1 455.2,639.8 452,639.5 450.7,636.1 444.2,636.5 438.4,638.4 433.5,638 436,635.7 441.3,632.4 448.3,632 454.4,631.3 457.7,625.7 460.2,626.8 464.7,624.6 469.2,621.9 470.8,617.5 470.8,614.5 472.5,611.1 475.7,611.1M433.5,638.4 436.8,641 436,646.6 433.9,648.4 430.7,648.1 430.7,643.9 428.6,641.7 429.4,639.5 433.5,638.4M438,641.7 442.1,640.2 447.5,640.6 448.7,637.2 444.2,636.5 439.3,638.4 438,641.7M391.3,695.8 397.9,695.8 397.1,701.4 395.4,705.5 395.8,711.8 401.2,713 405.3,717.8 402.4,716.3 399.1,713.3 395,714.1 391.3,711.8 392.5,705.9 390.1,703.3 391.3,695.8M390.1,714.4 395,715.9 393.8,719.3 390.9,717.8 390.1,714.4M406.5,718.2 412.2,719.3 411,723.8 408.9,722.7 406.5,718.2M406.9,721.9 409.4,723 410.2,727.1 407.7,726.8 406.9,721.9M397.1,720.8 401.6,721.9 399.5,725.6 396.6,725.3 397.1,720.8M401.2,723.8 403.2,725.6 402,729.4 399.1,727.5 401.2,723.8M404.8,722.7 405.7,725.6 402.8,729.4 404.8,722.7M388,721.9 386.8,726.4 380.7,731.2 377.8,733.1 382.7,727.5 386,722.7 388,721.9M322.5,572.7 325.8,572.3 329,570.8 332.7,569 336.8,566.7 340.9,564.9 344.2,562.3 346.2,558.9 346.7,556.7 345,557 342.1,560 338,563.4 333.9,565.6 329.8,567.9 325.3,570.5 322.5,572 322.5,572.7" fill="none" stroke="#7c7c7c" stroke-width="1.05" stroke-linejoin="round"/>
<path d="M306.9,632 313,630.9 320.8,629.8 324.9,627.2 327.9,625.2 330.7,624 333.9,621.1 334.7,616.3 337.1,613.5 341.1,612.7 345.9,614.3 350.8,614.7 353.6,616.3 353.1,619.5 350.4,622.8 350,626.9 349.2,631 350,635 355.6,634.2 360.4,633.8 366,633.4 369.6,632.6 376.4,628.2 380.6,625.4 384.3,624.3M306.9,634.6 311.8,636.5 315.9,638.7 316.7,640.2 313,639.5 306.9,638.7M306.9,660.7 309.4,664.8 312.2,667.8 314.3,668.2 318,664.1 321.7,660.4 324.9,657 327.9,657.6 331.5,657.2 335.6,655.2 339.5,652.4 342.7,649.9 347.5,649.1 352.3,650.7 357.1,652.8 360.4,655.2 363.6,653.2 366.7,650.7 369.6,651.9 373.7,652.8 377.8,650.4 381.2,648.4 384,645.5 386.8,644.8 388,644.9 393,646.2" fill="none" stroke="#22d3e6" stroke-width="1.3"/>
<path d="M400.5,552.2h1.4M339,563.4h1.4M412.7,563.4h1.4M425,563.4h1.4M461.9,563.4h1.4M474.2,563.4h1.4M486.5,563.4h1.4M498.8,563.4h1.4M511.1,563.4h1.4M326.7,574.6h1.4M388.2,574.6h1.4M412.7,574.6h1.4M425,574.6h1.4M474.2,574.6h1.4M486.5,574.6h1.4M511.1,574.6h1.4M314.4,585.8h1.4M326.7,585.8h1.4M339,585.8h1.4M388.2,585.8h1.4M412.7,585.8h1.4M425,585.8h1.4M437.3,585.8h1.4M449.6,585.8h1.4M486.5,585.8h1.4M314.4,597h1.4M326.7,597h1.4M339,597h1.4M425,597h1.4M314.4,608.1h1.4M326.7,608.1h1.4M339,608.1h1.4M351.3,608.1h1.4M412.7,608.1h1.4M314.4,619.3h1.4M326.7,619.3h1.4M351.3,619.3h1.4M363.6,619.3h1.4M314.4,630.5h1.4M339,630.5h1.4M486.5,664.1h1.4M351.3,708.9h1.4M400.5,708.9h1.4M486.5,708.9h1.4M498.8,708.9h1.4M511.1,708.9h1.4M363.6,720h1.4M388.2,720h1.4M400.5,720h1.4M474.2,720h1.4M486.5,720h1.4M498.8,720h1.4M511.1,720h1.4" stroke="#555050" stroke-width="1.1" fill="none"/>
<path d="M316.3,528.2L314.3,529.7L314.5,528.5L313.7,531.2L316.4,530.4L315.2,530.6L316.7,528.6ZM328.6,528.2L326.6,529.7L326.8,528.5L326,531.2L328.7,530.4L327.5,530.6L329,528.6ZM340.9,528.2L338.9,529.7L339.1,528.5L338.3,531.2L341,530.4L339.8,530.6L341.3,528.6ZM353.2,528.2L351.2,529.7L351.4,528.5L350.6,531.2L353.3,530.4L352,530.6L353.6,528.6ZM365.5,528.2L363.5,529.7L363.7,528.5L362.9,531.2L365.5,530.4L364.3,530.6L365.9,528.6ZM377.8,528.2L375.8,529.7L376,528.5L375.2,531.2L377.8,530.4L376.6,530.6L378.2,528.6ZM390.1,528.2L388.1,529.7L388.3,528.5L387.4,531.2L390.1,530.4L388.9,530.6L390.5,528.6ZM402.4,528.2L400.4,529.7L400.6,528.5L399.7,531.2L402.4,530.4L401.2,530.6L402.7,528.6ZM415.4,531.4L413.3,528.8L414.7,529L411.7,528L412.6,531.1L412.4,529.7L415,531.8ZM428,531.8L425.4,528.6L427,528.7L423.6,527.7L424.7,531L424.5,529.4L427.7,532.1ZM440.3,531.8L437.7,528.6L439.2,528.7L435.9,527.7L437,531L436.8,529.4L440,532.1ZM452.6,531.8L449.9,528.6L451.5,528.7L448.2,527.7L449.3,531L449.1,529.4L452.3,532.1ZM464.9,531.8L462.2,528.6L463.8,528.7L460.5,527.7L461.6,531L461.4,529.4L464.6,532.1ZM477.2,531.8L474.5,528.6L476.1,528.7L472.8,527.7L473.8,531L473.7,529.4L476.9,532.1ZM488.8,531L487.3,529L488.5,529.2L485.8,528.4L486.6,531.1L486.4,529.9L488.4,531.4ZM501.5,529.6L499,529.2L500,528.5L497.5,529.8L500,531.1L499,530.4L501.5,530.1ZM513.3,529.6L511.6,529.2L512.5,528.7L510.3,529.8L512.5,531L511.6,530.4L513.3,530.1ZM316.7,539.1L314.1,541.2L314.3,539.8L313.3,542.8L316.3,541.8L314.9,542L317,539.4ZM329,539.1L326.4,541.2L326.6,539.8L325.6,542.8L328.6,541.8L327.2,542L329.3,539.4ZM341.3,539.1L338.7,541.2L338.9,539.8L337.9,542.8L340.9,541.8L339.5,542L341.6,539.4ZM353.6,539.1L351,541.2L351.2,539.8L350.2,542.8L353.2,541.8L351.8,542L353.9,539.4ZM365.9,539.1L363.3,541.2L363.5,539.8L362.5,542.8L365.5,541.8L364.1,542L366.2,539.4ZM378.2,539.1L375.6,541.2L375.7,539.8L374.8,542.8L377.8,541.8L376.4,542L378.5,539.4ZM390.5,539.1L387.9,541.2L388,539.8L387.1,542.8L390.1,541.8L388.7,542L390.8,539.4ZM403.7,540.8L400.3,540.4L401.5,539.5L398.7,541L401.5,542.5L400.3,541.6L403.7,541.2ZM415.7,542.9L413.1,539.8L414.7,539.9L411.3,538.9L412.4,542.2L412.2,540.6L415.4,543.3ZM428.4,543.3L425.1,539.5L426.9,539.7L423.3,538.5L424.4,542.2L424.3,540.4L428,543.7ZM440.7,543.3L437.4,539.5L439.2,539.7L435.6,538.5L436.7,542.2L436.6,540.4L440.3,543.7ZM453,543.3L449.7,539.5L451.5,539.7L447.9,538.5L449,542.2L448.9,540.4L452.6,543.7ZM465.3,543.3L462,539.5L463.8,539.7L460.1,538.5L461.3,542.2L461.2,540.4L464.9,543.7ZM476.9,542.6L474.8,540L476.2,540.2L473.2,539.2L474.1,542.2L473.9,540.8L476.5,542.9ZM489.2,540.8L486.7,540.4L487.7,539.7L485.2,541L487.7,542.3L486.7,541.6L489.2,541.2ZM501.5,540.8L499,540.4L500,539.7L497.5,541L500,542.3L499,541.6L501.5,541.2ZM513.8,540.8L511.3,540.4L512.3,539.7L509.8,541L512.3,542.3L511.3,541.6L513.8,541.2ZM316.7,550.2L314.1,552.3L314.3,550.9L313.3,554L316.3,553L314.9,553.2L317,550.6ZM329,550.2L326.4,552.3L326.6,550.9L325.6,554L328.6,553L327.2,553.2L329.3,550.6ZM340.9,550.6L338.9,552.1L339.1,550.9L338.3,553.6L341,552.8L339.8,553L341.3,551ZM353.6,550.2L351,552.3L351.2,550.9L350.2,554L353.2,553L351.8,553.2L353.9,550.6ZM365.5,550.6L363.5,552.1L363.7,550.9L362.9,553.6L365.5,552.8L364.3,553L365.9,551ZM377.8,550.6L375.8,552.1L376,550.9L375.2,553.6L377.8,552.8L376.6,553L378.2,551ZM390.9,551.9L388.4,551.6L389.4,550.9L386.9,552.2L389.4,553.5L388.4,552.8L390.9,552.4ZM415,553.4L413.5,551.4L414.7,551.6L412,550.8L412.9,553.5L412.7,552.3L414.7,553.8ZM427.7,553.8L425.6,551.2L427,551.4L424,550.4L424.9,553.4L424.7,552L427.3,554.1ZM440.3,554.1L437.7,551L439.2,551.1L435.9,550.1L437,553.4L436.8,551.8L440,554.5ZM452.6,554.1L449.9,551L451.5,551.1L448.2,550.1L449.3,553.4L449.1,551.8L452.3,554.5ZM464.6,553.8L462.5,551.2L463.9,551.4L460.9,550.4L461.8,553.4L461.6,552L464.2,554.1ZM476.9,551.9L474.4,551.6L475.4,550.9L472.9,552.2L475.4,553.5L474.4,552.8L476.9,552.4ZM489.2,551.9L486.7,551.6L487.7,550.9L485.2,552.2L487.7,553.5L486.7,552.8L489.2,552.4ZM501,551.9L499.3,551.6L500.2,551L498,552.2L500.2,553.3L499.3,552.8L501,552.4ZM513.3,551.9L511.6,551.6L512.5,551L510.3,552.2L512.5,553.3L511.6,552.8L513.3,552.4ZM313.5,562.1L315,564.2L313.8,563.9L316.5,564.8L315.7,562.1L315.9,563.3L313.9,561.8ZM325.8,562.1L327.3,564.2L326.1,563.9L328.8,564.8L328,562.1L328.2,563.3L326.2,561.8ZM350.4,562.1L351.9,564.2L350.7,563.9L353.4,564.8L352.5,562.1L352.8,563.3L350.7,561.8ZM362.7,562.1L364.2,564.2L363,563.9L365.7,564.8L364.8,562.1L365,563.3L363,561.8ZM375,562.1L376.5,564.2L375.3,563.9L378,564.8L377.1,562.1L377.3,563.3L375.3,561.8ZM387.3,562.1L388.8,564.2L387.6,563.9L390.3,564.8L389.4,562.1L389.6,563.3L387.6,561.8ZM399.9,562.5L400.9,563.9L399.9,563.7L402.2,564.4L401.5,562.1L401.7,563.1L400.3,562.1ZM436.8,562.5L437.7,563.9L436.7,563.7L439.1,564.4L438.3,562.1L438.6,563.1L437.2,562.1ZM449.1,562.5L450,563.9L449,563.7L451.4,564.4L450.6,562.1L450.9,563.1L449.4,562.1ZM313.9,573.7L314.8,575.1L313.8,574.9L316.2,575.6L315.4,573.3L315.6,574.3L314.2,573.3ZM338.4,573.7L339.4,575.1L338.4,574.9L340.7,575.6L340,573.3L340.2,574.3L338.8,573.3ZM350.4,573.3L351.9,575.3L350.7,575.1L353.4,576L352.5,573.3L352.8,574.5L350.7,573ZM362.7,573.3L364.2,575.3L363,575.1L365.7,576L364.8,573.3L365,574.5L363,573ZM375,573.3L376.5,575.3L375.3,575.1L378,576L377.1,573.3L377.3,574.5L375.3,573ZM400.9,572.6L400.6,575.1L399.9,574.1L401.2,576.6L402.5,574.1L401.8,575.1L401.4,572.6ZM436.8,573.7L437.7,575.1L436.7,574.9L439.1,575.6L438.3,573.3L438.6,574.3L437.2,573.3ZM449.1,573.7L450,575.1L449,574.9L451.4,575.6L450.6,573.3L450.9,574.3L449.4,573.3ZM461.7,575.8L463.2,574.9L462.9,575.9L463.7,573.5L461.3,574.3L462.3,574L461.4,575.5ZM498.6,575.8L500.1,574.9L499.8,575.9L500.6,573.5L498.2,574.3L499.2,574L498.3,575.5ZM350.4,584.5L351.9,586.5L350.7,586.3L353.4,587.2L352.5,584.5L352.8,585.7L350.7,584.2ZM362.7,584.5L364.2,586.5L363,586.3L365.7,587.2L364.8,584.5L365,585.7L363,584.2ZM375,584.5L376.5,586.5L375.3,586.3L378,587.2L377.1,584.5L377.3,585.7L375.3,584.2ZM400.9,583.8L400.6,586.3L399.9,585.3L401.2,587.8L402.5,585.3L401.8,586.3L401.4,583.8ZM461.4,587.4L463.4,585.8L463.2,587L464,584.3L461.4,585.2L462.6,585L461,587ZM473.7,587.4L475.7,585.8L475.5,587L476.3,584.3L473.6,585.2L474.8,585L473.3,587ZM498.6,587L500.1,586.1L499.8,587.1L500.6,584.7L498.2,585.4L499.2,585.2L498.3,586.6ZM510.9,587L512.4,586.1L512.1,587.1L512.9,584.7L510.5,585.4L511.5,585.2L510.6,586.6ZM350.7,596.1L351.7,597.5L350.7,597.3L353,598L352.3,595.6L352.5,596.7L351.1,595.7ZM362.7,595.7L364.2,597.7L363,597.5L365.7,598.4L364.8,595.7L365,596.9L363,595.4ZM375,595.7L376.5,597.7L375.3,597.5L378,598.4L377.1,595.7L377.3,596.9L375.3,595.4ZM387.3,595.7L388.8,597.7L387.6,597.5L390.3,598.4L389.4,595.7L389.6,596.9L387.6,595.4ZM399.6,595.7L401.1,597.7L399.9,597.5L402.6,598.4L401.7,595.7L401.9,596.9L399.9,595.4ZM411.9,597.2L413.6,597.6L412.7,598.1L414.9,597L412.7,595.8L413.6,596.4L411.9,596.7ZM438.9,595.7L437.5,596.7L437.7,595.6L437,598L439.3,597.3L438.3,597.5L439.3,596.1ZM449.4,598.2L450.9,597.2L450.6,598.3L451.4,595.9L449,596.6L450,596.4L449.1,597.8ZM461.4,598.5L463.4,597L463.2,598.2L464,595.5L461.4,596.4L462.6,596.2L461,598.2ZM473.7,598.5L475.7,597L475.5,598.2L476.3,595.5L473.6,596.4L474.8,596.2L473.3,598.2ZM486,598.5L488,597L487.8,598.2L488.6,595.5L485.9,596.4L487.1,596.2L485.6,598.2ZM497.9,598.9L500.5,596.8L500.3,598.2L501.3,595.2L498.3,596.1L499.7,595.9L497.6,598.5ZM509.9,599.2L513,596.6L512.9,598.2L513.9,594.8L510.6,595.9L512.2,595.7L509.5,598.9ZM364,606.6L363.7,608.3L363.1,607.4L364.3,609.6L365.4,607.4L364.9,608.3L364.5,606.6ZM375,606.9L376.5,608.9L375.3,608.7L378,609.6L377.1,606.9L377.3,608.1L375.3,606.5ZM387.3,606.9L388.8,608.9L387.6,608.7L390.3,609.6L389.4,606.9L389.6,608.1L387.6,606.5ZM399.6,606.9L401.1,608.9L399.9,608.7L402.6,609.6L401.7,606.9L401.9,608.1L399.9,606.5ZM424.9,609.4L426.3,608.4L426.1,609.4L426.8,607.1L424.4,607.8L425.4,607.6L424.5,609ZM437.2,609.4L438.6,608.4L438.3,609.4L439.1,607.1L436.7,607.8L437.7,607.6L436.8,609ZM449.1,609.7L451.1,608.2L450.9,609.4L451.7,606.7L449.1,607.6L450.3,607.4L448.7,609.4ZM461.4,609.7L463.4,608.2L463.2,609.4L464,606.7L461.4,607.6L462.6,607.4L461,609.4ZM473.7,609.7L475.7,608.2L475.5,609.4L476.3,606.7L473.6,607.6L474.8,607.4L473.3,609.4ZM486,609.7L488,608.2L487.8,609.4L488.6,606.7L485.9,607.6L487.1,607.4L485.6,609.4ZM498.3,609.7L500.3,608.2L500.1,609.4L500.9,606.7L498.2,607.6L499.4,607.4L497.9,609.4ZM510.6,609.7L512.6,608.2L512.4,609.4L513.2,606.7L510.5,607.6L511.7,607.4L510.2,609.4ZM338.2,619.6L339.9,619.9L339,620.5L341.2,619.3L339,618.2L339.9,618.7L338.2,619.1ZM375.1,619.6L376.7,619.9L375.9,620.5L378.1,619.3L375.9,618.2L376.7,618.7L375.1,619.1ZM387.4,619.6L389,619.9L388.2,620.5L390.4,619.3L388.2,618.2L389,618.7L387.4,619.1ZM399.2,619.6L401.7,619.9L400.7,620.6L403.2,619.3L400.7,618L401.7,618.7L399.2,619.1ZM411.4,619.6L413.9,619.9L412.9,620.6L415.4,619.3L412.9,618L413.9,618.7L411.4,619.1ZM424.5,620.9L426.5,619.4L426.3,620.6L427.2,617.9L424.5,618.8L425.7,618.6L424.2,620.6ZM436.8,620.9L438.8,619.4L438.6,620.6L439.5,617.9L436.8,618.8L438,618.6L436.4,620.6ZM449.1,620.9L451.1,619.4L450.9,620.6L451.7,617.9L449.1,618.8L450.3,618.6L448.7,620.6ZM461,621.3L463.6,619.2L463.4,620.6L464.4,617.6L461.4,618.5L462.8,618.3L460.7,620.9ZM472.4,619.6L475.7,619.9L474.6,620.8L477.4,619.3L474.6,617.9L475.7,618.7L472.4,619.1ZM484.2,619.6L488.4,619.9L487.1,620.9L490.2,619.3L487.1,617.7L488.4,618.7L484.2,619.1ZM496,619.6L501,619.9L499.6,621.1L503,619.3L499.6,617.6L501,618.7L496,619.1ZM508.8,619.6L512.9,619.9L511.7,620.9L514.8,619.3L511.7,617.7L512.9,618.7L508.8,619.1ZM325.9,630.8L327.6,631.1L326.7,631.7L328.9,630.5L326.7,629.4L327.6,629.9L325.9,630.3ZM350,630.8L352.5,631.1L351.5,631.8L354,630.5L351.5,629.2L352.5,629.9L350,630.3ZM361.8,630.8L365.1,631.1L364,632L366.8,630.5L364,629.1L365.1,629.9L361.8,630.3ZM373.6,630.8L377.7,631.1L376.5,632.1L379.6,630.5L376.5,628.9L377.7,629.9L373.6,630.3ZM385.4,630.8L390.3,631.1L389,632.3L392.4,630.5L389,628.8L390.3,629.9L385.4,630.3ZM313.1,642L315.6,642.3L314.6,643L317.1,641.7L314.6,640.4L315.6,641.1L313.1,641.5ZM325.9,642L327.6,642.3L326.7,642.9L328.9,641.7L326.7,640.6L327.6,641.1L325.9,641.5ZM337.7,642L340.2,642.3L339.2,643L341.7,641.7L339.2,640.4L340.2,641.1L337.7,641.5ZM349.8,642.9L353,642L352.3,643.2L354.3,640.8L351.1,640.5L352.5,640.8L349.6,642.4ZM360.8,642L365.7,642.3L364.4,643.5L367.8,641.7L364.4,639.9L365.7,641.1L360.8,641.5ZM372.6,642L378.3,642.3L376.9,643.6L380.6,641.7L376.9,639.8L378.3,641.1L372.6,641.5ZM384.4,642L391,642.3L389.4,643.8L393.4,641.7L389.4,639.6L391,641.1L384.4,641.5ZM494,642L502.5,642.3L500.8,643.9L505,641.7L500.8,639.5L502.5,641.1L494,641.5ZM506.8,642L514.3,642.3L512.6,643.9L516.8,641.7L512.6,639.5L514.3,641.1L506.8,641.5ZM313.6,653.1L315.3,653.5L314.4,654L316.6,652.9L314.4,651.8L315.3,652.3L313.6,652.6ZM326.2,654.5L328.2,653L328,654.2L328.8,651.5L326.1,652.3L327.3,652.1L325.8,654.1ZM338.1,654.8L340.7,652.7L340.5,654.1L341.5,651.1L338.4,652.1L339.8,651.9L337.7,654.5ZM350,655.2L353.2,652.5L353,654.1L354.1,650.8L350.8,651.8L352.4,651.7L349.7,654.8ZM362,655.6L365.7,652.3L365.6,654.1L366.7,650.4L363.1,651.6L364.9,651.4L361.6,655.2ZM374.3,655.6L378,652.3L377.9,654.1L379,650.4L375.4,651.6L377.2,651.4L373.9,655.2ZM386.2,655.9L390.5,652.1L390.4,654L391.7,650.1L387.7,651.3L389.7,651.2L385.9,655.6ZM396.2,653.1L403.6,653.5L402,655.1L406.2,652.9L402,650.7L403.6,652.3L396.2,652.6ZM408,655.4L416.9,652.1L415.9,654.2L419,650.6L414.3,650.2L416.4,651L407.8,655ZM420.3,655.4L429.2,652.1L428.2,654.2L431.3,650.6L426.6,650.2L428.7,651L420.1,655ZM432,653.1L441.5,653.5L439.8,655.1L444,652.9L439.8,650.7L441.5,652.3L432,652.6ZM444.3,653.1L453.8,653.5L452.1,655.1L456.3,652.9L452.1,650.7L453.8,652.3L444.3,652.6ZM456.6,653.1L466.1,653.5L464.4,655.1L468.6,652.9L464.4,650.7L466.1,652.3L456.6,652.6ZM469.9,653.1L477.4,653.5L475.7,655.1L479.9,652.9L475.7,650.7L477.4,652.3L469.9,652.6ZM482.7,653.1L489.3,653.5L487.7,655L491.7,652.9L487.7,650.8L489.3,652.3L482.7,652.6ZM495.5,653.1L501.3,653.5L499.8,654.8L503.5,652.9L499.8,651L501.3,652.3L495.5,652.6ZM508.3,653.1L513.3,653.5L511.9,654.7L515.3,652.9L511.9,651.1L513.3,652.3L508.3,652.6ZM314.2,665.3L315.6,664.4L315.4,665.4L316.2,663L313.8,663.8L314.8,663.5L313.9,665ZM325.8,666L328.4,663.9L328.2,665.3L329.2,662.3L326.1,663.3L327.5,663.1L325.4,665.7ZM338.1,666L340.7,663.9L340.5,665.3L341.5,662.3L338.4,663.3L339.8,663.1L337.7,665.7ZM352.2,667.1L352.6,663L353.6,664.2L352,661.1L350.4,664.2L351.4,663L351.7,667.1ZM362.3,666.4L365.5,663.7L365.3,665.3L366.4,662L363.1,663L364.7,662.9L362,666ZM374.6,666.4L377.8,663.7L377.6,665.3L378.7,662L375.4,663L376.9,662.9L374.3,666ZM389.1,666.6L389.5,663.3L390.3,664.4L388.9,661.6L387.4,664.4L388.3,663.3L388.6,666.6ZM399.2,666.4L402.4,663.7L402.2,665.3L403.3,662L399.9,663L401.5,662.9L398.9,666ZM411.5,666.4L414.7,663.7L414.5,665.3L415.6,662L412.2,663L413.8,662.9L411.1,666ZM423.8,666.4L427,663.7L426.8,665.3L427.9,662L424.5,663L426.1,662.9L423.4,666ZM436.1,666.4L439.3,663.7L439.1,665.3L440.2,662L436.8,663L438.4,662.9L435.7,666ZM448.7,666L451.3,663.9L451.1,665.3L452.1,662.3L449.1,663.3L450.5,663.1L448.4,665.7ZM461.4,665.7L463.4,664.2L463.2,665.4L464,662.7L461.4,663.5L462.6,663.3L461,665.3ZM473.4,664.3L475.1,664.7L474.2,665.2L476.4,664.1L474.2,662.9L475.1,663.5L473.4,663.8ZM500.7,662.5L498.7,664L498.9,662.8L498.1,665.5L500.8,664.7L499.6,664.9L501.1,662.9ZM513.8,663.8L511.3,663.5L512.3,662.8L509.8,664.1L512.3,665.4L511.3,664.7L513.8,664.3ZM313.1,675.5L315.6,675.9L314.6,676.6L317.1,675.3L314.6,674L315.6,674.7L313.1,675ZM325.4,675.5L327.9,675.9L326.9,676.6L329.4,675.3L326.9,674L327.9,674.7L325.4,675ZM338.4,676.9L340.5,675.4L340.2,676.6L341.1,673.9L338.4,674.7L339.6,674.5L338.1,676.5ZM350.4,677.2L353,675.1L352.8,676.5L353.7,673.5L350.7,674.5L352.1,674.3L350,676.9ZM362.7,677.2L365.3,675.1L365.1,676.5L366,673.5L363,674.5L364.4,674.3L362.3,676.9ZM375.3,676.9L377.3,675.4L377.1,676.6L378,673.9L375.3,674.7L376.5,674.5L375,676.5ZM387.6,676.9L389.6,675.4L389.4,676.6L390.3,673.9L387.6,674.7L388.8,674.5L387.3,676.5ZM399.7,675.5L401.3,675.9L400.5,676.4L402.7,675.3L400.5,674.1L401.3,674.7L399.7,675ZM416.8,676.4L412.3,674.2L414,673.6L410.2,673.9L412.7,676.9L411.9,675.3L416.6,676.9ZM429.5,676.6L424.3,674L426.2,673.4L422,673.7L424.7,676.9L423.9,675.2L429.3,677ZM441.8,676.6L436.6,674L438.5,673.4L434.3,673.7L437,676.9L436.2,675.2L441.6,677ZM478.9,675L473.1,674.7L474.6,673.4L470.9,675.3L474.6,677.2L473.1,675.9L478.9,675.5ZM491.3,673.3L485,675.5L486,673.5L483.1,677L487.5,677.4L485.5,676.6L491.5,673.8ZM502.5,671.9L497.6,676.3L497.7,674.2L496.3,678.5L500.6,677.1L498.4,677.2L502.9,672.3ZM313.1,686.7L315.6,687.1L314.6,687.8L317.1,686.5L314.6,685.2L315.6,685.9L313.1,686.2ZM325.4,686.7L327.9,687.1L326.9,687.8L329.4,686.5L326.9,685.2L327.9,685.9L325.4,686.2ZM337.7,686.7L340.2,687.1L339.2,687.8L341.7,686.5L339.2,685.2L340.2,685.9L337.7,686.2ZM350,686.7L352.5,687.1L351.5,687.8L354,686.5L351.5,685.2L352.5,685.9L350,686.2ZM361.8,686.7L365.1,687.1L364,687.9L366.8,686.5L364,685L365.1,685.9L361.8,686.2ZM374.1,686.7L377.4,687.1L376.3,687.9L379.1,686.5L376.3,685L377.4,685.9L374.1,686.2ZM387.1,687.5L389.6,686.8L388.9,687.9L390.7,685.7L387.9,685.5L389.1,685.7L386.9,687ZM399.2,686.7L401.7,687.1L400.7,687.8L403.2,686.5L400.7,685.2L401.7,685.9L399.2,686.2ZM416.9,686.2L412,685.9L413.3,684.7L409.9,686.5L413.3,688.2L412,687.1L416.9,686.7ZM429.7,686.2L424,685.9L425.4,684.5L421.7,686.5L425.4,688.4L424,687.1L429.7,686.7ZM442,686.2L436.3,685.9L437.7,684.5L434,686.5L437.7,688.4L436.3,687.1L442,686.7ZM492.2,686.2L484.7,685.9L486.4,684.3L482.2,686.5L486.4,688.7L484.7,687.1L492.2,686.7ZM504,684.3L497,686.9L497.9,684.8L494.9,688.4L499.6,688.8L497.4,688L504.2,684.8ZM515.8,686.2L510,685.9L511.5,684.5L507.8,686.5L511.5,688.4L510,687.1L515.8,686.7ZM313.1,697.9L315.6,698.3L314.6,699L317.1,697.7L314.6,696.4L315.6,697.1L313.1,697.4ZM324.9,697.9L328.2,698.3L327.1,699.1L329.9,697.7L327.1,696.2L328.2,697.1L324.9,697.4ZM337.2,697.9L340.5,698.3L339.4,699.1L342.2,697.7L339.4,696.2L340.5,697.1L337.2,697.4ZM349.5,697.9L352.8,698.3L351.7,699.1L354.5,697.7L351.7,696.2L352.8,697.1L349.5,697.4ZM361.8,697.9L365.1,698.3L364,699.1L366.8,697.7L364,696.2L365.1,697.1L361.8,697.4ZM374.1,697.9L377.4,698.3L376.3,699.1L379.1,697.7L376.3,696.2L377.4,697.1L374.1,697.4ZM386.4,697.9L389.7,698.3L388.6,699.1L391.4,697.7L388.6,696.2L389.7,697.1L386.4,697.4ZM400.9,695.7L400.6,698.2L399.9,697.2L401.2,699.7L402.5,697.2L401.8,698.2L401.4,695.7ZM417.9,697.4L411.3,697.1L412.9,695.6L408.9,697.7L412.9,699.7L411.3,698.3L417.9,697.9ZM430.2,697.4L423.6,697.1L425.2,695.6L421.2,697.7L425.2,699.7L423.6,698.3L430.2,697.9ZM443,697.4L435.6,697.1L437.2,695.5L433,697.7L437.2,699.8L435.6,698.3L443,697.9ZM455.8,697.4L447.4,697.1L449,695.5L444.8,697.7L449,699.8L447.4,698.3L455.8,697.9ZM468.1,697.4L459.6,697.1L461.3,695.5L457.1,697.7L461.3,699.8L459.6,698.3L468.1,697.9ZM480.4,697.4L471.9,697.1L473.6,695.5L469.4,697.7L473.6,699.8L471.9,698.3L480.4,697.9ZM492.7,697.4L484.2,697.1L485.9,695.5L481.7,697.7L485.9,699.8L484.2,698.3L492.7,697.9ZM504.5,697.4L497,697.1L498.7,695.5L494.5,697.7L498.7,699.8L497,698.3L504.5,697.9ZM516.3,697.4L509.7,697.1L511.3,695.6L507.3,697.7L511.3,699.7L509.7,698.3L516.3,697.9ZM313.1,709.1L315.6,709.5L314.6,710.1L317.1,708.9L314.6,707.6L315.6,708.2L313.1,708.6ZM325.4,709.1L327.9,709.5L326.9,710.1L329.4,708.9L326.9,707.6L327.9,708.2L325.4,708.6ZM339.4,706.9L339.1,709.4L338.4,708.4L339.7,710.9L341,708.4L340.3,709.4L339.9,706.9ZM362.8,709.1L364.5,709.5L363.6,710L365.8,708.9L363.6,707.7L364.5,708.2L362.8,708.6ZM375.7,710.1L377.1,709.1L376.9,710.2L377.6,707.8L375.3,708.5L376.3,708.3L375.3,709.7ZM388.6,706.9L388.3,709.4L387.6,708.4L388.9,710.9L390.2,708.4L389.5,709.4L389.1,706.9ZM417,707.1L411.6,709L412.4,707.2L409.8,710.4L413.9,710.7L412,710.1L417.2,707.6ZM429.7,708.6L424,708.2L425.4,706.9L421.7,708.9L425.4,710.8L424,709.5L429.7,709.1ZM442,708.6L436.3,708.2L437.7,706.9L434,708.9L437.7,710.8L436.3,709.5L442,709.1ZM453.8,708.6L448.9,708.2L450.2,707.1L446.8,708.9L450.2,710.6L448.9,709.5L453.8,709.1ZM466.1,708.6L461.2,708.2L462.5,707.1L459.1,708.9L462.5,710.6L461.2,709.5L466.1,709.1ZM478.4,708.6L473.5,708.2L474.8,707.1L471.4,708.9L474.8,710.6L473.5,709.5L478.4,709.1ZM313.1,720.3L315.6,720.6L314.6,721.3L317.1,720L314.6,718.7L315.6,719.4L313.1,719.8ZM325.4,720.3L327.9,720.6L326.9,721.3L329.4,720L326.9,718.7L327.9,719.4L325.4,719.8ZM337.7,720.3L340.2,720.6L339.2,721.3L341.7,720L339.2,718.7L340.2,719.4L337.7,719.8ZM351.1,721.3L352.5,720.3L352.3,721.3L353,719L350.7,719.7L351.7,719.5L350.7,720.9ZM376.3,718L376,720.5L375.3,719.5L376.6,722L377.9,719.5L377.2,720.5L376.8,718ZM414.7,718.4L412.7,720L412.9,718.8L412,721.5L414.7,720.6L413.5,720.8L415,718.8ZM427,718.4L425,720L425.2,718.8L424.3,721.5L427,720.6L425.8,720.8L427.3,718.8ZM439.3,718.4L437.3,720L437.5,718.8L436.6,721.5L439.3,720.6L438.1,720.8L439.6,718.8ZM451.6,718.4L449.6,720L449.8,718.8L448.9,721.5L451.6,720.6L450.4,720.8L451.9,718.8ZM463.9,718.4L461.8,720L462.1,718.8L461.2,721.5L463.9,720.6L462.7,720.8L464.2,718.8Z" fill="#555050" stroke="#555050" stroke-width="0.25" stroke-linejoin="round"/>
<path d="M396.2,631.4L403.5,630.9L402,633.1L406.1,629.8L401.3,627.8L403.3,629.5L396.2,631ZM408,631.5L416.3,630.8L414.8,633.1L418.9,629.8L414.1,627.7L416.1,629.4L408,631.1ZM420.3,631.5L428.6,630.8L427.1,633.1L431.2,629.8L426.4,627.7L428.4,629.4L420.3,631.1ZM432.6,631.5L440.9,630.8L439.4,633.1L443.5,629.8L438.7,627.7L440.7,629.4L432.6,631.1ZM444.9,631.5L453.2,630.8L451.7,633.1L455.8,629.8L450.9,627.7L453,629.4L444.9,631.1ZM457.2,631.5L465.5,630.8L464,633.1L468.1,629.8L463.2,627.7L465.3,629.4L457.1,631.1ZM469.5,631.5L477.8,630.8L476.3,633.1L480.4,629.8L475.5,627.7L477.6,629.4L469.4,631.1ZM481.8,631.5L490.1,630.8L488.6,633.1L492.7,629.8L487.8,627.7L489.9,629.4L481.7,631.1ZM494.1,631.5L502.4,630.8L500.9,633.1L505,629.8L500.1,627.7L502.2,629.4L494,631.1ZM506.4,631.5L514.7,630.8L513.2,633.1L517.2,629.8L512.4,627.7L514.5,629.4L506.3,631.1ZM395.7,642.7L404,642L402.5,644.2L406.6,640.9L401.8,638.9L403.8,640.6L395.7,642.3ZM408,642.7L416.3,642L414.8,644.2L418.9,640.9L414.1,638.9L416.1,640.6L408,642.3ZM420.3,642.7L428.6,642L427.1,644.2L431.2,640.9L426.4,638.9L428.4,640.6L420.3,642.3ZM432.6,642.7L440.9,642L439.4,644.2L443.5,640.9L438.7,638.9L440.7,640.6L432.6,642.3ZM444.9,642.7L453.2,642L451.7,644.2L455.8,640.9L450.9,638.9L453,640.6L444.9,642.3ZM457.2,642.7L465.5,642L464,644.2L468.1,640.9L463.2,638.9L465.3,640.6L457.1,642.3ZM469.5,642.7L477.8,642L476.3,644.2L480.4,640.9L475.5,638.9L477.6,640.6L469.4,642.3ZM481.8,642.7L490.1,642L488.6,644.2L492.7,640.9L487.8,638.9L489.9,640.6L481.7,642.3ZM455,677L448.5,673.8L450.9,672.6L445.7,673.4L448.8,677.6L447.9,675L454.9,677.4ZM467.3,677L460.8,673.8L463.2,672.6L458,673.4L461.1,677.6L460.2,675L467.2,677.4ZM514.5,672.3L510.3,675.8L510.2,673.2L509,678.1L513.8,676.9L511.3,676.8L514.8,672.6ZM455,688.2L448.5,684.9L450.9,683.8L445.7,684.6L448.8,688.8L447.9,686.2L454.9,688.6ZM467.3,688.2L460.8,684.9L463.2,683.8L458,684.6L461.1,688.8L460.2,686.2L467.2,688.6ZM479.9,686.3L472.6,685.8L474.4,683.8L469.9,686.5L474.4,689.2L472.6,687.2L479.9,686.7Z" fill="#111" stroke="#111" stroke-width="0.3" stroke-linejoin="round"/>
<g fill="#2fd62f"><circle cx="399.1" cy="587.6" r="1.3"/><circle cx="409.4" cy="587.6" r="1.3"/><circle cx="419.6" cy="587.6" r="1.3"/><circle cx="429.8" cy="587.6" r="1.3"/><circle cx="440.1" cy="587.6" r="1.3"/><circle cx="450.3" cy="587.6" r="1.3"/><circle cx="399.1" cy="597" r="1.3"/><circle cx="409.4" cy="597" r="1.3"/><circle cx="419.6" cy="597" r="1.3"/><circle cx="429.8" cy="597" r="1.3"/><circle cx="440.1" cy="624.9" r="1.3"/><circle cx="419.6" cy="634.2" r="1.3"/><circle cx="429.8" cy="634.2" r="1.3"/><circle cx="440.1" cy="634.2" r="1.3"/><circle cx="511.8" cy="652.9" r="1.3"/><circle cx="491.3" cy="662.2" r="1.3"/><circle cx="501.6" cy="662.2" r="1.3"/><circle cx="511.8" cy="662.2" r="1.3"/><circle cx="378.6" cy="671.5" r="1.3"/><circle cx="388.9" cy="671.5" r="1.3"/><circle cx="491.3" cy="671.5" r="1.3"/><circle cx="501.6" cy="671.5" r="1.3"/><circle cx="511.8" cy="671.5" r="1.3"/><circle cx="378.6" cy="680.9" r="1.3"/><circle cx="491.3" cy="680.9" r="1.3"/><circle cx="501.6" cy="680.9" r="1.3"/><circle cx="511.8" cy="680.9" r="1.3"/></g>
</g>
<rect x="473.3" y="708.3" width="38.6" height="18.8" fill="#fff" stroke="#4a4a4a" stroke-width="1"/>
<text x="475.3" y="722.6" class="t" style="font-size:12.5px">0.7</text>
<path d="M498.3,718L507,718" stroke="#222" stroke-width="1.2"/><path d="M510.3,718L505,715.6L506.2,718L505,720.4Z" fill="#222"/>
<rect x="307" y="522.6" width="205" height="204.6" fill="none" stroke="#4a4a4a" stroke-width="1.3"/>
<line x1="302.5" y1="541.0" x2="307" y2="541.0" stroke="#4a4a4a" stroke-width="1.2"/>
<text x="300" y="545.2" text-anchor="end" class="t">60°N</text>
<line x1="302.5" y1="615.6" x2="307" y2="615.6" stroke="#4a4a4a" stroke-width="1.2"/>
<text x="300" y="619.8" text-anchor="end" class="t">40°N</text>
<line x1="302.5" y1="690.2" x2="307" y2="690.2" stroke="#4a4a4a" stroke-width="1.2"/>
<text x="300" y="694.4" text-anchor="end" class="t">20°N</text>
<line x1="306.9" y1="727.2" x2="306.9" y2="731.7" stroke="#4a4a4a" stroke-width="1.2"/>
<text x="306.9" y="743.6" text-anchor="middle" class="t">100°E</text>
<line x1="409.4" y1="727.2" x2="409.4" y2="731.7" stroke="#4a4a4a" stroke-width="1.2"/>
<text x="409.4" y="743.6" text-anchor="middle" class="t">125°E</text>
<line x1="511.8" y1="727.2" x2="511.8" y2="731.7" stroke="#4a4a4a" stroke-width="1.2"/>
<text x="511.8" y="743.6" text-anchor="middle" class="t">150°E</text>
<text x="273.0" y="526" class="lab">(f)</text>
<linearGradient id="g1" x1="0" y1="0" x2="0" y2="1"><stop offset="0.0000" stop-color="#21458f"/><stop offset="0.0357" stop-color="#27519c"/><stop offset="0.0714" stop-color="#2d5ca9"/><stop offset="0.1071" stop-color="#366eb6"/><stop offset="0.1429" stop-color="#3f7fc2"/><stop offset="0.1786" stop-color="#4d91ce"/><stop offset="0.2143" stop-color="#5aa3da"/><stop offset="0.2500" stop-color="#6bb4e3"/><stop offset="0.2857" stop-color="#7cc5ec"/><stop offset="0.3214" stop-color="#99d2f0"/><stop offset="0.3571" stop-color="#b6e0f4"/><stop offset="0.3929" stop-color="#cceaf7"/><stop offset="0.4286" stop-color="#e2f3fa"/><stop offset="0.4643" stop-color="#f1f9f9"/><stop offset="0.5000" stop-color="#fffff8"/><stop offset="0.5357" stop-color="#fff8d6"/><stop offset="0.5714" stop-color="#fff0b4"/><stop offset="0.6071" stop-color="#fee290"/><stop offset="0.6429" stop-color="#fdd46c"/><stop offset="0.6786" stop-color="#fbc14f"/><stop offset="0.7143" stop-color="#f9ae32"/><stop offset="0.7500" stop-color="#f79d2c"/><stop offset="0.7857" stop-color="#f58c26"/><stop offset="0.8214" stop-color="#f07927"/><stop offset="0.8571" stop-color="#ec6628"/><stop offset="0.8929" stop-color="#e45229"/><stop offset="0.9286" stop-color="#dc3f2a"/><stop offset="0.9643" stop-color="#d22e29"/><stop offset="1.0000" stop-color="#c81d28"/></linearGradient>
<rect x="520.9" y="267.3" width="11.6" height="204.6" fill="url(#g1)" stroke="#2a2a2a" stroke-width="1.1"/>
<line x1="528.8" y1="281.9" x2="532.5" y2="281.9" stroke="#333" stroke-width="1.1"/>
<text x="537" y="286.2" class="t" style="font-size:12px">0.6</text>
<line x1="528.8" y1="325.9" x2="532.5" y2="325.9" stroke="#333" stroke-width="1.1"/>
<text x="537" y="330.2" class="t" style="font-size:12px">0.3</text>
<line x1="528.8" y1="369.8" x2="532.5" y2="369.8" stroke="#333" stroke-width="1.1"/>
<text x="537" y="374.1" class="t" style="font-size:12px">0</text>
<line x1="528.8" y1="413.8" x2="532.5" y2="413.8" stroke="#333" stroke-width="1.1"/>
<text x="537" y="418.1" class="t" style="font-size:12px">-0.3</text>
<line x1="528.8" y1="457.7" x2="532.5" y2="457.7" stroke="#333" stroke-width="1.1"/>
<text x="537" y="462.0" class="t" style="font-size:12px">-0.6</text>
<text transform="translate(567.8,369.8) rotate(-90)" text-anchor="middle" class="t" style="font-size:11.9px">Rainfall (std)</text>
<rect x="520.9" y="522.40" width="11.6" height="10.58" fill="#d93a2b"/>
<rect x="520.9" y="532.68" width="11.6" height="10.58" fill="#e4512e"/>
<rect x="520.9" y="542.96" width="11.6" height="10.58" fill="#ef6f2d"/>
<rect x="520.9" y="553.24" width="11.6" height="10.58" fill="#f58a2f"/>
<rect x="520.9" y="563.52" width="11.6" height="10.58" fill="#f9a43a"/>
<rect x="520.9" y="573.80" width="11.6" height="10.58" fill="#fcc15a"/>
<rect x="520.9" y="584.08" width="11.6" height="10.58" fill="#fdd98a"/>
<rect x="520.9" y="594.36" width="11.6" height="10.58" fill="#feeab0"/>
<rect x="520.9" y="604.64" width="11.6" height="10.58" fill="#fff5d8"/>
<rect x="520.9" y="614.92" width="11.6" height="10.58" fill="#fffdf2"/>
<rect x="520.9" y="625.20" width="11.6" height="10.58" fill="#eef7fc"/>
<rect x="520.9" y="635.48" width="11.6" height="10.58" fill="#d3ebf7"/>
<rect x="520.9" y="645.76" width="11.6" height="10.58" fill="#acd9f0"/>
<rect x="520.9" y="656.04" width="11.6" height="10.58" fill="#8ccbed"/>
<rect x="520.9" y="666.32" width="11.6" height="10.58" fill="#73b7e4"/>
<rect x="520.9" y="676.60" width="11.6" height="10.58" fill="#64a6dc"/>
<rect x="520.9" y="686.88" width="11.6" height="10.58" fill="#5592d0"/>
<rect x="520.9" y="697.16" width="11.6" height="10.58" fill="#4a7fc4"/>
<rect x="520.9" y="707.44" width="11.6" height="10.58" fill="#3f6db8"/>
<rect x="520.9" y="717.72" width="11.6" height="10.58" fill="#2f56a6"/>
<rect x="520.9" y="522.4" width="11.6" height="205.6" fill="none" stroke="#2a2a2a" stroke-width="1.1"/>
<line x1="528.8" y1="532.7" x2="532.5" y2="532.7" stroke="#333" stroke-width="1.1"/>
<text x="537" y="537.0" class="t" style="font-size:12px">9</text>
<line x1="528.8" y1="563.5" x2="532.5" y2="563.5" stroke="#333" stroke-width="1.1"/>
<text x="537" y="567.8" class="t" style="font-size:12px">6</text>
<line x1="528.8" y1="594.4" x2="532.5" y2="594.4" stroke="#333" stroke-width="1.1"/>
<text x="537" y="598.7" class="t" style="font-size:12px">3</text>
<line x1="528.8" y1="625.2" x2="532.5" y2="625.2" stroke="#333" stroke-width="1.1"/>
<text x="537" y="629.5" class="t" style="font-size:12px">0</text>
<line x1="528.8" y1="656.0" x2="532.5" y2="656.0" stroke="#333" stroke-width="1.1"/>
<text x="537" y="660.3" class="t" style="font-size:12px">-3</text>
<line x1="528.8" y1="686.9" x2="532.5" y2="686.9" stroke="#333" stroke-width="1.1"/>
<text x="537" y="691.2" class="t" style="font-size:12px">-6</text>
<line x1="528.8" y1="717.7" x2="532.5" y2="717.7" stroke="#333" stroke-width="1.1"/>
<text x="537" y="722.0" class="t" style="font-size:12px">-9</text>
<text transform="translate(569.1,624.5) rotate(-90)" text-anchor="middle" class="t" style="font-size:11.9px">Vertical velocity (10<tspan dy="-4" font-size="8">-3</tspan><tspan dy="4"> Pa s</tspan><tspan dy="-4" font-size="8">-1</tspan><tspan dy="4">)</tspan></text>
</svg></body></html>
